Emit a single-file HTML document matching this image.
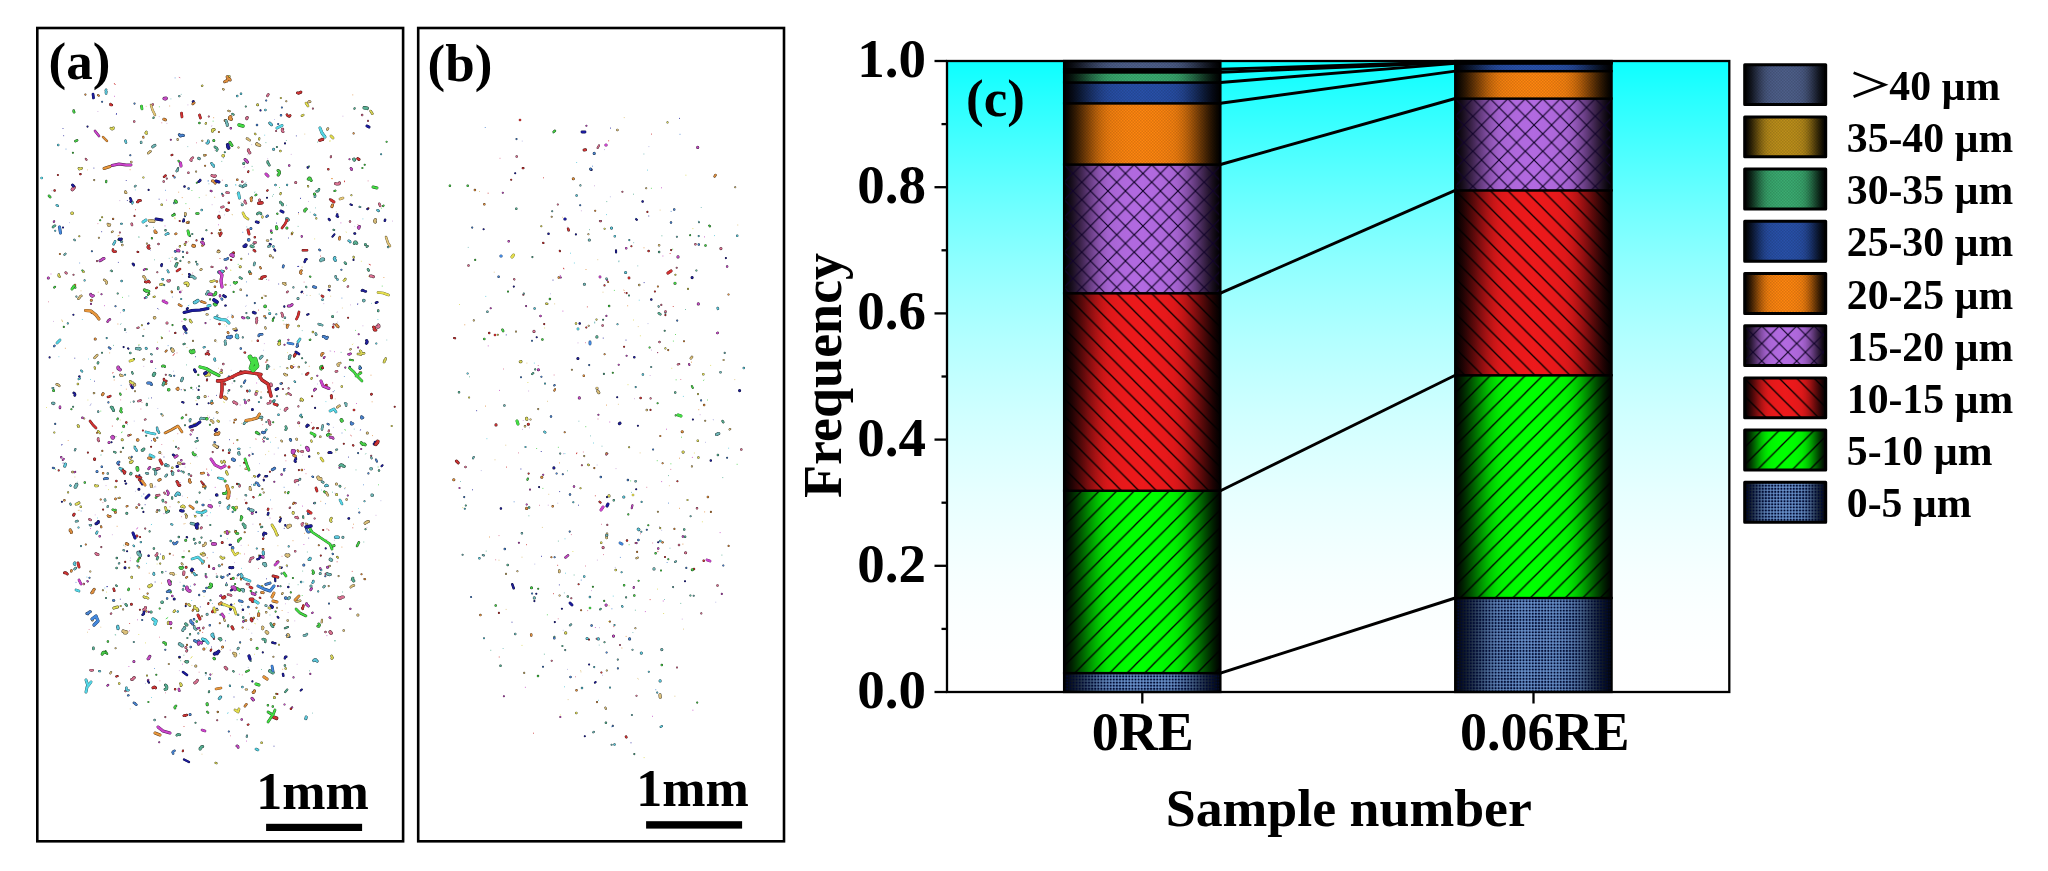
<!DOCTYPE html>
<html><head><meta charset="utf-8"><title>figure</title>
<style>
html,body{margin:0;padding:0;background:#fff;}
body{width:2048px;height:871px;overflow:hidden;position:relative;font-family:"Liberation Serif",serif;}
svg{position:absolute;left:0;top:0;will-change:transform;}
svg text{font-family:"Liberation Serif",serif;font-weight:bold;fill:#000;}
.panel{position:absolute;box-sizing:border-box;border:2.6px solid #000;background:#fff;}
</style></head><body>
<svg width="2048" height="871" viewBox="0 0 2048 871">
<defs>



<linearGradient id="bg" x1="0" x2="0" y1="0" y2="1"><stop offset="0.000" stop-color="#0cffff"/><stop offset="0.062" stop-color="#29ffff"/><stop offset="0.125" stop-color="#44ffff"/><stop offset="0.188" stop-color="#5effff"/><stop offset="0.250" stop-color="#76ffff"/><stop offset="0.312" stop-color="#8cffff"/><stop offset="0.375" stop-color="#a0ffff"/><stop offset="0.438" stop-color="#b2ffff"/><stop offset="0.500" stop-color="#c2ffff"/><stop offset="0.562" stop-color="#d0ffff"/><stop offset="0.625" stop-color="#dcffff"/><stop offset="0.688" stop-color="#e7ffff"/><stop offset="0.750" stop-color="#efffff"/><stop offset="0.812" stop-color="#f6ffff"/><stop offset="0.875" stop-color="#fbffff"/><stop offset="0.938" stop-color="#feffff"/><stop offset="1.000" stop-color="#ffffff"/></linearGradient>
<linearGradient id="g0" x1="0" x2="1" y1="0" y2="0"><stop offset="0.000" stop-color="#000000"/><stop offset="0.025" stop-color="#07090d"/><stop offset="0.050" stop-color="#10161e"/><stop offset="0.075" stop-color="#1a2431"/><stop offset="0.100" stop-color="#253346"/><stop offset="0.125" stop-color="#31435c"/><stop offset="0.150" stop-color="#3d5473"/><stop offset="0.175" stop-color="#496488"/><stop offset="0.200" stop-color="#54739d"/><stop offset="0.225" stop-color="#5e80af"/><stop offset="0.250" stop-color="#668cbf"/><stop offset="0.275" stop-color="#6d95cb"/><stop offset="0.300" stop-color="#719ad3"/><stop offset="0.325" stop-color="#739dd6"/><stop offset="0.350" stop-color="#749fd9"/><stop offset="0.375" stop-color="#75a0db"/><stop offset="0.400" stop-color="#76a2dd"/><stop offset="0.425" stop-color="#77a3de"/><stop offset="0.450" stop-color="#77a3df"/><stop offset="0.475" stop-color="#77a3df"/><stop offset="0.500" stop-color="#78a4e0"/><stop offset="0.525" stop-color="#77a3df"/><stop offset="0.550" stop-color="#77a3df"/><stop offset="0.575" stop-color="#77a3de"/><stop offset="0.600" stop-color="#76a2dd"/><stop offset="0.625" stop-color="#75a0db"/><stop offset="0.650" stop-color="#749fd9"/><stop offset="0.675" stop-color="#739dd6"/><stop offset="0.700" stop-color="#719ad3"/><stop offset="0.725" stop-color="#6d95cb"/><stop offset="0.750" stop-color="#668cbf"/><stop offset="0.775" stop-color="#5e80af"/><stop offset="0.800" stop-color="#54739d"/><stop offset="0.825" stop-color="#496488"/><stop offset="0.850" stop-color="#3d5473"/><stop offset="0.875" stop-color="#31435c"/><stop offset="0.900" stop-color="#253346"/><stop offset="0.925" stop-color="#1a2431"/><stop offset="0.950" stop-color="#10161e"/><stop offset="0.975" stop-color="#07090d"/><stop offset="1.000" stop-color="#000000"/></linearGradient>
<linearGradient id="g1" x1="0" x2="1" y1="0" y2="0"><stop offset="0.000" stop-color="#000000"/><stop offset="0.025" stop-color="#000f00"/><stop offset="0.050" stop-color="#002200"/><stop offset="0.075" stop-color="#003800"/><stop offset="0.100" stop-color="#005000"/><stop offset="0.125" stop-color="#006900"/><stop offset="0.150" stop-color="#008200"/><stop offset="0.175" stop-color="#009b00"/><stop offset="0.200" stop-color="#00b300"/><stop offset="0.225" stop-color="#00c800"/><stop offset="0.250" stop-color="#00d900"/><stop offset="0.275" stop-color="#00e700"/><stop offset="0.300" stop-color="#00f000"/><stop offset="0.325" stop-color="#00f400"/><stop offset="0.350" stop-color="#00f700"/><stop offset="0.375" stop-color="#00fa00"/><stop offset="0.400" stop-color="#00fc00"/><stop offset="0.425" stop-color="#00fd00"/><stop offset="0.450" stop-color="#00fe00"/><stop offset="0.475" stop-color="#00fe00"/><stop offset="0.500" stop-color="#00ff00"/><stop offset="0.525" stop-color="#00fe00"/><stop offset="0.550" stop-color="#00fe00"/><stop offset="0.575" stop-color="#00fd00"/><stop offset="0.600" stop-color="#00fc00"/><stop offset="0.625" stop-color="#00fa00"/><stop offset="0.650" stop-color="#00f700"/><stop offset="0.675" stop-color="#00f400"/><stop offset="0.700" stop-color="#00f000"/><stop offset="0.725" stop-color="#00e700"/><stop offset="0.750" stop-color="#00d900"/><stop offset="0.775" stop-color="#00c800"/><stop offset="0.800" stop-color="#00b300"/><stop offset="0.825" stop-color="#009b00"/><stop offset="0.850" stop-color="#008200"/><stop offset="0.875" stop-color="#006900"/><stop offset="0.900" stop-color="#005000"/><stop offset="0.925" stop-color="#003800"/><stop offset="0.950" stop-color="#002200"/><stop offset="0.975" stop-color="#000f00"/><stop offset="1.000" stop-color="#000000"/></linearGradient>
<linearGradient id="g2" x1="0" x2="1" y1="0" y2="0"><stop offset="0.000" stop-color="#000000"/><stop offset="0.025" stop-color="#0e0101"/><stop offset="0.050" stop-color="#1f0303"/><stop offset="0.075" stop-color="#340506"/><stop offset="0.100" stop-color="#4a0808"/><stop offset="0.125" stop-color="#610a0b"/><stop offset="0.150" stop-color="#790d0e"/><stop offset="0.175" stop-color="#900f11"/><stop offset="0.200" stop-color="#a51213"/><stop offset="0.225" stop-color="#b91415"/><stop offset="0.250" stop-color="#c91617"/><stop offset="0.275" stop-color="#d61719"/><stop offset="0.300" stop-color="#de181a"/><stop offset="0.325" stop-color="#e2181a"/><stop offset="0.350" stop-color="#e5191b"/><stop offset="0.375" stop-color="#e7191b"/><stop offset="0.400" stop-color="#e9191b"/><stop offset="0.425" stop-color="#ea191b"/><stop offset="0.450" stop-color="#eb191b"/><stop offset="0.475" stop-color="#eb191b"/><stop offset="0.500" stop-color="#ec1a1c"/><stop offset="0.525" stop-color="#eb191b"/><stop offset="0.550" stop-color="#eb191b"/><stop offset="0.575" stop-color="#ea191b"/><stop offset="0.600" stop-color="#e9191b"/><stop offset="0.625" stop-color="#e7191b"/><stop offset="0.650" stop-color="#e5191b"/><stop offset="0.675" stop-color="#e2181a"/><stop offset="0.700" stop-color="#de181a"/><stop offset="0.725" stop-color="#d61719"/><stop offset="0.750" stop-color="#c91617"/><stop offset="0.775" stop-color="#b91415"/><stop offset="0.800" stop-color="#a51213"/><stop offset="0.825" stop-color="#900f11"/><stop offset="0.850" stop-color="#790d0e"/><stop offset="0.875" stop-color="#610a0b"/><stop offset="0.900" stop-color="#4a0808"/><stop offset="0.925" stop-color="#340506"/><stop offset="0.950" stop-color="#1f0303"/><stop offset="0.975" stop-color="#0e0101"/><stop offset="1.000" stop-color="#000000"/></linearGradient>
<linearGradient id="g3" x1="0" x2="1" y1="0" y2="0"><stop offset="0.000" stop-color="#000000"/><stop offset="0.025" stop-color="#0a060d"/><stop offset="0.050" stop-color="#180e1e"/><stop offset="0.075" stop-color="#271731"/><stop offset="0.100" stop-color="#382146"/><stop offset="0.125" stop-color="#492b5c"/><stop offset="0.150" stop-color="#5b3673"/><stop offset="0.175" stop-color="#6c4088"/><stop offset="0.200" stop-color="#7d4a9d"/><stop offset="0.225" stop-color="#8b53af"/><stop offset="0.250" stop-color="#985abf"/><stop offset="0.275" stop-color="#a160cb"/><stop offset="0.300" stop-color="#a764d3"/><stop offset="0.325" stop-color="#aa65d6"/><stop offset="0.350" stop-color="#ac67d9"/><stop offset="0.375" stop-color="#ae68db"/><stop offset="0.400" stop-color="#b068dd"/><stop offset="0.425" stop-color="#b069de"/><stop offset="0.450" stop-color="#b169df"/><stop offset="0.475" stop-color="#b169df"/><stop offset="0.500" stop-color="#b26ae0"/><stop offset="0.525" stop-color="#b169df"/><stop offset="0.550" stop-color="#b169df"/><stop offset="0.575" stop-color="#b069de"/><stop offset="0.600" stop-color="#b068dd"/><stop offset="0.625" stop-color="#ae68db"/><stop offset="0.650" stop-color="#ac67d9"/><stop offset="0.675" stop-color="#aa65d6"/><stop offset="0.700" stop-color="#a764d3"/><stop offset="0.725" stop-color="#a160cb"/><stop offset="0.750" stop-color="#985abf"/><stop offset="0.775" stop-color="#8b53af"/><stop offset="0.800" stop-color="#7d4a9d"/><stop offset="0.825" stop-color="#6c4088"/><stop offset="0.850" stop-color="#5b3673"/><stop offset="0.875" stop-color="#492b5c"/><stop offset="0.900" stop-color="#382146"/><stop offset="0.925" stop-color="#271731"/><stop offset="0.950" stop-color="#180e1e"/><stop offset="0.975" stop-color="#0a060d"/><stop offset="1.000" stop-color="#000000"/></linearGradient>
<linearGradient id="g4" x1="0" x2="1" y1="0" y2="0"><stop offset="0.000" stop-color="#000000"/><stop offset="0.025" stop-color="#0f0800"/><stop offset="0.050" stop-color="#221202"/><stop offset="0.075" stop-color="#381d03"/><stop offset="0.100" stop-color="#502a05"/><stop offset="0.125" stop-color="#693706"/><stop offset="0.150" stop-color="#824408"/><stop offset="0.175" stop-color="#9b5109"/><stop offset="0.200" stop-color="#b35e0b"/><stop offset="0.225" stop-color="#c8690c"/><stop offset="0.250" stop-color="#d9720d"/><stop offset="0.275" stop-color="#e7790e"/><stop offset="0.300" stop-color="#f07e0f"/><stop offset="0.325" stop-color="#f4800f"/><stop offset="0.350" stop-color="#f7820f"/><stop offset="0.375" stop-color="#fa830f"/><stop offset="0.400" stop-color="#fc840f"/><stop offset="0.425" stop-color="#fd850f"/><stop offset="0.450" stop-color="#fe850f"/><stop offset="0.475" stop-color="#fe850f"/><stop offset="0.500" stop-color="#ff8610"/><stop offset="0.525" stop-color="#fe850f"/><stop offset="0.550" stop-color="#fe850f"/><stop offset="0.575" stop-color="#fd850f"/><stop offset="0.600" stop-color="#fc840f"/><stop offset="0.625" stop-color="#fa830f"/><stop offset="0.650" stop-color="#f7820f"/><stop offset="0.675" stop-color="#f4800f"/><stop offset="0.700" stop-color="#f07e0f"/><stop offset="0.725" stop-color="#e7790e"/><stop offset="0.750" stop-color="#d9720d"/><stop offset="0.775" stop-color="#c8690c"/><stop offset="0.800" stop-color="#b35e0b"/><stop offset="0.825" stop-color="#9b5109"/><stop offset="0.850" stop-color="#824408"/><stop offset="0.875" stop-color="#693706"/><stop offset="0.900" stop-color="#502a05"/><stop offset="0.925" stop-color="#381d03"/><stop offset="0.950" stop-color="#221202"/><stop offset="0.975" stop-color="#0f0800"/><stop offset="1.000" stop-color="#000000"/></linearGradient>
<linearGradient id="g5" x1="0" x2="1" y1="0" y2="0"><stop offset="0.000" stop-color="#000000"/><stop offset="0.025" stop-color="#02040a"/><stop offset="0.050" stop-color="#050a16"/><stop offset="0.075" stop-color="#091125"/><stop offset="0.100" stop-color="#0c1935"/><stop offset="0.125" stop-color="#102146"/><stop offset="0.150" stop-color="#152957"/><stop offset="0.175" stop-color="#193167"/><stop offset="0.200" stop-color="#1c3877"/><stop offset="0.225" stop-color="#203f85"/><stop offset="0.250" stop-color="#234591"/><stop offset="0.275" stop-color="#25499a"/><stop offset="0.300" stop-color="#264ca0"/><stop offset="0.325" stop-color="#274da3"/><stop offset="0.350" stop-color="#274ea5"/><stop offset="0.375" stop-color="#284fa6"/><stop offset="0.400" stop-color="#2850a8"/><stop offset="0.425" stop-color="#2850a9"/><stop offset="0.450" stop-color="#2850a9"/><stop offset="0.475" stop-color="#2850a9"/><stop offset="0.500" stop-color="#2951aa"/><stop offset="0.525" stop-color="#2850a9"/><stop offset="0.550" stop-color="#2850a9"/><stop offset="0.575" stop-color="#2850a9"/><stop offset="0.600" stop-color="#2850a8"/><stop offset="0.625" stop-color="#284fa6"/><stop offset="0.650" stop-color="#274ea5"/><stop offset="0.675" stop-color="#274da3"/><stop offset="0.700" stop-color="#264ca0"/><stop offset="0.725" stop-color="#25499a"/><stop offset="0.750" stop-color="#234591"/><stop offset="0.775" stop-color="#203f85"/><stop offset="0.800" stop-color="#1c3877"/><stop offset="0.825" stop-color="#193167"/><stop offset="0.850" stop-color="#152957"/><stop offset="0.875" stop-color="#102146"/><stop offset="0.900" stop-color="#0c1935"/><stop offset="0.925" stop-color="#091125"/><stop offset="0.950" stop-color="#050a16"/><stop offset="0.975" stop-color="#02040a"/><stop offset="1.000" stop-color="#000000"/></linearGradient>
<linearGradient id="g6" x1="0" x2="1" y1="0" y2="0"><stop offset="0.000" stop-color="#000000"/><stop offset="0.025" stop-color="#030a06"/><stop offset="0.050" stop-color="#07170f"/><stop offset="0.075" stop-color="#0d2619"/><stop offset="0.100" stop-color="#123623"/><stop offset="0.125" stop-color="#18472e"/><stop offset="0.150" stop-color="#1e583a"/><stop offset="0.175" stop-color="#246945"/><stop offset="0.200" stop-color="#29784f"/><stop offset="0.225" stop-color="#2e8658"/><stop offset="0.250" stop-color="#329360"/><stop offset="0.275" stop-color="#359c66"/><stop offset="0.300" stop-color="#37a26a"/><stop offset="0.325" stop-color="#38a56c"/><stop offset="0.350" stop-color="#39a76d"/><stop offset="0.375" stop-color="#39a86e"/><stop offset="0.400" stop-color="#3aaa6f"/><stop offset="0.425" stop-color="#3aab70"/><stop offset="0.450" stop-color="#3aab70"/><stop offset="0.475" stop-color="#3aab70"/><stop offset="0.500" stop-color="#3bac71"/><stop offset="0.525" stop-color="#3aab70"/><stop offset="0.550" stop-color="#3aab70"/><stop offset="0.575" stop-color="#3aab70"/><stop offset="0.600" stop-color="#3aaa6f"/><stop offset="0.625" stop-color="#39a86e"/><stop offset="0.650" stop-color="#39a76d"/><stop offset="0.675" stop-color="#38a56c"/><stop offset="0.700" stop-color="#37a26a"/><stop offset="0.725" stop-color="#359c66"/><stop offset="0.750" stop-color="#329360"/><stop offset="0.775" stop-color="#2e8658"/><stop offset="0.800" stop-color="#29784f"/><stop offset="0.825" stop-color="#246945"/><stop offset="0.850" stop-color="#1e583a"/><stop offset="0.875" stop-color="#18472e"/><stop offset="0.900" stop-color="#123623"/><stop offset="0.925" stop-color="#0d2619"/><stop offset="0.950" stop-color="#07170f"/><stop offset="0.975" stop-color="#030a06"/><stop offset="1.000" stop-color="#000000"/></linearGradient>
<linearGradient id="g7" x1="0" x2="1" y1="0" y2="0"><stop offset="0.000" stop-color="#000000"/><stop offset="0.025" stop-color="#0b0801"/><stop offset="0.050" stop-color="#191303"/><stop offset="0.075" stop-color="#291f05"/><stop offset="0.100" stop-color="#3b2d08"/><stop offset="0.125" stop-color="#4d3b0b"/><stop offset="0.150" stop-color="#60490d"/><stop offset="0.175" stop-color="#725710"/><stop offset="0.200" stop-color="#846412"/><stop offset="0.225" stop-color="#937015"/><stop offset="0.250" stop-color="#a07a17"/><stop offset="0.275" stop-color="#aa8118"/><stop offset="0.300" stop-color="#b18619"/><stop offset="0.325" stop-color="#b48919"/><stop offset="0.350" stop-color="#b68a1a"/><stop offset="0.375" stop-color="#b88c1a"/><stop offset="0.400" stop-color="#b98d1a"/><stop offset="0.425" stop-color="#ba8e1a"/><stop offset="0.450" stop-color="#bb8e1a"/><stop offset="0.475" stop-color="#bb8e1a"/><stop offset="0.500" stop-color="#bc8f1b"/><stop offset="0.525" stop-color="#bb8e1a"/><stop offset="0.550" stop-color="#bb8e1a"/><stop offset="0.575" stop-color="#ba8e1a"/><stop offset="0.600" stop-color="#b98d1a"/><stop offset="0.625" stop-color="#b88c1a"/><stop offset="0.650" stop-color="#b68a1a"/><stop offset="0.675" stop-color="#b48919"/><stop offset="0.700" stop-color="#b18619"/><stop offset="0.725" stop-color="#aa8118"/><stop offset="0.750" stop-color="#a07a17"/><stop offset="0.775" stop-color="#937015"/><stop offset="0.800" stop-color="#846412"/><stop offset="0.825" stop-color="#725710"/><stop offset="0.850" stop-color="#60490d"/><stop offset="0.875" stop-color="#4d3b0b"/><stop offset="0.900" stop-color="#3b2d08"/><stop offset="0.925" stop-color="#291f05"/><stop offset="0.950" stop-color="#191303"/><stop offset="0.975" stop-color="#0b0801"/><stop offset="1.000" stop-color="#000000"/></linearGradient>
<linearGradient id="g8" x1="0" x2="1" y1="0" y2="0"><stop offset="0.000" stop-color="#000000"/><stop offset="0.025" stop-color="#040508"/><stop offset="0.050" stop-color="#0a0c12"/><stop offset="0.075" stop-color="#11151e"/><stop offset="0.100" stop-color="#181d2b"/><stop offset="0.125" stop-color="#202739"/><stop offset="0.150" stop-color="#283046"/><stop offset="0.175" stop-color="#2f3a54"/><stop offset="0.200" stop-color="#364260"/><stop offset="0.225" stop-color="#3d4a6c"/><stop offset="0.250" stop-color="#425175"/><stop offset="0.275" stop-color="#46567d"/><stop offset="0.300" stop-color="#495982"/><stop offset="0.325" stop-color="#4a5b84"/><stop offset="0.350" stop-color="#4b5c86"/><stop offset="0.375" stop-color="#4c5d87"/><stop offset="0.400" stop-color="#4d5d88"/><stop offset="0.425" stop-color="#4d5e89"/><stop offset="0.450" stop-color="#4d5e89"/><stop offset="0.475" stop-color="#4d5e89"/><stop offset="0.500" stop-color="#4e5f8a"/><stop offset="0.525" stop-color="#4d5e89"/><stop offset="0.550" stop-color="#4d5e89"/><stop offset="0.575" stop-color="#4d5e89"/><stop offset="0.600" stop-color="#4d5d88"/><stop offset="0.625" stop-color="#4c5d87"/><stop offset="0.650" stop-color="#4b5c86"/><stop offset="0.675" stop-color="#4a5b84"/><stop offset="0.700" stop-color="#495982"/><stop offset="0.725" stop-color="#46567d"/><stop offset="0.750" stop-color="#425175"/><stop offset="0.775" stop-color="#3d4a6c"/><stop offset="0.800" stop-color="#364260"/><stop offset="0.825" stop-color="#2f3a54"/><stop offset="0.850" stop-color="#283046"/><stop offset="0.875" stop-color="#202739"/><stop offset="0.900" stop-color="#181d2b"/><stop offset="0.925" stop-color="#11151e"/><stop offset="0.950" stop-color="#0a0c12"/><stop offset="0.975" stop-color="#040508"/><stop offset="1.000" stop-color="#000000"/></linearGradient>
<pattern id="pfw" width="17.5" height="17.5" patternUnits="userSpaceOnUse"><path d="M-2,19.5L19.5,-2M-2,2L2,-2M15.5,19.5L19.5,15.5" stroke="#000" stroke-width="1.3" fill="none"/></pattern>
<pattern id="pbk" width="17.5" height="17.5" patternUnits="userSpaceOnUse"><path d="M-2,-2L19.5,19.5M15.5,-2L19.5,2M-2,15.5L2,19.5" stroke="#000" stroke-width="1.3" fill="none"/></pattern>
<pattern id="pxx" width="17.5" height="17.5" patternUnits="userSpaceOnUse"><path d="M-2,19.5L19.5,-2M-2,2L2,-2M15.5,19.5L19.5,15.5M-2,-2L19.5,19.5M15.5,-2L19.5,2M-2,15.5L2,19.5" stroke="#12042a" stroke-width="1.2" fill="none"/></pattern>
<pattern id="pdot" width="3.1" height="3.1" patternUnits="userSpaceOnUse"><rect x="-1.05" y="-1.05" width="2.1" height="2.1" fill="#000a32"/><rect x="2.05" y="-1.05" width="2.1" height="2.1" fill="#000a32"/><rect x="-1.05" y="2.05" width="2.1" height="2.1" fill="#000a32"/><rect x="2.05" y="2.05" width="2.1" height="2.1" fill="#000a32"/></pattern>
<pattern id="pfine" width="3" height="3" patternUnits="userSpaceOnUse"><path d="M0,0h1.5v1.5h-1.5zM1.5,1.5h1.5v1.5h-1.5z" fill="#000" opacity="0.13"/></pattern>
<linearGradient id="l0" x1="0" x2="1" y1="0" y2="0"><stop offset="0.000" stop-color="#000000"/><stop offset="0.042" stop-color="#0d1118"/><stop offset="0.083" stop-color="#1e2938"/><stop offset="0.125" stop-color="#31435c"/><stop offset="0.167" stop-color="#455e81"/><stop offset="0.208" stop-color="#5777a3"/><stop offset="0.250" stop-color="#668cbf"/><stop offset="0.292" stop-color="#7099d1"/><stop offset="0.333" stop-color="#739ed7"/><stop offset="0.375" stop-color="#75a0db"/><stop offset="0.417" stop-color="#77a2de"/><stop offset="0.458" stop-color="#77a3df"/><stop offset="0.500" stop-color="#78a4e0"/><stop offset="0.542" stop-color="#77a3df"/><stop offset="0.583" stop-color="#77a2de"/><stop offset="0.625" stop-color="#75a0db"/><stop offset="0.667" stop-color="#739ed7"/><stop offset="0.708" stop-color="#7099d1"/><stop offset="0.750" stop-color="#668cbf"/><stop offset="0.792" stop-color="#5777a3"/><stop offset="0.833" stop-color="#455e81"/><stop offset="0.875" stop-color="#31435c"/><stop offset="0.917" stop-color="#1e2938"/><stop offset="0.958" stop-color="#0d1118"/><stop offset="1.000" stop-color="#000000"/></linearGradient>
<linearGradient id="l1" x1="0" x2="1" y1="0" y2="0"><stop offset="0.000" stop-color="#000000"/><stop offset="0.042" stop-color="#001b00"/><stop offset="0.083" stop-color="#004000"/><stop offset="0.125" stop-color="#006900"/><stop offset="0.167" stop-color="#009300"/><stop offset="0.208" stop-color="#00ba00"/><stop offset="0.250" stop-color="#00d900"/><stop offset="0.292" stop-color="#00ee00"/><stop offset="0.333" stop-color="#00f500"/><stop offset="0.375" stop-color="#00fa00"/><stop offset="0.417" stop-color="#00fd00"/><stop offset="0.458" stop-color="#00fe00"/><stop offset="0.500" stop-color="#00ff00"/><stop offset="0.542" stop-color="#00fe00"/><stop offset="0.583" stop-color="#00fd00"/><stop offset="0.625" stop-color="#00fa00"/><stop offset="0.667" stop-color="#00f500"/><stop offset="0.708" stop-color="#00ee00"/><stop offset="0.750" stop-color="#00d900"/><stop offset="0.792" stop-color="#00ba00"/><stop offset="0.833" stop-color="#009300"/><stop offset="0.875" stop-color="#006900"/><stop offset="0.917" stop-color="#004000"/><stop offset="0.958" stop-color="#001b00"/><stop offset="1.000" stop-color="#000000"/></linearGradient>
<linearGradient id="l2" x1="0" x2="1" y1="0" y2="0"><stop offset="0.000" stop-color="#000000"/><stop offset="0.042" stop-color="#190203"/><stop offset="0.083" stop-color="#3b0607"/><stop offset="0.125" stop-color="#610a0b"/><stop offset="0.167" stop-color="#880f10"/><stop offset="0.208" stop-color="#ac1314"/><stop offset="0.250" stop-color="#c91617"/><stop offset="0.292" stop-color="#dc181a"/><stop offset="0.333" stop-color="#e3191a"/><stop offset="0.375" stop-color="#e7191b"/><stop offset="0.417" stop-color="#ea191b"/><stop offset="0.458" stop-color="#eb191b"/><stop offset="0.500" stop-color="#ec1a1c"/><stop offset="0.542" stop-color="#eb191b"/><stop offset="0.583" stop-color="#ea191b"/><stop offset="0.625" stop-color="#e7191b"/><stop offset="0.667" stop-color="#e3191a"/><stop offset="0.708" stop-color="#dc181a"/><stop offset="0.750" stop-color="#c91617"/><stop offset="0.792" stop-color="#ac1314"/><stop offset="0.833" stop-color="#880f10"/><stop offset="0.875" stop-color="#610a0b"/><stop offset="0.917" stop-color="#3b0607"/><stop offset="0.958" stop-color="#190203"/><stop offset="1.000" stop-color="#000000"/></linearGradient>
<linearGradient id="l3" x1="0" x2="1" y1="0" y2="0"><stop offset="0.000" stop-color="#000000"/><stop offset="0.042" stop-color="#130b18"/><stop offset="0.083" stop-color="#2c1a38"/><stop offset="0.125" stop-color="#492b5c"/><stop offset="0.167" stop-color="#673d81"/><stop offset="0.208" stop-color="#824da3"/><stop offset="0.250" stop-color="#985abf"/><stop offset="0.292" stop-color="#a663d1"/><stop offset="0.333" stop-color="#ab66d7"/><stop offset="0.375" stop-color="#ae68db"/><stop offset="0.417" stop-color="#b069de"/><stop offset="0.458" stop-color="#b169df"/><stop offset="0.500" stop-color="#b26ae0"/><stop offset="0.542" stop-color="#b169df"/><stop offset="0.583" stop-color="#b069de"/><stop offset="0.625" stop-color="#ae68db"/><stop offset="0.667" stop-color="#ab66d7"/><stop offset="0.708" stop-color="#a663d1"/><stop offset="0.750" stop-color="#985abf"/><stop offset="0.792" stop-color="#824da3"/><stop offset="0.833" stop-color="#673d81"/><stop offset="0.875" stop-color="#492b5c"/><stop offset="0.917" stop-color="#2c1a38"/><stop offset="0.958" stop-color="#130b18"/><stop offset="1.000" stop-color="#000000"/></linearGradient>
<linearGradient id="l4" x1="0" x2="1" y1="0" y2="0"><stop offset="0.000" stop-color="#000000"/><stop offset="0.042" stop-color="#1b0e01"/><stop offset="0.083" stop-color="#402104"/><stop offset="0.125" stop-color="#693706"/><stop offset="0.167" stop-color="#934d09"/><stop offset="0.208" stop-color="#ba610b"/><stop offset="0.250" stop-color="#d9720d"/><stop offset="0.292" stop-color="#ee7d0e"/><stop offset="0.333" stop-color="#f5810f"/><stop offset="0.375" stop-color="#fa830f"/><stop offset="0.417" stop-color="#fd850f"/><stop offset="0.458" stop-color="#fe850f"/><stop offset="0.500" stop-color="#ff8610"/><stop offset="0.542" stop-color="#fe850f"/><stop offset="0.583" stop-color="#fd850f"/><stop offset="0.625" stop-color="#fa830f"/><stop offset="0.667" stop-color="#f5810f"/><stop offset="0.708" stop-color="#ee7d0e"/><stop offset="0.750" stop-color="#d9720d"/><stop offset="0.792" stop-color="#ba610b"/><stop offset="0.833" stop-color="#934d09"/><stop offset="0.875" stop-color="#693706"/><stop offset="0.917" stop-color="#402104"/><stop offset="0.958" stop-color="#1b0e01"/><stop offset="1.000" stop-color="#000000"/></linearGradient>
<linearGradient id="l5" x1="0" x2="1" y1="0" y2="0"><stop offset="0.000" stop-color="#000000"/><stop offset="0.042" stop-color="#040812"/><stop offset="0.083" stop-color="#0a142a"/><stop offset="0.125" stop-color="#102146"/><stop offset="0.167" stop-color="#172e62"/><stop offset="0.208" stop-color="#1d3b7c"/><stop offset="0.250" stop-color="#234591"/><stop offset="0.292" stop-color="#264b9e"/><stop offset="0.333" stop-color="#274ea3"/><stop offset="0.375" stop-color="#284fa6"/><stop offset="0.417" stop-color="#2850a8"/><stop offset="0.458" stop-color="#2850a9"/><stop offset="0.500" stop-color="#2951aa"/><stop offset="0.542" stop-color="#2850a9"/><stop offset="0.583" stop-color="#2850a8"/><stop offset="0.625" stop-color="#284fa6"/><stop offset="0.667" stop-color="#274ea3"/><stop offset="0.708" stop-color="#264b9e"/><stop offset="0.750" stop-color="#234591"/><stop offset="0.792" stop-color="#1d3b7c"/><stop offset="0.833" stop-color="#172e62"/><stop offset="0.875" stop-color="#102146"/><stop offset="0.917" stop-color="#0a142a"/><stop offset="0.958" stop-color="#040812"/><stop offset="1.000" stop-color="#000000"/></linearGradient>
<linearGradient id="l6" x1="0" x2="1" y1="0" y2="0"><stop offset="0.000" stop-color="#000000"/><stop offset="0.042" stop-color="#06120c"/><stop offset="0.083" stop-color="#0e2b1c"/><stop offset="0.125" stop-color="#18472e"/><stop offset="0.167" stop-color="#226341"/><stop offset="0.208" stop-color="#2b7d52"/><stop offset="0.250" stop-color="#329360"/><stop offset="0.292" stop-color="#37a069"/><stop offset="0.333" stop-color="#38a56c"/><stop offset="0.375" stop-color="#39a86e"/><stop offset="0.417" stop-color="#3aaa70"/><stop offset="0.458" stop-color="#3aab70"/><stop offset="0.500" stop-color="#3bac71"/><stop offset="0.542" stop-color="#3aab70"/><stop offset="0.583" stop-color="#3aaa70"/><stop offset="0.625" stop-color="#39a86e"/><stop offset="0.667" stop-color="#38a56c"/><stop offset="0.708" stop-color="#37a069"/><stop offset="0.750" stop-color="#329360"/><stop offset="0.792" stop-color="#2b7d52"/><stop offset="0.833" stop-color="#226341"/><stop offset="0.875" stop-color="#18472e"/><stop offset="0.917" stop-color="#0e2b1c"/><stop offset="0.958" stop-color="#06120c"/><stop offset="1.000" stop-color="#000000"/></linearGradient>
<linearGradient id="l7" x1="0" x2="1" y1="0" y2="0"><stop offset="0.000" stop-color="#000000"/><stop offset="0.042" stop-color="#140f02"/><stop offset="0.083" stop-color="#2f2406"/><stop offset="0.125" stop-color="#4d3b0b"/><stop offset="0.167" stop-color="#6c520f"/><stop offset="0.208" stop-color="#896813"/><stop offset="0.250" stop-color="#a07a17"/><stop offset="0.292" stop-color="#af8519"/><stop offset="0.333" stop-color="#b5891a"/><stop offset="0.375" stop-color="#b88c1a"/><stop offset="0.417" stop-color="#ba8d1a"/><stop offset="0.458" stop-color="#bb8e1a"/><stop offset="0.500" stop-color="#bc8f1b"/><stop offset="0.542" stop-color="#bb8e1a"/><stop offset="0.583" stop-color="#ba8d1a"/><stop offset="0.625" stop-color="#b88c1a"/><stop offset="0.667" stop-color="#b5891a"/><stop offset="0.708" stop-color="#af8519"/><stop offset="0.750" stop-color="#a07a17"/><stop offset="0.792" stop-color="#896813"/><stop offset="0.833" stop-color="#6c520f"/><stop offset="0.875" stop-color="#4d3b0b"/><stop offset="0.917" stop-color="#2f2406"/><stop offset="0.958" stop-color="#140f02"/><stop offset="1.000" stop-color="#000000"/></linearGradient>
<linearGradient id="l8" x1="0" x2="1" y1="0" y2="0"><stop offset="0.000" stop-color="#000000"/><stop offset="0.042" stop-color="#080a0f"/><stop offset="0.083" stop-color="#131722"/><stop offset="0.125" stop-color="#202739"/><stop offset="0.167" stop-color="#2d364f"/><stop offset="0.208" stop-color="#394564"/><stop offset="0.250" stop-color="#425175"/><stop offset="0.292" stop-color="#485880"/><stop offset="0.333" stop-color="#4b5b85"/><stop offset="0.375" stop-color="#4c5d87"/><stop offset="0.417" stop-color="#4d5e88"/><stop offset="0.458" stop-color="#4d5e89"/><stop offset="0.500" stop-color="#4e5f8a"/><stop offset="0.542" stop-color="#4d5e89"/><stop offset="0.583" stop-color="#4d5e88"/><stop offset="0.625" stop-color="#4c5d87"/><stop offset="0.667" stop-color="#4b5b85"/><stop offset="0.708" stop-color="#485880"/><stop offset="0.750" stop-color="#425175"/><stop offset="0.792" stop-color="#394564"/><stop offset="0.833" stop-color="#2d364f"/><stop offset="0.875" stop-color="#202739"/><stop offset="0.917" stop-color="#131722"/><stop offset="0.958" stop-color="#080a0f"/><stop offset="1.000" stop-color="#000000"/></linearGradient>
<pattern id="pdot_0" width="3.1" height="3.1" patternUnits="userSpaceOnUse" patternTransform="translate(1064.20,673.32)"><rect x="-1.05" y="-1.05" width="2.1" height="2.1" fill="#000a32"/><rect x="2.05" y="-1.05" width="2.1" height="2.1" fill="#000a32"/><rect x="-1.05" y="2.05" width="2.1" height="2.1" fill="#000a32"/><rect x="2.05" y="2.05" width="2.1" height="2.1" fill="#000a32"/></pattern>
<pattern id="pfw_1" width="17.5" height="17.5" patternUnits="userSpaceOnUse" patternTransform="translate(1064.20,490.96)"><path d="M-2,19.5L19.5,-2M-2,2L2,-2M15.5,19.5L19.5,15.5" stroke="#000" stroke-width="1.3" fill="none"/></pattern>
<pattern id="pbk_2" width="17.5" height="17.5" patternUnits="userSpaceOnUse" patternTransform="translate(1064.20,293.46)"><path d="M-2,-2L19.5,19.5M15.5,-2L19.5,2M-2,15.5L2,19.5" stroke="#000" stroke-width="1.3" fill="none"/></pattern>
<pattern id="pxx_3" width="17.5" height="17.5" patternUnits="userSpaceOnUse" patternTransform="translate(1064.20,164.73)"><path d="M-2,19.5L19.5,-2M-2,2L2,-2M15.5,19.5L19.5,15.5M-2,-2L19.5,19.5M15.5,-2L19.5,2M-2,15.5L2,19.5" stroke="#12042a" stroke-width="1.2" fill="none"/></pattern>
<pattern id="pdot_4" width="3.1" height="3.1" patternUnits="userSpaceOnUse" patternTransform="translate(1455.30,598.23)"><rect x="-1.05" y="-1.05" width="2.1" height="2.1" fill="#000a32"/><rect x="2.05" y="-1.05" width="2.1" height="2.1" fill="#000a32"/><rect x="-1.05" y="2.05" width="2.1" height="2.1" fill="#000a32"/><rect x="2.05" y="2.05" width="2.1" height="2.1" fill="#000a32"/></pattern>
<pattern id="pfw_5" width="17.5" height="17.5" patternUnits="userSpaceOnUse" patternTransform="translate(1455.30,375.49)"><path d="M-2,19.5L19.5,-2M-2,2L2,-2M15.5,19.5L19.5,15.5" stroke="#000" stroke-width="1.3" fill="none"/></pattern>
<pattern id="pbk_6" width="17.5" height="17.5" patternUnits="userSpaceOnUse" patternTransform="translate(1455.30,190.60)"><path d="M-2,-2L19.5,19.5M15.5,-2L19.5,2M-2,15.5L2,19.5" stroke="#000" stroke-width="1.3" fill="none"/></pattern>
<pattern id="pxx_7" width="17.5" height="17.5" patternUnits="userSpaceOnUse" patternTransform="translate(1455.30,98.79)"><path d="M-2,19.5L19.5,-2M-2,2L2,-2M15.5,19.5L19.5,15.5M-2,-2L19.5,19.5M15.5,-2L19.5,2M-2,15.5L2,19.5" stroke="#12042a" stroke-width="1.2" fill="none"/></pattern>
<pattern id="pxx_8" width="17.5" height="17.5" patternUnits="userSpaceOnUse" patternTransform="translate(1744.20,326.00)"><path d="M-2,19.5L19.5,-2M-2,2L2,-2M15.5,19.5L19.5,15.5M-2,-2L19.5,19.5M15.5,-2L19.5,2M-2,15.5L2,19.5" stroke="#12042a" stroke-width="1.2" fill="none"/></pattern>
<pattern id="pbk_9" width="17.5" height="17.5" patternUnits="userSpaceOnUse" patternTransform="translate(1744.20,378.20)"><path d="M-2,-2L19.5,19.5M15.5,-2L19.5,2M-2,15.5L2,19.5" stroke="#000" stroke-width="1.3" fill="none"/></pattern>
<pattern id="pfw_10" width="17.5" height="17.5" patternUnits="userSpaceOnUse" patternTransform="translate(1744.20,430.40)"><path d="M-2,19.5L19.5,-2M-2,2L2,-2M15.5,19.5L19.5,15.5" stroke="#000" stroke-width="1.3" fill="none"/></pattern>
<pattern id="pdot_11" width="3.1" height="3.1" patternUnits="userSpaceOnUse" patternTransform="translate(1744.20,482.60)"><rect x="-1.05" y="-1.05" width="2.1" height="2.1" fill="#000a32"/><rect x="2.05" y="-1.05" width="2.1" height="2.1" fill="#000a32"/><rect x="-1.05" y="2.05" width="2.1" height="2.1" fill="#000a32"/><rect x="2.05" y="2.05" width="2.1" height="2.1" fill="#000a32"/></pattern>
</defs>
<g fill="none" stroke-linecap="round" stroke-linejoin="round">
<path d="M90.6,528.5l0.01,0M137.5,527.8l-0.71,1.15M304.5,469.4l0.01,0M274.3,467.3l0.01,0M246.5,741.1l0.01,0M208.4,396.4l0.01,0M183.6,334l0.01,0M169.3,331.1l0.01,0M130.2,560.7l0.01,0M163.9,513.7l0.01,0M114.6,96.3l0.01,0M230.2,650.1l0.01,0M129.6,630.8l0.01,0M340.9,222.9l0.01,0M239.3,674.3l0.01,0M104.5,305.7l0.01,0M356.6,403.5l0.01,0M244.3,166.9l-0.15,0.27M218.5,224.8l0.01,0M164.8,299.6l0.01,0M326.9,635.6l0.01,0M230.5,496.1l0.01,0M277.5,341.4l0.01,0M302.4,506.1l0.01,0M207.1,515.7l0.01,0M51,274l0.01,0M270,518.1l0.01,0M222.5,194l0.01,0M115.6,607.9l0.06,0.19M128.9,666.5l0.01,0M334.6,351.7l0.01,0M294.8,366.6l0.01,0M165,225.9l0.01,0M192.4,432.2l0.01,0M166.4,200.1l0.01,0M240.1,405l0.01,0M268.8,280.1l0.01,0M244.4,199.6l0.01,0M209.4,417.3l0.01,0M256.7,383l0.01,0M137.5,619.8l0.01,0M181.9,321.3l0.01,0M179.4,161.1l0.01,0M215.2,487.4l0.01,0M182.6,664.2l0.01,0M303.9,544.5l0.01,0" stroke="#c44cc4" stroke-width="0.9"/>
<path d="M48.5,301.8l0.01,0M207.4,472.4l0.21,0.35M140.9,409l0.01,0M182,290.3l0.01,0M142,402.5l0.01,0M258.4,568.5l0.01,0M97.9,223.6l0.01,0M161.8,454.2l0.01,0M161.8,444.5l0.01,0M170,506.8l0.01,0M244.8,499.9l0.01,0M250.6,558.7l0.01,0M89.1,629.5l0.01,0M306,473.7l0.01,0M177,352.9l0.01,0M199.1,672.2l0.01,0M177.8,433.7l0.01,0M368.1,180.9l0.01,0M357.9,224.6l0.01,0M161.8,122.8l0.01,0M181.6,516.7l0.01,0M216.3,573.8l0.01,0M159.9,680.8l0.01,0M230.4,735.8l0.01,0M282,556.3l0.01,0M326.8,539.8l0.01,0M192.7,273l0.01,0M179.2,77.4l0.67,0.26M196.4,142.8l0.01,0M244.4,554l0.01,0M184,551l0.01,0M176.5,248.9l0.01,0M304.1,282.1l0.01,0M332.7,382.9l0.01,0M170.7,261.2l0.01,0M202.4,546.7l0.01,0M303.5,293.4l0.01,0M285.9,460.8l0.01,0M159.5,637.2l0.01,0M120.7,399.9l0.01,0M311.4,422.7l0.01,0M242.3,674.9l0.01,0M271.9,508.8l0.01,0M222.3,180.2l0.01,0M165.6,692.8l0.01,0M211.9,403.9l0.01,0M319.2,535.3l0.06,0.49M102.9,502.6l0.01,0M262.7,424.6l0.01,0" stroke="#d87090" stroke-width="0.9"/>
<path d="M286.3,367.6l0.01,0M366.9,527.7l0.01,0M195,456.9l0.01,0M97.9,111.5l0.01,0M214.9,150.2l0.01,0M155.8,486.9l0.01,0M274.2,454.1l0.01,0M196.2,448.3l0.01,0M187.9,104.9l0.01,0M308.4,201.5l0.01,0M123.1,603.1l0.01,0M178.8,246.2l0.01,0M323.8,303.6l0.01,0M264.3,343.6l0.01,0M252.9,524.2l0.01,0M342.9,116.2l0.01,0M95.2,514.9l0.01,0M247.9,154.7l0.01,0M267.7,158.8l0.01,0M334.3,540.3l0.01,0M159.2,116.6l0.01,0M294.8,620.9l0.01,0M335,493.2l0.01,0M376,515.3l0.01,0M179.3,670.6l0.01,0M337.4,312l-0.4,0.14M330,351l0.76,0.08M240.2,485.6l0.01,0M219.3,211.8l0.01,0M291.2,154.4l0.01,0M257.4,586.7l0.01,0M166.9,123.4l0.01,0M285.4,603.8l0.01,0M120.5,312.7l0.01,0M297.1,664.3l0.01,0M392.5,221.1l0.01,0M179.8,482.5l0.68,0.06M362.9,325.8l0.01,0M219.7,505.3l-0.1,1.04M112.3,534.7l0.01,0M350.6,304.9l0.01,0M232.2,383.2l0.01,0M215,651.4l0.01,0M302.5,236.3l0.01,0M234.6,562.6l0.01,0M302.6,455.2l0.01,0M241.1,545.4l0.01,0M350.7,580.4l0.01,0M143.8,366.4l0.01,0M119.8,200.6l0.01,0M288.1,612.5l0.01,0M191.5,309.8l0.01,0M211.9,125.9l-0.45,0.24M228.2,316.9l-0.77,0.48M182.3,496.1l0.01,0M212.1,204.7l0.01,0M106,485.6l0.01,0M53.5,321.4l0.01,0" stroke="#c8a0d8" stroke-width="0.9"/>
<path d="M207.7,415.8l0.01,0M310.2,295.5l0.01,0M202,754.2l0.01,0M256.5,324.6l0.01,0M87.4,632.2l0.01,0M100.8,627.2l0.01,0M190.6,463.4l0.01,0M151.8,104.6l0.01,0M185.1,523.5l0.01,0M212.5,673.8l0.01,0M188.3,241.3l0.01,0M98.3,292.1l-0.04,0.25M236.2,193.7l0.01,0M232.1,214.6l0.45,0.15M206.1,195.2l0.01,0M251.9,341l0.01,0M79.3,510.3l-1.04,0.11M335.2,398.9l0.01,0M241.3,612l0.01,0M345.3,487.5l-0.43,0.65M342.3,308l0.01,0M274.1,369.3l0.01,0M203.6,241.6l0.01,0M74.9,477l0.01,0M236.9,498.9l0.01,0M120.2,420l0.01,0M146.2,106.4l0.01,0M241.5,423.4l0.01,0M87.6,169.9l0.01,0M185.3,222.7l0.01,0M121.5,412l0.01,0M265.6,454.6l0.01,0M126.3,604.2l0.01,0M130.2,708.9l0.01,0M204.2,311.4l0.01,0M187,347.5l0.01,0M275.8,437.5l0.01,0M330.7,296.2l0.01,0M61.8,319.9l0.7,1.8M218.5,368.3l0.01,0M81,290.8l0.01,0M216.8,342l0.01,0M304.8,134.1l0.01,0M336.3,211.8l0.01,0M191.9,665.4l0.01,0M261.7,548.8l0.01,0M277.9,545.7l0.01,0M304.2,518.8l0.01,0M254.5,600.9l0.01,0" stroke="#dcc07a" stroke-width="0.9"/>
<path d="M227.7,392.8l0.04,0.88M241.6,605.2l0.15,0.33M319.2,294.1l0.01,0M192.9,389.6l0.01,0M270,615l0.01,0M273.5,194.5l0.01,0M58.3,276.8l0.01,0M205.8,396.3l0.01,0M212.5,603.5l0.01,0M208.9,183.8l0.01,0M312.6,713.1l0.01,0M77.5,482.2l0.01,0M179.5,220.8l0.4,0.87M187.8,146.6l0.01,0M226.7,326.1l0.01,0M128.8,296l0.01,0M148.7,398.2l0.01,0M386.8,340l0.01,0M241.1,202.4l0.01,0M254.8,192l-0.17,0.43M181.2,94.4l0.01,0M334.4,390.6l0.01,0M153.5,227.4l0.01,0M250.1,447.6l0.01,0M210.3,499.9l0.1,0.19M110,271l0.01,0M302.2,330.6l0.01,0M95.7,459.1l0.01,0M306.9,295.3l0.01,0M218.3,496.1l0.01,0M169.2,258.4l0.01,0M310.2,212.2l0.01,0M156.7,498.2l0.01,0M354.2,429.1l0.01,0M170.9,98.9l0.01,0M315.4,207.9l0.01,0M302,374l0.01,0M121,323.7l-0.51,0.75M124.1,427.6l0.01,0M286.4,205.3l0.01,0M371.4,303.4l0.01,0M280.1,366.7l0.01,0M99.1,620.2l0.01,0M223.9,606.1l0.01,0" stroke="#70b8b8" stroke-width="0.9"/>
<path d="M298.6,213.9l0.01,0M213.7,117.7l0.01,0M187.4,497.6l0.01,0M184,523.9l0.01,0M149.2,573.2l0.01,0M248.3,545.2l0.01,0M117.9,324l0.01,0M320.8,501.3l0.01,0M284,324.2l0.01,0M371,375.2l0.01,0M341.9,547.1l0.01,0M372.1,401.8l0.01,0M302.1,267.1l0.01,0M161.6,583.1l0.01,0M383.9,277.5l0.01,0M221.1,278.7l-0.94,0.34M178.7,192.2l0.01,0M331.5,178.6l0.99,0.05M144,329.3l0.01,0M172.2,257.4l0.01,0M264,295.2l0.01,0M125.2,546.1l0.01,0M183.7,389.3l0.01,0M261.1,392l0.01,0M109.7,352.9l0.01,0M130.1,169.7l0.01,0M282.7,669.3l0.01,0M119.2,235.4l-1.22,0.43M184.2,661.6l0.01,0M169.7,106l0.01,0M182.2,197.6l0.01,0M114.2,380l0.01,0M221.6,649.5l0.01,0M304.6,533.3l0.01,0M372.5,435.6l0.01,0M189.5,208.6l0.01,0M293,540.7l0.01,0M65.3,348.3l0.01,0M117.1,526.3l0.01,0M352.8,94.9l0.01,0M182.2,274.4l0.01,0M282.1,610.5l0.01,0M126.3,389.2l0.01,0M68,440.3l0.16,0.17M214.7,197.3l0.01,0M249.6,613.9l0.01,0M188.7,273.9l0.01,0M353.6,524.2l0.01,0M309.2,366.3l0.01,0M227,594.1l0.01,0" stroke="#e09040" stroke-width="0.9"/>
<path d="M286.3,140.5l0.01,0M237.1,719.7l0.01,0M130.6,402.2l0.01,0M272.5,196.2l0.01,0M113.5,345.4l0.01,0M309.5,670.8l0.01,0M180.7,660.7l0.01,0M115.2,634.8l0.5,0.11M307.3,552l0.01,0M289.1,583.9l0.01,0M204,154.4l0.01,0M139.2,345.2l-0.48,0.12M183.9,655.2l0.01,0M363.8,542l0.01,0M101,454.9l-0.02,0.3M138.5,237l0.71,0.08M186.4,364.9l0.01,0M265.9,142.6l0.01,0M221.8,161.4l0.01,0M240.1,465.8l0.01,0M123.7,545.2l0.01,0M234.7,530.1l0.01,0M298.1,584.7l0.01,0M234.2,253.2l0.01,0M266.4,279.5l0.01,0M280.2,409.3l0.01,0M272.4,526.3l0.01,0M191.2,388.2l0.01,0M239.6,653.7l0.01,0M184.9,282.3l0.01,0M342.6,592l0.01,0M332.4,492.2l0.01,0M334.4,640.8l1.05,0M261.4,669.5l0.01,0M341.1,352.4l0.01,0M356,469.9l0.01,0M154.5,259.8l0.01,0M317.5,142.1l0.01,0M298.1,226.4l0.01,0M365.8,453.7l-0.16,0.27M197.1,456.7l0.01,0M226,599.7l0.01,0M252.1,166.4l0.01,0M302.7,571.1l0.01,0M253.9,265.3l0.01,0" stroke="#58b094" stroke-width="0.9"/>
<path d="M164,457l0.01,0M127.3,200.5l0.01,0M226.6,582.5l0.01,0M234,697l0.01,0M196.5,388l0.01,0M330.4,157.6l0.01,0M160.4,554.1l0.01,0M296.3,135.9l0.01,0M120.3,599.2l0.01,0M298.7,484.9l0.01,0M94.5,381.2l0.01,0M248.4,254l0.01,0M288.4,238l0.01,0M206.6,418.3l0.01,0M274,746.2l0.01,0M151.5,397.9l0.01,0M195.4,356.7l0.01,0M126.2,180.5l0.01,0M63.1,463.1l0.01,0M211.4,647l0.01,0M188.5,479.9l0.01,0M225.6,640.8l0.01,0M284.2,528.4l0.01,0M116.5,113.6l-0.08,0.75M357.7,303.8l-0.08,0.56M278.7,284l0.01,0M93.9,168.1l0.01,0M105.7,89.5l0.01,0M181.2,389.7l0.01,0M63,128.5l0.01,0M216.4,395.4l0.01,0M118.3,262.4l0.01,0M101.7,231.7l0.01,0M348.4,457.1l0.01,0M300.7,198.2l-0.38,0.27M107.5,586.6l-0.71,0.01M218,216.4l0.01,0M151.4,440.7l0.01,0M231.3,585.9l0.01,0M360.5,429.8l-0.08,0.28M266.5,578.8l0.01,0M145.1,504.7l0.01,0M155.1,582l0.01,0M308.7,538.1l0.01,0M62.1,444.7l-0.62,0.19M276.6,223.1l0.01,0M74.8,358.2l0.01,0M298.7,266.4l-1.04,0.07M229.4,439.7l0.01,0M63.7,135.7l0.01,0M143.8,494l0.01,0M285.4,468.5l-0.51,0.06M157.7,308.5l0.55,0.55M53.7,404.7l0.01,0M200.3,606.9l0.01,0M298.5,212.5l0.01,0M333.2,391.7l0.01,0M159.1,199.2l0.01,0M287.2,566.7l0.01,0M165.9,571.4l0.01,0" stroke="#20209a" stroke-width="0.9"/>
<path d="M112.3,426.1l0.01,0M329.4,289.5l0.01,0M344.5,181l0.03,0.79M174.4,353.7l-1.33,1.87M202.7,632.4l0.01,0M352.2,571.4l0.01,0M220,258.5l0.01,0M266.7,361.9l-1.32,0.27M327,529l0.01,0M233.4,443.3l0.01,0M173.2,555.2l0.01,0M337.1,561.8l0.01,0M194.6,570.6l0.01,0M236.8,578.2l0.01,0M207.2,557.8l0.01,0M320.4,256.1l0.01,0M243.3,164.5l0.01,0M113,372.5l-0.25,0.54M135.5,209.7l0.01,0M165.2,684.8l0.01,0M352.8,527.8l0.01,0M258.6,310.1l0.01,0M114.4,83.5l0.78,1.14M255.9,438.9l0.07,0.32M263.8,477.8l0.01,0M369.2,264.3l1.23,0.6M328.7,529.9l0.11,0.41M236.7,179.4l0.01,0M129.8,623.3l-0.28,0.3M146.8,348l0.01,0M262.7,439l-0.17,0.51M139.6,588.9l0.02,0.2M184,726.5l0.01,0M206.7,469.1l0.01,0M350.8,435.4l0.43,0.29" stroke="#cc3434" stroke-width="0.9"/>
<path d="M257,618.8l0.85,0.65M251.8,633.2l0.01,0M337.7,322.1l0.01,0M251.9,452.3l0.01,0M248.8,629.4l0.01,0M317.6,384l0.01,0M180.1,582.3l0.01,0M185.1,467.1l0.01,0M193.9,514.9l0.06,0.24M150.6,250.5l0.01,0M150,222.5l0.01,0M135.5,491.3l0.01,0M51.9,190.7l0.01,0M248.2,667.5l0.01,0M69.4,222.6l0.01,0M145.5,683.6l0.01,0M91.1,403.8l-1.04,1.84M231.2,370.4l0.01,0M157.8,408.5l0.01,0M380.9,500.7l0.01,0M274.4,119.5l0.01,0M251.7,144.6l0.01,0M130.4,558l0.01,0M263.5,350.3l0.01,0M173.5,371.2l0.01,0M224.5,214.9l0.01,0M259.5,463.6l0.01,0M251.4,617.4l0.01,0M139,552.5l0.01,0M230,420.8l0.01,0M354.8,226.3l0.01,0M134.2,421.1l0.01,0M246.1,305.9l-0.53,0.38M126.2,332.5l0.01,0M155.1,486.3l-1.19,1.08M210.1,319.6l0.01,0M333.3,427.4l0.01,0" stroke="#b0b0e0" stroke-width="0.9"/>
<path d="M314.7,238.9l0.01,0M174.7,707.8l0.01,0M346.2,232l0.08,0.19M224.8,324.7l0.01,0M204,596.4l0.01,0M368.4,276.4l0.01,0M259.3,220.4l0.01,0M259.3,610.3l0.01,0M176,574.4l0.01,0M173.3,440.9l0.01,0M287.5,352.7l0.01,0M293.8,364.5l0.01,0M230.7,270l0.09,0.6M138.9,344.5l0.01,0M174.8,217.8l0.18,1M235,610.4l0.01,0M335.8,452l0.01,0M254.9,623.3l0.27,0.53M145.5,642.9l0.01,0M192.1,656.6l-1.24,1.59M46.4,407.5l0.01,0M288.4,492.9l0.01,0M264.2,476.7l0.01,0M240.3,643.6l0.01,0M108.5,489.6l0.01,0M233.1,626.3l0.01,0M87.9,400l0.01,0M196,400.6l0.01,0M157.1,564l0.01,0M223.8,401.8l0.47,0.9M240.2,553.3l0.06,0.65M352.8,344.1l-0.29,0.34M299.4,426.1l0.01,0M138.8,634.5l0.01,0M361.3,261.3l0.01,0M246.7,629.2l0.01,0M252.2,477.7l0.01,0M206.3,647.6l0.17,0.13M254.4,654.3l0.01,0M330,140.6l-0.08,0.83M157.6,342.2l0.01,0M268.8,451.3l0.01,0M106.6,592.1l0.01,0M234.5,603.4l-0.36,1" stroke="#dcd858" stroke-width="0.9"/>
<path d="M223.6,157.9l0.01,0M79.7,263l0.01,0M251.5,484.7l0.01,0M154.5,668.5l0.01,0M325.4,503.7l0.01,0M253.3,600.5l0.01,0M230.3,285.3l0.01,0M172.3,297l0.01,0M208.2,180.6l-0.01,0.63M213.1,552.4l0.01,0M344.8,488.7l0.01,0M344.3,376.5l0.01,0M341.9,298.1l0.01,0M124.1,473.7l0.01,0M121.1,385.4l0.01,0M278.2,448l0.01,0M168.1,345.6l0.01,0M155.7,368.5l0.01,0M342,433l0.01,0M81.1,511l0.01,0M246.5,281.9l0.01,0M66,149.1l0.01,0M213.7,418.2l0.01,0M76,582.4l0.01,0M231.8,314.9l0.01,0M165.4,190.3l0.01,0M258.1,531.5l0.01,0M170.6,471.4l0.01,0M206.1,674.9l-0.17,0.23M363.6,484.8l0.01,0M166.9,383.2l0.01,0M242.8,232.3l0.01,0M88.9,524.8l0.01,0M270.6,499.9l0.01,0M284.1,487.3l0.01,0M190.6,586.2l0.01,0M175.1,77.9l0.01,0" stroke="#4a84d0" stroke-width="0.9"/>
<path d="M377.9,319.5l0.01,0M86.9,577.1l0.01,0M362.9,218.9l0.01,0M197.8,524l0.01,0M146.5,563.4l0.01,0M358.4,508.6l0.01,0M217.4,319.6l0.01,0M135.3,189.9l0.01,0M229.1,613.5l0.01,0M147.7,279.5l0.85,0.33M97.5,518l0.01,0M210.6,512.7l0.01,0M246.8,226.9l0.01,0M264.7,135.2l0.01,0M321.5,490l0.01,0M211.6,470.1l0.01,0M253.5,601l0.01,0M82.3,319.5l0.01,0M191.7,600.5l0.01,0M227.3,538.7l0.01,0M303.7,582l0.01,0M58.9,356.7l0.01,0M88.5,359l0.01,0M289.9,343.4l-0.29,0.61M241.5,568.4l0.01,0M270.5,442.2l0.01,0M235.7,184.4l0.07,0.93M104.8,588l0.01,0M151.6,524.3l-0.26,0.41M258.6,379.1l0.01,0M141.8,496.1l0.01,0M90.4,379.5l0.01,0M228,712.7l-0.31,0.71M127.6,424.6l0.01,0M245.9,182.4l0.01,0M371.2,493.8l0.01,0M151.6,697.5l0.01,0M184.6,574.6l0.01,0M325.9,401.6l0.01,0M188.9,305.3l-0.79,0.44" stroke="#5cc8dc" stroke-width="0.9"/>
<path d="M116.1,436.6l0.01,0M75.4,112l0.01,0M122.5,297.4l0.01,0M258.5,495.9l0.01,0M131.7,577.1l0.01,0M161.2,336.5l0.01,0M134,445.9l0.01,0M378.5,484.8l0.01,0M258.5,610.7l0.01,0.87M382.2,286.1l0.01,0M279.6,187.5l0.01,0M191.9,190.5l0.01,0M268.5,309.9l0.72,0.36M159.3,106.8l0.01,0M283.1,320.6l0.01,0M378.1,467l0.01,0M355.4,330.4l0.01,0M300.9,445.2l-0.26,0.01M344.9,429.5l0.35,0.63M268.8,515.8l0.01,0M122,431.9l-0.44,0.84M231.4,252.8l0.01,0M302.2,595.5l0.01,0M253,170l0.01,0M183.6,252.1l0.01,0M337.7,596.2l0.01,0M213.1,121.2l0.01,0M55.4,469.4l0.01,0M167.8,617.6l-1.67,1.1M331.1,135.8l0.01,0M381.3,208.2l0.01,0M238.2,264.4l0.01,0M100.8,411.1l0.01,0M199.2,197.6l0.01,0M185.9,203.6l0.01,0" stroke="#48d048" stroke-width="0.9"/>
<path d="M282.9,389l0.01,0M211.5,266.8l1.03,0.15M287.8,291.5l-0.79,0.81M165.6,502.3l0.48,0.17M138.6,327.6l-1.19,0.36M312.9,108.6l0.01,0M208.3,351l-0.61,0.33M97,261.1l0.01,0M203.1,483.5l0.84,0.87M249.1,400.2l-0.6,0.27M113.2,219l0.01,0M175.4,332.9l0.01,0M314.6,518.5l0.01,0M329,430.4l-0.36,0.94M221.6,369.9l0.13,0.7M329.9,199.3l0.01,0M157.4,510.1l0.01,0M207.1,379.3l0.01,0M298.4,406.4l0.01,0M293.8,502.8l1.84,0.49M333.7,324.4l0.01,0M368,120.9l0.01,0M203.5,627.7l-0.28,0.67M208.8,116.5l0.01,0M276.1,131l0.01,0M145.5,419.4l-0.59,0.25M111.2,613.4l-0.29,0.31M119.9,232.5l0.01,0M348.1,286.3l-0.4,0.42M165.8,374.8l0.01,0M85.8,158.9l0.75,0.9M165.3,717.1l0.01,0M145.2,528.6l0.01,0M290,507.6l-0.3,0.3M331,156.3l-0.22,0.88M240,485.4l-0.55,1.06M288.6,388.4l0.01,0M217.2,720.2l0.01,0M164.3,492.7l0.64,0.85M288.3,393.2l2.52,1.66M328.6,452.5l0.08,0.56M166.8,178.6l0.01,0M213.9,638.9l0.01,0M371.2,455.8l0.01,0M157.3,272.3l0.01,0M192.8,429.9l-1.44,0.5M101.3,547.1l0.01,0M138.8,504.4l0.51,0.43M212.7,452.1l0.01,0M73.5,274.8l0.01,0M178.5,448.4l0.01,0" stroke="#47242f" stroke-width="2.1"/>
<path d="M282.9,389l0.01,0M211.5,266.8l1.03,0.15M287.8,291.5l-0.79,0.81M165.6,502.3l0.48,0.17M138.6,327.6l-1.19,0.36M312.9,108.6l0.01,0M208.3,351l-0.61,0.33M97,261.1l0.01,0M203.1,483.5l0.84,0.87M249.1,400.2l-0.6,0.27M113.2,219l0.01,0M175.4,332.9l0.01,0M314.6,518.5l0.01,0M329,430.4l-0.36,0.94M221.6,369.9l0.13,0.7M329.9,199.3l0.01,0M157.4,510.1l0.01,0M207.1,379.3l0.01,0M298.4,406.4l0.01,0M293.8,502.8l1.84,0.49M333.7,324.4l0.01,0M368,120.9l0.01,0M203.5,627.7l-0.28,0.67M208.8,116.5l0.01,0M276.1,131l0.01,0M145.5,419.4l-0.59,0.25M111.2,613.4l-0.29,0.31M119.9,232.5l0.01,0M348.1,286.3l-0.4,0.42M165.8,374.8l0.01,0M85.8,158.9l0.75,0.9M165.3,717.1l0.01,0M145.2,528.6l0.01,0M290,507.6l-0.3,0.3M331,156.3l-0.22,0.88M240,485.4l-0.55,1.06M288.6,388.4l0.01,0M217.2,720.2l0.01,0M164.3,492.7l0.64,0.85M288.3,393.2l2.52,1.66M328.6,452.5l0.08,0.56M166.8,178.6l0.01,0M213.9,638.9l0.01,0M371.2,455.8l0.01,0M157.3,272.3l0.01,0M192.8,429.9l-1.44,0.5M101.3,547.1l0.01,0M138.8,504.4l0.51,0.43M212.7,452.1l0.01,0M73.5,274.8l0.01,0M178.5,448.4l0.01,0" stroke="#d87090" stroke-width="1.3"/>
<path d="M101.5,294.2l0.01,0M170.8,139.8l0.01,0M277.9,586.1l0.01,0M226.2,267.6l0.24,0.99M63.7,458.8l-0.86,1.05M148.7,611.9l0.01,0M347.8,495.5l0.01,0M249.3,455.4l0.01,0M263.7,441.4l0.01,0M210.7,190.8l0.89,0.37M349.5,159.2l0.01,0M199.1,627.9l-1.78,0.69M205.5,323.1l0.01,0M301.7,236l0.05,0.63M184.4,463.8l-1.56,0.07M292.8,367.1l-1.39,0.07M252.9,619.2l0.01,0M75.2,471.9l-0.68,0.31M108.2,684.9l-0.89,0.78M312.6,612.6l-0.35,0.4M148.3,679.9l-0.4,0.35M284.5,704.5l0.01,0M339.5,467.7l0.01,0M159.2,742.3l0.01,0M292.2,707.4l0.01,0M118.9,464.8l0.01,0M358.1,347.5l0.01,0M358.7,334.2l0.01,0M317.3,375.7l0.01,0M361.2,449l0.01,0M194.6,584.5l0.01,0M345.3,367.6l0.01,0M288.4,339.7l0.01,0M350.5,608.8l-0.27,0.06M87.4,581l0.34,0.48M221,595.4l-0.7,0.45M91,303.9l0.01,0M284.5,344.8l0.01,0M208.2,474.5l0.24,0.76M145.1,269.1l-1.23,0.79M205.7,576l0.73,1.11M54.1,221.3l-0.22,0.49M324.5,357l-0.64,1.02M144.8,298.1l0.01,0M310.3,673.9l0.01,0M190.6,434.5l0.01,0M329.6,617.4l0.78,0.65M229.3,390l0.01,0M293.5,677.4l0.01,0M274.3,481.8l0.01,0M210.4,674.6l0.01,0" stroke="#401940" stroke-width="2.1"/>
<path d="M101.5,294.2l0.01,0M170.8,139.8l0.01,0M277.9,586.1l0.01,0M226.2,267.6l0.24,0.99M63.7,458.8l-0.86,1.05M148.7,611.9l0.01,0M347.8,495.5l0.01,0M249.3,455.4l0.01,0M263.7,441.4l0.01,0M210.7,190.8l0.89,0.37M349.5,159.2l0.01,0M199.1,627.9l-1.78,0.69M205.5,323.1l0.01,0M301.7,236l0.05,0.63M184.4,463.8l-1.56,0.07M292.8,367.1l-1.39,0.07M252.9,619.2l0.01,0M75.2,471.9l-0.68,0.31M108.2,684.9l-0.89,0.78M312.6,612.6l-0.35,0.4M148.3,679.9l-0.4,0.35M284.5,704.5l0.01,0M339.5,467.7l0.01,0M159.2,742.3l0.01,0M292.2,707.4l0.01,0M118.9,464.8l0.01,0M358.1,347.5l0.01,0M358.7,334.2l0.01,0M317.3,375.7l0.01,0M361.2,449l0.01,0M194.6,584.5l0.01,0M345.3,367.6l0.01,0M288.4,339.7l0.01,0M350.5,608.8l-0.27,0.06M87.4,581l0.34,0.48M221,595.4l-0.7,0.45M91,303.9l0.01,0M284.5,344.8l0.01,0M208.2,474.5l0.24,0.76M145.1,269.1l-1.23,0.79M205.7,576l0.73,1.11M54.1,221.3l-0.22,0.49M324.5,357l-0.64,1.02M144.8,298.1l0.01,0M310.3,673.9l0.01,0M190.6,434.5l0.01,0M329.6,617.4l0.78,0.65M229.3,390l0.01,0M293.5,677.4l0.01,0M274.3,481.8l0.01,0M210.4,674.6l0.01,0" stroke="#c44cc4" stroke-width="1.3"/>
<path d="M184.7,244.2l0.43,0.63M102.1,217.2l0.01,0M353.6,256.8l0.16,0.89M161.9,338.1l0.01,0M196,423.8l-1.53,0.18M141.9,325.3l0.01,0M337.1,556.9l0.88,0.68M292.4,232.7l-0.5,0.46M262.5,216.5l-0.08,0.92M147,675.6l0.01,0M217.8,712.1l0.01,0M225.5,284.8l0.01,0M259.3,138.4l-0.22,1.11M177.6,263.1l0.01,0M330.8,434.5l0.01,0M316.3,218.4l0.01,0M202.3,85.6l-0.32,0.19M215.5,762.8l1.02,0.43M98.1,431l1.73,2.17M318.1,453l0.29,0.41M185.6,514.4l0.29,0.1M311.3,440.5l0.32,1.22M262.1,297.9l0.01,0M351.4,195.3l0.01,0M154.6,296.7l-0.95,0.32M308,186.1l0.13,0.43M54.3,432.5l0.01,0M237.4,440.1l0.01,0M160.2,563.6l0.01,0M221.2,461.4l0.67,1.33M255,133.7l0.41,0.45M79.3,236.2l0.01,0M220.4,372.4l1.41,0.28M286.5,394.2l0.01,0M129.2,567.8l0.01,0M276.1,693.8l0.01,0M94.7,367.3l0.29,1.33M178.6,502.3l0.01,0M120.7,606l0.01,0M280.8,98l0.01,0M115.8,486.9l-0.27,0.22M241.3,258.8l0.01,0M259.1,555.6l0.01,0M254.2,476l0.81,0.64M180,246.1l-0.13,0.45M280.7,193.1l-0.31,1.09M279,644.7l0.01,0M171,628.1l0.01,0M285.2,492.4l0.01,0M256.4,391.3l1.02,0.13M206,123.1l-0.32,0.57M68.1,492.4l0.01,0M286.8,565.5l0.01,0M143.4,177.5l0.01,0M311.7,378l-0.23,0.81M236.6,334.9l0.37,0.83M189.1,551.2l0.01,0M287.4,368.3l0.01,0M259.5,279l0.01,0M179.3,657.8l0.01,0M391.7,426l0.01,0" stroke="#48471d" stroke-width="2.1"/>
<path d="M184.7,244.2l0.43,0.63M102.1,217.2l0.01,0M353.6,256.8l0.16,0.89M161.9,338.1l0.01,0M196,423.8l-1.53,0.18M141.9,325.3l0.01,0M337.1,556.9l0.88,0.68M292.4,232.7l-0.5,0.46M262.5,216.5l-0.08,0.92M147,675.6l0.01,0M217.8,712.1l0.01,0M225.5,284.8l0.01,0M259.3,138.4l-0.22,1.11M177.6,263.1l0.01,0M330.8,434.5l0.01,0M316.3,218.4l0.01,0M202.3,85.6l-0.32,0.19M215.5,762.8l1.02,0.43M98.1,431l1.73,2.17M318.1,453l0.29,0.41M185.6,514.4l0.29,0.1M311.3,440.5l0.32,1.22M262.1,297.9l0.01,0M351.4,195.3l0.01,0M154.6,296.7l-0.95,0.32M308,186.1l0.13,0.43M54.3,432.5l0.01,0M237.4,440.1l0.01,0M160.2,563.6l0.01,0M221.2,461.4l0.67,1.33M255,133.7l0.41,0.45M79.3,236.2l0.01,0M220.4,372.4l1.41,0.28M286.5,394.2l0.01,0M129.2,567.8l0.01,0M276.1,693.8l0.01,0M94.7,367.3l0.29,1.33M178.6,502.3l0.01,0M120.7,606l0.01,0M280.8,98l0.01,0M115.8,486.9l-0.27,0.22M241.3,258.8l0.01,0M259.1,555.6l0.01,0M254.2,476l0.81,0.64M180,246.1l-0.13,0.45M280.7,193.1l-0.31,1.09M279,644.7l0.01,0M171,628.1l0.01,0M285.2,492.4l0.01,0M256.4,391.3l1.02,0.13M206,123.1l-0.32,0.57M68.1,492.4l0.01,0M286.8,565.5l0.01,0M143.4,177.5l0.01,0M311.7,378l-0.23,0.81M236.6,334.9l0.37,0.83M189.1,551.2l0.01,0M287.4,368.3l0.01,0M259.5,279l0.01,0M179.3,657.8l0.01,0M391.7,426l0.01,0" stroke="#dcd858" stroke-width="1.3"/>
<path d="M192.3,234l0.01,0M164.2,285.1l0.01,0M290.8,439.4l0.01,0M114.1,451.9l1.41,0.65M303.1,516.3l0.12,1.4M132.1,372.2l0.57,1.43M146.8,403.9l-0.02,1.27M190.1,634.1l-0.05,0.32M102,352.7l0.01,0M195.5,722.8l0.01,0M199.1,386.3l0.01,0M288,627l-3.08,1.24M354.6,108.2l-0.15,0.56M187.2,650.2l0.01,0M233.2,671.1l0.47,0.43M116.2,585.4l0.51,0.56M180.4,260.9l0.01,0M142.2,508.2l0.01,0M153.6,117.6l-0.13,0.44M302.1,358.2l0.01,0M176,446.9l0.01,0M287.3,689.5l-2.16,2.57M259.4,434l-0.03,0.3M306.2,286.7l0.14,0.55M224.8,152.2l0.01,0M280.5,586.3l0.01,0M220.4,273.1l0.01,0M228.6,390.7l0.01,0M184.7,343.8l-1.17,0.36M365.5,529.3l0.01,0M146.2,435.8l0.01,0M201.7,515.4l0.01,0M333.5,229.8l0.65,0.16M183.4,471.8l0.21,0.63M183.1,257.1l0.01,0M205.7,574l0.01,0M210.3,525l0.01,0M234.4,381.1l0.01,0M201.5,537.6l0.01,0M205.1,488.4l0.01,0M309,166.5l0.01,0M209.1,691.2l-0.24,1.02M111.4,270.6l0.39,0.54M190.1,236.1l0.01,0M228.2,625.4l-0.17,0.97M185,425.3l0.01,0M244.4,620.6l0.01,0M245.8,106.5l0.01,0M205.8,673.1l0.01,0M199.6,492.6l0.01,0M262.2,526.8l-1.07,0.42M276.9,147l0.01,0M281.6,573.6l0.01,0M106,598l0.01,0M172.1,497.2l0.11,1.43M232.3,113.9l1.27,0.78M159.3,510.4l0.01,0M367.8,246l-1.18,0.78M187.4,638l0.01,0M197.8,440.6l-2.27,1.05M196.1,261.8l0.01,0M73.1,406.7l0.01,0M305.7,362.6l0.01,0M210.5,600.3l0.01,0M149.6,531.4l0.01,0M123.1,447.9l0.01,0M168.8,511.4l-2.41,0.47M226.8,498.2l0.01,0M238.7,484.1l-1.04,0.01M210.7,540.7l0.01,0M206.4,230.3l0.01,0M274.1,317.6l0.01,0M184.9,390.3l0.01,0M117.7,293.5l0.01,0" stroke="#1d3a30" stroke-width="2.1"/>
<path d="M192.3,234l0.01,0M164.2,285.1l0.01,0M290.8,439.4l0.01,0M114.1,451.9l1.41,0.65M303.1,516.3l0.12,1.4M132.1,372.2l0.57,1.43M146.8,403.9l-0.02,1.27M190.1,634.1l-0.05,0.32M102,352.7l0.01,0M195.5,722.8l0.01,0M199.1,386.3l0.01,0M288,627l-3.08,1.24M354.6,108.2l-0.15,0.56M187.2,650.2l0.01,0M233.2,671.1l0.47,0.43M116.2,585.4l0.51,0.56M180.4,260.9l0.01,0M142.2,508.2l0.01,0M153.6,117.6l-0.13,0.44M302.1,358.2l0.01,0M176,446.9l0.01,0M287.3,689.5l-2.16,2.57M259.4,434l-0.03,0.3M306.2,286.7l0.14,0.55M224.8,152.2l0.01,0M280.5,586.3l0.01,0M220.4,273.1l0.01,0M228.6,390.7l0.01,0M184.7,343.8l-1.17,0.36M365.5,529.3l0.01,0M146.2,435.8l0.01,0M201.7,515.4l0.01,0M333.5,229.8l0.65,0.16M183.4,471.8l0.21,0.63M183.1,257.1l0.01,0M205.7,574l0.01,0M210.3,525l0.01,0M234.4,381.1l0.01,0M201.5,537.6l0.01,0M205.1,488.4l0.01,0M309,166.5l0.01,0M209.1,691.2l-0.24,1.02M111.4,270.6l0.39,0.54M190.1,236.1l0.01,0M228.2,625.4l-0.17,0.97M185,425.3l0.01,0M244.4,620.6l0.01,0M245.8,106.5l0.01,0M205.8,673.1l0.01,0M199.6,492.6l0.01,0M262.2,526.8l-1.07,0.42M276.9,147l0.01,0M281.6,573.6l0.01,0M106,598l0.01,0M172.1,497.2l0.11,1.43M232.3,113.9l1.27,0.78M159.3,510.4l0.01,0M367.8,246l-1.18,0.78M187.4,638l0.01,0M197.8,440.6l-2.27,1.05M196.1,261.8l0.01,0M73.1,406.7l0.01,0M305.7,362.6l0.01,0M210.5,600.3l0.01,0M149.6,531.4l0.01,0M123.1,447.9l0.01,0M168.8,511.4l-2.41,0.47M226.8,498.2l0.01,0M238.7,484.1l-1.04,0.01M210.7,540.7l0.01,0M206.4,230.3l0.01,0M274.1,317.6l0.01,0M184.9,390.3l0.01,0M117.7,293.5l0.01,0" stroke="#58b094" stroke-width="1.3"/>
<path d="M67.8,323.4l0.01,0M220.9,535.9l0.01,0M121.1,223.8l0.72,0.02M222,193.8l0.01,0M287.1,184.7l-0.07,0.39M243.2,578.1l0.6,0.47M81,546.1l0.01,0M99.1,671.1l0.98,0.19M113.9,376.8l0.01,0M232.7,511.9l0.01,0M229.9,685.6l0.07,0.46M137.5,565.8l0.01,0M81.1,370.5l1.05,1.04M84.6,280.4l0.01,0M271.2,239.3l0.01,0M141,542.1l-0.26,0.11M249.6,390.6l-0.05,0.53M181.4,471.3l0.01,0M132.7,202.2l-0.42,1.36M198.3,633.4l0.01,0M276.3,314.3l0.01,0M221.9,605l0.01,0M181.2,299l0.01,0M269.2,366.5l0.01,0M314.5,214.6l0.83,0.54M133.5,545.5l0.51,0.71M376.3,343.5l0.01,0M78.5,527.5l0.01,0M267.7,438.9l-0.44,0M364.5,501.3l0.01,0M297,598.2l0.19,0.31M80,378.4l-1.36,0.72M381.1,154.2l0.01,0M204.7,347.1l-1.04,0.31M294.6,381.4l0.42,0.48M217.2,380l0.15,0.78M70.3,485.4l0.38,0.37M318.2,591.4l0.01,0M106.7,338.1l0.01,0M55.2,230.7l0.01,0M217.4,315.6l0.01,0M288.7,546.4l0.01,0M244.5,399.8l0.01,0M171.3,524.2l1,0.46M177.9,611.4l-0.25,0.21M258.9,402l0.01,0M239.5,448.7l-1.31,0.04M301.1,414.7l-0.88,0.95M167.6,270.4l0.91,1.87M266.5,429.6l-0.73,0.95M125.1,374.8l0.01,0M256.8,548.5l0.01,0" stroke="#1e4248" stroke-width="2.1"/>
<path d="M67.8,323.4l0.01,0M220.9,535.9l0.01,0M121.1,223.8l0.72,0.02M222,193.8l0.01,0M287.1,184.7l-0.07,0.39M243.2,578.1l0.6,0.47M81,546.1l0.01,0M99.1,671.1l0.98,0.19M113.9,376.8l0.01,0M232.7,511.9l0.01,0M229.9,685.6l0.07,0.46M137.5,565.8l0.01,0M81.1,370.5l1.05,1.04M84.6,280.4l0.01,0M271.2,239.3l0.01,0M141,542.1l-0.26,0.11M249.6,390.6l-0.05,0.53M181.4,471.3l0.01,0M132.7,202.2l-0.42,1.36M198.3,633.4l0.01,0M276.3,314.3l0.01,0M221.9,605l0.01,0M181.2,299l0.01,0M269.2,366.5l0.01,0M314.5,214.6l0.83,0.54M133.5,545.5l0.51,0.71M376.3,343.5l0.01,0M78.5,527.5l0.01,0M267.7,438.9l-0.44,0M364.5,501.3l0.01,0M297,598.2l0.19,0.31M80,378.4l-1.36,0.72M381.1,154.2l0.01,0M204.7,347.1l-1.04,0.31M294.6,381.4l0.42,0.48M217.2,380l0.15,0.78M70.3,485.4l0.38,0.37M318.2,591.4l0.01,0M106.7,338.1l0.01,0M55.2,230.7l0.01,0M217.4,315.6l0.01,0M288.7,546.4l0.01,0M244.5,399.8l0.01,0M171.3,524.2l1,0.46M177.9,611.4l-0.25,0.21M258.9,402l0.01,0M239.5,448.7l-1.31,0.04M301.1,414.7l-0.88,0.95M167.6,270.4l0.91,1.87M266.5,429.6l-0.73,0.95M125.1,374.8l0.01,0M256.8,548.5l0.01,0" stroke="#5cc8dc" stroke-width="1.3"/>
<path d="M130.7,434.7l-0.79,0.22M364.4,579l0.67,0.23M256.5,607.7l0.01,0M218.8,233.2l0.75,0.82M268,392.1l0.01,0M75.1,284.7l0.06,0.58M291.8,234.3l0.01,0M85.4,94.6l0.01,0M166.6,350.6l-0.97,1.01M143.3,136.9l0.09,0.63M297.7,450.4l0.75,1.07M222.1,564.5l0.01,0M113.1,218.7l0.01,0M187.1,577l-0.95,0.71M280.2,517.3l0.01,0M242.6,627.5l0.01,0M97,432.7l0.01,0M260.1,524.4l0.01,0M98,95.2l0.77,0.44M171.7,291.6l0.25,0.65M353.6,133.4l0.01,0M200,630.5l0.01,0M146.4,611.4l0.01,0M169.8,553.8l0.01,0M234,422.5l0.01,0M187,644.9l0.01,0M205.1,165.7l0.01,0M102.3,450.9l0.01,0M100.7,499.5l0.01,0M127.5,506l-0.8,0.41M217.7,711.8l0.01,0M85.8,544.5l0.01,0M318.8,545.3l0.01,0M260.2,267.2l0.54,1.09M219.8,623.2l0.01,0M294,502.9l-0.76,0.98M294.2,355.6l-0.12,1.03M361.5,574.2l0.01,0M232.6,316.4l-0.01,0.85M91.6,312.5l0.04,0.46M205.7,155l-0.57,0.38M147.6,593.6l0.01,0M218.9,132l0.01,0M220.4,229.9l-0.54,0.08M235.9,419.6l-1.23,0.37M240.9,578l0.11,1.34M244.7,532.2l0.01,0M195.3,371.6l0.01,0M101.1,526.3l0.22,0.98M223.9,271.2l0.01,0M59.9,254l0.01,0M193.2,609.7l-0.47,0.85" stroke="#492f15" stroke-width="2.1"/>
<path d="M130.7,434.7l-0.79,0.22M364.4,579l0.67,0.23M256.5,607.7l0.01,0M218.8,233.2l0.75,0.82M268,392.1l0.01,0M75.1,284.7l0.06,0.58M291.8,234.3l0.01,0M85.4,94.6l0.01,0M166.6,350.6l-0.97,1.01M143.3,136.9l0.09,0.63M297.7,450.4l0.75,1.07M222.1,564.5l0.01,0M113.1,218.7l0.01,0M187.1,577l-0.95,0.71M280.2,517.3l0.01,0M242.6,627.5l0.01,0M97,432.7l0.01,0M260.1,524.4l0.01,0M98,95.2l0.77,0.44M171.7,291.6l0.25,0.65M353.6,133.4l0.01,0M200,630.5l0.01,0M146.4,611.4l0.01,0M169.8,553.8l0.01,0M234,422.5l0.01,0M187,644.9l0.01,0M205.1,165.7l0.01,0M102.3,450.9l0.01,0M100.7,499.5l0.01,0M127.5,506l-0.8,0.41M217.7,711.8l0.01,0M85.8,544.5l0.01,0M318.8,545.3l0.01,0M260.2,267.2l0.54,1.09M219.8,623.2l0.01,0M294,502.9l-0.76,0.98M294.2,355.6l-0.12,1.03M361.5,574.2l0.01,0M232.6,316.4l-0.01,0.85M91.6,312.5l0.04,0.46M205.7,155l-0.57,0.38M147.6,593.6l0.01,0M218.9,132l0.01,0M220.4,229.9l-0.54,0.08M235.9,419.6l-1.23,0.37M240.9,578l0.11,1.34M244.7,532.2l0.01,0M195.3,371.6l0.01,0M101.1,526.3l0.22,0.98M223.9,271.2l0.01,0M59.9,254l0.01,0M193.2,609.7l-0.47,0.85" stroke="#e09040" stroke-width="1.3"/>
<path d="M337.1,449.5l-0.79,0.29M178.1,168.1l-0.28,0.81M161.4,414l0.01,0M371.3,457.4l0.32,0.95M133.7,401.6l0.01,0M125,329.3l0.12,0.68M179.2,96l0.19,0.23M265.7,318.1l0.01,0M122.1,241.7l-0.86,0.27M98.2,411.4l0.03,0.65M242.8,337.4l0.01,0M245.5,495l0.62,0.37M119.2,563.2l-0.25,0.25M123.5,550.1l0.58,0.31M246.4,313.1l0.01,0M264.8,437.5l-0.61,0.28M238,614.6l0.22,0.34M76.4,296.6l0.01,0M143.2,336l0.01,0M75.4,449l-0.53,1.37M65.5,253.7l-1.06,1.12M133.8,642l0.01,0M266.4,422l0.01,0M135.6,185.8l-0.68,0.64M293.4,287.4l0.01,0M52.5,388l0.75,0.1M169.7,375.1l1.29,0.81M220.4,614.8l0.01,0M205.6,487.1l0.01,0M359.6,206.9l0.71,0.05M253.5,243.4l0.9,0.28M277,396.3l0.01,0M256.2,592.2l0.01,0M250.7,661l0.01,0M74.3,239.7l0.59,0.52M146.6,225.7l0.01,0M157.3,437.8l0.01,0M195.6,543.2l-0.51,0.33M247,735.6l-0.22,1.19M107.8,506l-0.22,1.06M218.1,477.7l0.01,0M70.3,503.7l0.48,0.97M261,397.4l0.15,0.28M151.1,354l0.71,0.51M196.7,575l0.01,0M241.2,386.3l0.17,0.2" stroke="#243c3c" stroke-width="2.1"/>
<path d="M337.1,449.5l-0.79,0.29M178.1,168.1l-0.28,0.81M161.4,414l0.01,0M371.3,457.4l0.32,0.95M133.7,401.6l0.01,0M125,329.3l0.12,0.68M179.2,96l0.19,0.23M265.7,318.1l0.01,0M122.1,241.7l-0.86,0.27M98.2,411.4l0.03,0.65M242.8,337.4l0.01,0M245.5,495l0.62,0.37M119.2,563.2l-0.25,0.25M123.5,550.1l0.58,0.31M246.4,313.1l0.01,0M264.8,437.5l-0.61,0.28M238,614.6l0.22,0.34M76.4,296.6l0.01,0M143.2,336l0.01,0M75.4,449l-0.53,1.37M65.5,253.7l-1.06,1.12M133.8,642l0.01,0M266.4,422l0.01,0M135.6,185.8l-0.68,0.64M293.4,287.4l0.01,0M52.5,388l0.75,0.1M169.7,375.1l1.29,0.81M220.4,614.8l0.01,0M205.6,487.1l0.01,0M359.6,206.9l0.71,0.05M253.5,243.4l0.9,0.28M277,396.3l0.01,0M256.2,592.2l0.01,0M250.7,661l0.01,0M74.3,239.7l0.59,0.52M146.6,225.7l0.01,0M157.3,437.8l0.01,0M195.6,543.2l-0.51,0.33M247,735.6l-0.22,1.19M107.8,506l-0.22,1.06M218.1,477.7l0.01,0M70.3,503.7l0.48,0.97M261,397.4l0.15,0.28M151.1,354l0.71,0.51M196.7,575l0.01,0M241.2,386.3l0.17,0.2" stroke="#70b8b8" stroke-width="1.3"/>
<path d="M151.1,446.8l0.01,0M139.9,609.7l0.01,0M140.1,537l0.01,0M134.5,215.9l0.01,0M57.9,175l0.01,0M343.8,443.8l0.01,0M317.1,428.1l0.82,0.06M247.1,390.7l0.3,0.76M281.9,383.3l0.01,0M172.4,154.8l-0.91,0.35M103.1,509.6l0.01,0M137.5,251.9l0.71,0.15M269.9,471.7l0.01,0M173.2,175.7l0.01,0M320.8,555.6l0.01,0M171.7,471.2l1.11,2.65M196.5,240.4l0.01,0M267.6,190.3l-0.38,0.38M244.1,462.8l0.01,0M368.4,208.3l0.01,0M156.9,287.5l-0.82,0.74M244.5,352.5l0.65,0.09M80.2,174.1l0.46,0.04M394.7,406.8l0.01,0M201.3,481.5l1.76,2.7M125.2,561.9l0.01,0M323.2,530l0.01,0M211.7,233.2l0.01,0M231,259.8l0.28,0.18M253.4,497l0.17,0.37M248.5,724.5l-0.72,0.18M58.7,470.4l0.01,0M223,450.4l0.01,0M117.7,676.1l-1.45,0.45M248.4,171.3l-0.24,0.75M142.9,430.5l0.01,0M206.9,380.4l0.01,0M348.1,317.7l0.01,0M175.2,333l0.01,0M209,565.6l0.04,1.47M87.9,452.6l0.01,0M312.1,396.3l0.01,0M259.8,597.6l0.53,0.4M211.2,649.5l-0.56,1.21M263.4,538.3l-0.34,0.58M277.4,694l0.01,0M231.3,578.8l-0.42,0.19M285.1,455.4l0.01,0M260.7,374.1l0.01,0M179.7,221l0.01,0M313.6,427.7l-0.81,0.84M237,483.9l0.01,0M229.3,452.5l-0.4,0.48M208.4,603.1l-0.21,0.87M183,750.5l-0.19,0.76M353,445.2l0.31,0.32M298.9,470.1l0.01,0" stroke="#431111" stroke-width="2.1"/>
<path d="M151.1,446.8l0.01,0M139.9,609.7l0.01,0M140.1,537l0.01,0M134.5,215.9l0.01,0M57.9,175l0.01,0M343.8,443.8l0.01,0M317.1,428.1l0.82,0.06M247.1,390.7l0.3,0.76M281.9,383.3l0.01,0M172.4,154.8l-0.91,0.35M103.1,509.6l0.01,0M137.5,251.9l0.71,0.15M269.9,471.7l0.01,0M173.2,175.7l0.01,0M320.8,555.6l0.01,0M171.7,471.2l1.11,2.65M196.5,240.4l0.01,0M267.6,190.3l-0.38,0.38M244.1,462.8l0.01,0M368.4,208.3l0.01,0M156.9,287.5l-0.82,0.74M244.5,352.5l0.65,0.09M80.2,174.1l0.46,0.04M394.7,406.8l0.01,0M201.3,481.5l1.76,2.7M125.2,561.9l0.01,0M323.2,530l0.01,0M211.7,233.2l0.01,0M231,259.8l0.28,0.18M253.4,497l0.17,0.37M248.5,724.5l-0.72,0.18M58.7,470.4l0.01,0M223,450.4l0.01,0M117.7,676.1l-1.45,0.45M248.4,171.3l-0.24,0.75M142.9,430.5l0.01,0M206.9,380.4l0.01,0M348.1,317.7l0.01,0M175.2,333l0.01,0M209,565.6l0.04,1.47M87.9,452.6l0.01,0M312.1,396.3l0.01,0M259.8,597.6l0.53,0.4M211.2,649.5l-0.56,1.21M263.4,538.3l-0.34,0.58M277.4,694l0.01,0M231.3,578.8l-0.42,0.19M285.1,455.4l0.01,0M260.7,374.1l0.01,0M179.7,221l0.01,0M313.6,427.7l-0.81,0.84M237,483.9l0.01,0M229.3,452.5l-0.4,0.48M208.4,603.1l-0.21,0.87M183,750.5l-0.19,0.76M353,445.2l0.31,0.32M298.9,470.1l0.01,0" stroke="#cc3434" stroke-width="1.3"/>
<path d="M55.2,423.9l0.01,0M358.1,453.1l0.01,0M89.5,577.7l0.01,0M174.2,375.7l0.01,0M329,603.6l0.01,0M278.2,124l0.01,0M341.4,269.7l0.01,0M165.3,649.7l0.01,0M232.7,378l0.01,0M131.7,456.9l0.01,0M281.9,107.5l0.01,0M245.2,380.5l-1.19,2.34M280.6,383.6l0.78,0.05M319.2,249.6l0.96,0.82M312.4,476.5l0.67,0.46M214.5,442.2l0.56,0.18M199.2,594.9l-0.01,0.32M108.4,402.4l0.01,0M128.6,695.3l-0.63,0.2M115.5,306.3l0.01,0M254.8,303.1l0.01,0M298,346.3l0.01,0M182.9,251.7l0.01,0M332.7,553.8l0.16,0.35M227.6,575.4l0.01,0M266.2,100.5l0.01,0M217,608.9l0.01,0M174.6,177.4l0.01,0M102.1,101.7l0.01,0M142.2,620l0.01,0M325.3,576.2l0.01,0M238.7,574.4l-0.95,0.97M185.5,332.3l0.9,0.76M185,216.2l0.01,0M284,469.2l0.22,1.32M252.7,454l0.01,0M197.2,438.1l0.01,0M54.6,345.7l-0.55,0.57M130.3,155.3l0.01,0M246.9,295.5l0.01,0M240.1,642.4l0.01,0M368.4,473.4l0.01,0M52.9,467.8l1.2,0.42M228.8,731.5l0.01,0M108.9,347.4l1.54,1.23M376,459.5l0.95,2.09M134.5,103.6l0.01,0M91.9,251.3l0.01,0M359.3,512.5l0.01,0M327.6,423.8l1.04,0.64" stroke="#182b44" stroke-width="2.1"/>
<path d="M55.2,423.9l0.01,0M358.1,453.1l0.01,0M89.5,577.7l0.01,0M174.2,375.7l0.01,0M329,603.6l0.01,0M278.2,124l0.01,0M341.4,269.7l0.01,0M165.3,649.7l0.01,0M232.7,378l0.01,0M131.7,456.9l0.01,0M281.9,107.5l0.01,0M245.2,380.5l-1.19,2.34M280.6,383.6l0.78,0.05M319.2,249.6l0.96,0.82M312.4,476.5l0.67,0.46M214.5,442.2l0.56,0.18M199.2,594.9l-0.01,0.32M108.4,402.4l0.01,0M128.6,695.3l-0.63,0.2M115.5,306.3l0.01,0M254.8,303.1l0.01,0M298,346.3l0.01,0M182.9,251.7l0.01,0M332.7,553.8l0.16,0.35M227.6,575.4l0.01,0M266.2,100.5l0.01,0M217,608.9l0.01,0M174.6,177.4l0.01,0M102.1,101.7l0.01,0M142.2,620l0.01,0M325.3,576.2l0.01,0M238.7,574.4l-0.95,0.97M185.5,332.3l0.9,0.76M185,216.2l0.01,0M284,469.2l0.22,1.32M252.7,454l0.01,0M197.2,438.1l0.01,0M54.6,345.7l-0.55,0.57M130.3,155.3l0.01,0M246.9,295.5l0.01,0M240.1,642.4l0.01,0M368.4,473.4l0.01,0M52.9,467.8l1.2,0.42M228.8,731.5l0.01,0M108.9,347.4l1.54,1.23M376,459.5l0.95,2.09M134.5,103.6l0.01,0M91.9,251.3l0.01,0M359.3,512.5l0.01,0M327.6,423.8l1.04,0.64" stroke="#4a84d0" stroke-width="1.3"/>
<path d="M338.6,576.1l0.01,0M286.3,101.2l0.01,0M162.6,415.5l0.01,0M281.3,440.6l0.61,0.84M224.1,619l0.65,1.82M263.7,492.5l0.01,0M247,689.5l-1.25,0.05M146.9,243.6l0.01,0M144.1,359.3l-0.68,0.33M265.6,296l0.01,0M328.7,586.1l0.01,0M265.1,677.9l0.01,0M102.9,590.3l0.01,0M189.3,262.3l-0.52,0.05M285.4,283l0.01,0M90.3,571.5l0.01,0M286.7,324.8l0.01,0M261.8,419.7l0.01,0M131.2,161.8l0.33,0.28M94.2,393l-0.32,0.2M135,391.3l0.01,0M204.2,155l-0.07,0.43M119.7,497.9l-1.18,0.04M94.2,180.1l0.01,0M306,523.6l1.13,0.51M196.1,171.6l0.01,0M111.1,672.1l-0.73,1.24M112.6,231.5l-0.68,0.56M228.3,110.8l1.44,0.35M177.6,139.1l0.05,0.78M329.9,565.9l-0.64,0.34M272.9,257.5l0.01,0M206.6,314.4l1.09,0.06M115.6,648.2l0.01,0M322,619.7l-0.33,2.61M201.9,616.3l0.01,0M223.1,89l0.51,0.53M262.4,489.1l0.01,0M301.1,400.1l-0.51,0.5M350.7,349.1l-0.42,0.27M120.8,451.9l0.01,0M273.4,656.8l0.01,0M238.5,147.5l0.01,0M140.1,558.1l0.01,0M193,340.9l0.01,0M168.8,664l0.01,0M181.7,563.4l0.74,1M186.2,414.9l0.01,0M267.2,360.2l0.01,0M266.9,240.5l1.28,0.16M191.9,572.4l0.01,0M224.6,465.6l0.01,0M202.3,140.7l0.01,0M123.1,609.4l0.01,0M282.6,593.1l-0.5,0.82M98.9,237.7l0.01,0M215.3,340.4l-0.16,0.27M229.3,505.4l0.01,0M216.7,412.2l0.79,0.38M216.6,609.7l1.02,0.21M277,607.7l0.01,0M265.3,327.3l0.31,1.29M84.2,418.5l0.01,0" stroke="#483f28" stroke-width="2.1"/>
<path d="M338.6,576.1l0.01,0M286.3,101.2l0.01,0M162.6,415.5l0.01,0M281.3,440.6l0.61,0.84M224.1,619l0.65,1.82M263.7,492.5l0.01,0M247,689.5l-1.25,0.05M146.9,243.6l0.01,0M144.1,359.3l-0.68,0.33M265.6,296l0.01,0M328.7,586.1l0.01,0M265.1,677.9l0.01,0M102.9,590.3l0.01,0M189.3,262.3l-0.52,0.05M285.4,283l0.01,0M90.3,571.5l0.01,0M286.7,324.8l0.01,0M261.8,419.7l0.01,0M131.2,161.8l0.33,0.28M94.2,393l-0.32,0.2M135,391.3l0.01,0M204.2,155l-0.07,0.43M119.7,497.9l-1.18,0.04M94.2,180.1l0.01,0M306,523.6l1.13,0.51M196.1,171.6l0.01,0M111.1,672.1l-0.73,1.24M112.6,231.5l-0.68,0.56M228.3,110.8l1.44,0.35M177.6,139.1l0.05,0.78M329.9,565.9l-0.64,0.34M272.9,257.5l0.01,0M206.6,314.4l1.09,0.06M115.6,648.2l0.01,0M322,619.7l-0.33,2.61M201.9,616.3l0.01,0M223.1,89l0.51,0.53M262.4,489.1l0.01,0M301.1,400.1l-0.51,0.5M350.7,349.1l-0.42,0.27M120.8,451.9l0.01,0M273.4,656.8l0.01,0M238.5,147.5l0.01,0M140.1,558.1l0.01,0M193,340.9l0.01,0M168.8,664l0.01,0M181.7,563.4l0.74,1M186.2,414.9l0.01,0M267.2,360.2l0.01,0M266.9,240.5l1.28,0.16M191.9,572.4l0.01,0M224.6,465.6l0.01,0M202.3,140.7l0.01,0M123.1,609.4l0.01,0M282.6,593.1l-0.5,0.82M98.9,237.7l0.01,0M215.3,340.4l-0.16,0.27M229.3,505.4l0.01,0M216.7,412.2l0.79,0.38M216.6,609.7l1.02,0.21M277,607.7l0.01,0M265.3,327.3l0.31,1.29M84.2,418.5l0.01,0" stroke="#dcc07a" stroke-width="1.3"/>
<path d="M139.7,551.4l0.24,0.7M61.9,501.7l0.01,0M315.1,407.9l0.01,0M229.5,574l0.01,0M284.3,306.3l0.03,0.31M185.7,606.1l0.01,0M243.6,589.5l0.01,0M128.1,348.4l0.21,0.25M314.9,388.9l0.01,0M325.7,548.4l0.01,0M334.4,234.3l-1.9,2.35M302.1,291.6l-0.6,0.57M281.7,567.5l-0.17,0.28M125,481.1l0.01,0M63,227.5l0.01,0M148.6,189.9l0.01,0M353.5,259.9l0.01,0M280.9,518.5l0.01,0M79.5,376.4l-0.38,0.11M87.5,126.6l0.01,0M350.5,204.4l1.29,0.59M179.3,656.8l0.54,0.33M274.3,249.4l0.85,1.26M111.5,442.2l0.01,0M260.5,110.4l0.01,0M148.1,681.3l0.87,1.28M225.8,305.5l-0.51,0.08M232.1,590.1l-1.22,0.29M314.2,503.2l0.01,0M218.2,446.7l-0.89,1.12M328.6,289.9l0.95,0.39M208.6,403.3l0.01,0M139.4,475.4l0.01,0M285,143.4l0.01,0M263.7,479.7l0.13,0.72M262.8,652.4l0.01,0M382.5,465.3l-0.93,0.9M256.1,512.2l0.01,0M49.6,357.4l0.01,0M349.8,366.8l0.01,0M197.1,404.2l0.01,0M186.7,537.2l0.38,0.14M230.9,544.7l-1.29,0.18M143.4,511.9l0.01,0M211.6,586.3l-0.38,0.18M269.7,243.9l1.08,0.46M267,197.8l0.01,0M252.4,681.4l0.01,0M148.5,323.4l-0.45,0.2M198.6,389.9l0.01,0M123.6,347.1l0.01,0M301.8,689.5l-1.12,0.96M127.1,551.3l0.01,0M277.6,616.8l0.8,0.94M285.3,525l0.09,0.58M307.6,167.2l0.14,0.59M182.2,402.1l1.25,0.45M126.2,483.5l-0.45,0.15M275.1,577.8l0.21,3.31M308.5,314.1l-1.27,0.66M73.4,314.7l0.01,0" stroke="#0a0a32" stroke-width="2.1"/>
<path d="M139.7,551.4l0.24,0.7M61.9,501.7l0.01,0M315.1,407.9l0.01,0M229.5,574l0.01,0M284.3,306.3l0.03,0.31M185.7,606.1l0.01,0M243.6,589.5l0.01,0M128.1,348.4l0.21,0.25M314.9,388.9l0.01,0M325.7,548.4l0.01,0M334.4,234.3l-1.9,2.35M302.1,291.6l-0.6,0.57M281.7,567.5l-0.17,0.28M125,481.1l0.01,0M63,227.5l0.01,0M148.6,189.9l0.01,0M353.5,259.9l0.01,0M280.9,518.5l0.01,0M79.5,376.4l-0.38,0.11M87.5,126.6l0.01,0M350.5,204.4l1.29,0.59M179.3,656.8l0.54,0.33M274.3,249.4l0.85,1.26M111.5,442.2l0.01,0M260.5,110.4l0.01,0M148.1,681.3l0.87,1.28M225.8,305.5l-0.51,0.08M232.1,590.1l-1.22,0.29M314.2,503.2l0.01,0M218.2,446.7l-0.89,1.12M328.6,289.9l0.95,0.39M208.6,403.3l0.01,0M139.4,475.4l0.01,0M285,143.4l0.01,0M263.7,479.7l0.13,0.72M262.8,652.4l0.01,0M382.5,465.3l-0.93,0.9M256.1,512.2l0.01,0M49.6,357.4l0.01,0M349.8,366.8l0.01,0M197.1,404.2l0.01,0M186.7,537.2l0.38,0.14M230.9,544.7l-1.29,0.18M143.4,511.9l0.01,0M211.6,586.3l-0.38,0.18M269.7,243.9l1.08,0.46M267,197.8l0.01,0M252.4,681.4l0.01,0M148.5,323.4l-0.45,0.2M198.6,389.9l0.01,0M123.6,347.1l0.01,0M301.8,689.5l-1.12,0.96M127.1,551.3l0.01,0M277.6,616.8l0.8,0.94M285.3,525l0.09,0.58M307.6,167.2l0.14,0.59M182.2,402.1l1.25,0.45M126.2,483.5l-0.45,0.15M275.1,577.8l0.21,3.31M308.5,314.1l-1.27,0.66M73.4,314.7l0.01,0" stroke="#20209a" stroke-width="1.3"/>
<path d="M269.3,245.9l0.01,0M271.3,232.1l0.5,0.66M174.3,213.9l0.01,0M209.9,424.7l0.01,0M251.9,197.5l0.01,0M250.7,590.9l0.4,0.52M364.7,164.8l0.01,0M118.4,239.7l0.85,0.23M156.9,496.6l-1.09,1.05M146.8,269.3l0.01,0M196.8,182.7l0.01,0M149.1,293.9l-1.2,1M273.1,318.8l-0.32,1.94M288.5,492.1l-0.41,1.05M82.4,270.5l0.01,0M198.3,374.9l0.01,0M159.7,608.5l0.01,0M105.6,651.2l1.53,2.63M207.2,711.7l1.01,0.96M172.5,325.1l0.01,0M117.7,418.6l-0.2,0.73M233.6,291.9l0.01,0M273.2,422.3l0.01,0M210.1,299.4l0.01,0M183.7,557.1l-1.2,0M184.4,319.2l1.15,0.21M349.9,359.8l3.04,0.51M178.5,160.8l0.87,1.12M362.4,168l0.01,0M248.9,670.4l-2.78,1.31M191.3,387.8l0.01,0M315.2,435.7l-0.65,0.88M277.2,213.6l0.24,0.19M106.3,180.9l-0.12,1.19M275.6,611.6l0.01,0M139.5,557.9l-0.93,1.23M100.2,220.3l0.01,0M383.5,205.6l-0.4,0.46M310,276.5l0.32,0.22M148.4,702l0.01,0M120.2,393.6l0.39,1.08M256.3,194.6l-0.84,0.65M292.9,578l0.01,0M386.6,141.7l0.01,0M63.8,326.9l0.01,0M310.3,339.7l-0.53,0.24M72.9,152.8l0.01,0M290.8,592.4l0.01,0M134,359.1l0.01,0M156.3,674.8l0.01,0M71.4,409.2l0.01,0M235.1,584l0.01,0M55,286.8l-0.79,0.79M335.4,190.6l-0.94,0.41M151.9,238.1l0.09,0.37" stroke="#174417" stroke-width="2.1"/>
<path d="M269.3,245.9l0.01,0M271.3,232.1l0.5,0.66M174.3,213.9l0.01,0M209.9,424.7l0.01,0M251.9,197.5l0.01,0M250.7,590.9l0.4,0.52M364.7,164.8l0.01,0M118.4,239.7l0.85,0.23M156.9,496.6l-1.09,1.05M146.8,269.3l0.01,0M196.8,182.7l0.01,0M149.1,293.9l-1.2,1M273.1,318.8l-0.32,1.94M288.5,492.1l-0.41,1.05M82.4,270.5l0.01,0M198.3,374.9l0.01,0M159.7,608.5l0.01,0M105.6,651.2l1.53,2.63M207.2,711.7l1.01,0.96M172.5,325.1l0.01,0M117.7,418.6l-0.2,0.73M233.6,291.9l0.01,0M273.2,422.3l0.01,0M210.1,299.4l0.01,0M183.7,557.1l-1.2,0M184.4,319.2l1.15,0.21M349.9,359.8l3.04,0.51M178.5,160.8l0.87,1.12M362.4,168l0.01,0M248.9,670.4l-2.78,1.31M191.3,387.8l0.01,0M315.2,435.7l-0.65,0.88M277.2,213.6l0.24,0.19M106.3,180.9l-0.12,1.19M275.6,611.6l0.01,0M139.5,557.9l-0.93,1.23M100.2,220.3l0.01,0M383.5,205.6l-0.4,0.46M310,276.5l0.32,0.22M148.4,702l0.01,0M120.2,393.6l0.39,1.08M256.3,194.6l-0.84,0.65M292.9,578l0.01,0M386.6,141.7l0.01,0M63.8,326.9l0.01,0M310.3,339.7l-0.53,0.24M72.9,152.8l0.01,0M290.8,592.4l0.01,0M134,359.1l0.01,0M156.3,674.8l0.01,0M71.4,409.2l0.01,0M235.1,584l0.01,0M55,286.8l-0.79,0.79M335.4,190.6l-0.94,0.41M151.9,238.1l0.09,0.37" stroke="#48d048" stroke-width="1.3"/>
<path d="M161.7,204.8l0.01,0M191.4,322.1l-0.9,-0.8l-0.4,-1.3M83.5,271.8l0.01,0M217.8,420.9l0.81,0.65M81.7,168.3l-1.5,0.6l-0.8,0.3l-0.5,-0.8M280.4,151.1l0.01,0M163.3,556.6l0.09,1.94M201,553.9l1.2,0.0l0.6,-0.3l0.5,-0.6M331.2,521.4l-0.5,-0.4l-0.4,-0.6l0.4,-1.3l0.8,-0.9M285.7,668.6l0.01,0M113.4,127.7l-0.2,1.2l-1.3,0.3l-1.0,-1.0M220.8,556.9l0.9,0.9l0.9,0.7l1.4,-0.7M262.1,586.2l0.3,1.29M210.7,281.4l1.5,0.1l1.3,-0.7l0.9,-0.0M180.3,683.5l0.5,0.4l0.6,1.2l-0.5,0.6M268.9,607.9l1.05,0.3M229.2,532l-0.7,0.1l-1.1,0.3l-0.9,-0.3l-1.5,0.2M227.4,474.3l-0.2,-0.9l-1.0,-1.1l0.2,-0.8M131.7,577.1l0.08,0.51M312.9,332l0.01,0M232.6,487.3l0.01,0M343.9,280.5l1.1,-0.6l0.3,-0.9M303.2,115l-1.24,0.74M174.8,610.6l-0.92,1.13M148.1,598.3l-0.9,-0.4l-0.9,-0.8l-1.5,0.4l-0.9,-0.8M188.7,604.2l0.2,0.8l1.1,0.6M331.8,658.5l0.8,-0.8l-0.8,-1.2l-0.3,-0.7M370.6,111l1.79,2.76M172.3,467.7l0.01,0M119.2,683.4l0.01,0M195.2,516.3l0.01,0M168.8,622.1l-0.7,0.5l0.1,1.2M360.2,350.7l0.9,0.7l-0.0,1.6l1.5,0.5l1.5,-0.2M78,425.5l0.6,0.6l-0.1,0.7M97.6,485.8l-0.8,0.3l-0.9,-0.0l-0.6,-0.7M146.4,131.9l-0.7,1.0l0.8,0.8M165.2,507.4l0.5,0.6l0.2,0.8l0.0,0.9l1.0,0.8M224,461.1l0.72,1.13M162.2,284l-0.8,0.7l-1.1,-0.1M164.1,98.4l0.01,0M341.8,386.4l0.01,0M357.9,354l1.4,0.0l0.8,0.3l0.8,0.3M228.3,79.4l0.3,-1.0l-0.2,-1.0l0.9,-1.2M77.9,383.9l0.01,0M58.8,274.5l-0.1,1.2l1.0,0.9M384,362.2l0.5,-0.5l-0.1,-1.3l0.9,-0.4l0.4,-1.5M80.8,506.7l0.01,0M298.6,326.1l0.01,0M261.6,742.8l0.01,0" stroke="#48471d" stroke-width="2.5"/>
<path d="M161.7,204.8l0.01,0M191.4,322.1l-0.9,-0.8l-0.4,-1.3M83.5,271.8l0.01,0M217.8,420.9l0.81,0.65M81.7,168.3l-1.5,0.6l-0.8,0.3l-0.5,-0.8M280.4,151.1l0.01,0M163.3,556.6l0.09,1.94M201,553.9l1.2,0.0l0.6,-0.3l0.5,-0.6M331.2,521.4l-0.5,-0.4l-0.4,-0.6l0.4,-1.3l0.8,-0.9M285.7,668.6l0.01,0M113.4,127.7l-0.2,1.2l-1.3,0.3l-1.0,-1.0M220.8,556.9l0.9,0.9l0.9,0.7l1.4,-0.7M262.1,586.2l0.3,1.29M210.7,281.4l1.5,0.1l1.3,-0.7l0.9,-0.0M180.3,683.5l0.5,0.4l0.6,1.2l-0.5,0.6M268.9,607.9l1.05,0.3M229.2,532l-0.7,0.1l-1.1,0.3l-0.9,-0.3l-1.5,0.2M227.4,474.3l-0.2,-0.9l-1.0,-1.1l0.2,-0.8M131.7,577.1l0.08,0.51M312.9,332l0.01,0M232.6,487.3l0.01,0M343.9,280.5l1.1,-0.6l0.3,-0.9M303.2,115l-1.24,0.74M174.8,610.6l-0.92,1.13M148.1,598.3l-0.9,-0.4l-0.9,-0.8l-1.5,0.4l-0.9,-0.8M188.7,604.2l0.2,0.8l1.1,0.6M331.8,658.5l0.8,-0.8l-0.8,-1.2l-0.3,-0.7M370.6,111l1.79,2.76M172.3,467.7l0.01,0M119.2,683.4l0.01,0M195.2,516.3l0.01,0M168.8,622.1l-0.7,0.5l0.1,1.2M360.2,350.7l0.9,0.7l-0.0,1.6l1.5,0.5l1.5,-0.2M78,425.5l0.6,0.6l-0.1,0.7M97.6,485.8l-0.8,0.3l-0.9,-0.0l-0.6,-0.7M146.4,131.9l-0.7,1.0l0.8,0.8M165.2,507.4l0.5,0.6l0.2,0.8l0.0,0.9l1.0,0.8M224,461.1l0.72,1.13M162.2,284l-0.8,0.7l-1.1,-0.1M164.1,98.4l0.01,0M341.8,386.4l0.01,0M357.9,354l1.4,0.0l0.8,0.3l0.8,0.3M228.3,79.4l0.3,-1.0l-0.2,-1.0l0.9,-1.2M77.9,383.9l0.01,0M58.8,274.5l-0.1,1.2l1.0,0.9M384,362.2l0.5,-0.5l-0.1,-1.3l0.9,-0.4l0.4,-1.5M80.8,506.7l0.01,0M298.6,326.1l0.01,0M261.6,742.8l0.01,0" stroke="#dcd858" stroke-width="1.7"/>
<path d="M142.6,614.7l1.2,-0.8l0.1,-1.2l-0.1,-0.8l0.4,-0.6M328.9,452.6l0.6,-0.3l0.7,-0.1l1.1,0.6M304.6,261.9l0.6,-1.3l0.1,-0.9l1.2,-0.5M236.5,330.2l-1.1,0.1l-0.7,-0.7M275.3,643.2l-1.5,-0.3l-0.6,-0.2l-0.9,-0.2M193.4,101.2l-0.4,0.6l0.7,1.0M142.2,484.2l-0.3,-1.2l-0.9,-0.5l-0.2,-0.6l0.7,-1.2M270.7,605.5l1.3,0.6l0.7,0.8l-0.4,0.9M263.5,535.4l-0.2,-1.3l0.7,-1.3l1.2,0.3l0.9,0.5M262.1,557.2l0.01,0M242.9,609.7l0.01,0M267,476.2l-1.54,0.07M288.3,587l0.01,0M385.1,219.8l-0.25,1M348.6,518.4l0.34,0.06M365.9,291.4l-1.3,-0.2l-1.2,-0.8l-0.8,-0.4l-0.7,0.7M200.2,179.9l0.1,0.6l-0.7,0.5l-1.0,0.8M74.7,395.5l0.4,-0.6l-0.3,-1.3l-1.1,-0.7M280.3,520.1l-0.57,1.36M328.9,219l0.73,0.98M355,233.5l-0.47,0.09M130.6,201.6l0.7,-1.2l-0.5,-0.9l-0.5,-1.3M230.5,609.5l0.3,-0.7l-0.7,-1.4l0.6,-1.2l0.5,-1.4M183.8,219.6l-0.0,1.5l-0.6,0.2M268.3,513l-0.2,0.8l-0.2,0.7M260.4,556.1l-0.4,0.5l-0.5,1.4l-0.7,0.9l-1.4,0.3M173.1,454.7l1.37,1.06M367.5,209.1l0.01,0M284.9,658.3l0.2,-0.9l0.4,-0.7l0.8,0.1M189.2,276.7l0.9,-1.1l-0.8,-1.4M377.4,302.2l-1.43,0.55M148.6,555.7l0.01,0M161.5,265.9l-0.1,-0.9l0.4,-0.7M306.7,426.8l-0.1,-0.7l0.9,-1.2l1.0,0.5M133.7,265.2l0.1,-0.7l-0.9,-0.7M309.2,456.6l0.01,0M259.3,474.9l-1.3,1.4M295.5,461.7l-0.7,-0.6l0.4,-1.4l0.8,-0.4l-0.2,-1.2M184.5,186.5l0.01,0M187.6,308.3l-0.54,0.63M283,673.9l0.31,1.93M132.5,387.9l-0.0,-0.9l-1.0,-0.6M337.2,214.4l-0.1,0.6l-0.3,1.1l1.1,0.6" stroke="#0a0a32" stroke-width="2.5"/>
<path d="M142.6,614.7l1.2,-0.8l0.1,-1.2l-0.1,-0.8l0.4,-0.6M328.9,452.6l0.6,-0.3l0.7,-0.1l1.1,0.6M304.6,261.9l0.6,-1.3l0.1,-0.9l1.2,-0.5M236.5,330.2l-1.1,0.1l-0.7,-0.7M275.3,643.2l-1.5,-0.3l-0.6,-0.2l-0.9,-0.2M193.4,101.2l-0.4,0.6l0.7,1.0M142.2,484.2l-0.3,-1.2l-0.9,-0.5l-0.2,-0.6l0.7,-1.2M270.7,605.5l1.3,0.6l0.7,0.8l-0.4,0.9M263.5,535.4l-0.2,-1.3l0.7,-1.3l1.2,0.3l0.9,0.5M262.1,557.2l0.01,0M242.9,609.7l0.01,0M267,476.2l-1.54,0.07M288.3,587l0.01,0M385.1,219.8l-0.25,1M348.6,518.4l0.34,0.06M365.9,291.4l-1.3,-0.2l-1.2,-0.8l-0.8,-0.4l-0.7,0.7M200.2,179.9l0.1,0.6l-0.7,0.5l-1.0,0.8M74.7,395.5l0.4,-0.6l-0.3,-1.3l-1.1,-0.7M280.3,520.1l-0.57,1.36M328.9,219l0.73,0.98M355,233.5l-0.47,0.09M130.6,201.6l0.7,-1.2l-0.5,-0.9l-0.5,-1.3M230.5,609.5l0.3,-0.7l-0.7,-1.4l0.6,-1.2l0.5,-1.4M183.8,219.6l-0.0,1.5l-0.6,0.2M268.3,513l-0.2,0.8l-0.2,0.7M260.4,556.1l-0.4,0.5l-0.5,1.4l-0.7,0.9l-1.4,0.3M173.1,454.7l1.37,1.06M367.5,209.1l0.01,0M284.9,658.3l0.2,-0.9l0.4,-0.7l0.8,0.1M189.2,276.7l0.9,-1.1l-0.8,-1.4M377.4,302.2l-1.43,0.55M148.6,555.7l0.01,0M161.5,265.9l-0.1,-0.9l0.4,-0.7M306.7,426.8l-0.1,-0.7l0.9,-1.2l1.0,0.5M133.7,265.2l0.1,-0.7l-0.9,-0.7M309.2,456.6l0.01,0M259.3,474.9l-1.3,1.4M295.5,461.7l-0.7,-0.6l0.4,-1.4l0.8,-0.4l-0.2,-1.2M184.5,186.5l0.01,0M187.6,308.3l-0.54,0.63M283,673.9l0.31,1.93M132.5,387.9l-0.0,-0.9l-1.0,-0.6M337.2,214.4l-0.1,0.6l-0.3,1.1l1.1,0.6" stroke="#20209a" stroke-width="1.7"/>
<path d="M279.7,340.7l-0.6,1.1l0.1,0.9M240.9,520l0.2,-0.7l0.1,-1.1l0.8,-0.7l-0.7,-1.2M115.5,510l-1.0,0.4l-0.8,-0.2l-1.0,-0.5M236.7,282.3l-0.6,0.4l-0.8,0.7l-0.8,-0.4l-0.4,-0.7M196.7,621.4l0.01,0M172.5,215.5l1.3,-0.6l0.6,-0.1M192.9,452.6l0.3,1.0l0.1,0.6l1.1,0.8l1.0,-0.3M267.9,705.2l0.01,0M324.4,491.6l0.68,0.6M272.8,706.4l0.01,0M358.9,542.4l-0.7,1.4l-0.4,0.7l-0.7,1.5M170,584.1l-0.5,-0.7l0.1,-1.4l1.1,-0.3M107.9,641.4l0.01,0M235.8,531.3l0.0,1.0l0.6,0.9l0.6,0.4l1.0,-0.2M313,573.5l0.7,-0.7l-0.4,-1.2l-0.5,-0.9M162.3,366.2l0.6,-0.4l0.8,0.2l0.8,0.1l0.3,0.6M75.2,287.6l0.01,0M238.3,541.4l0.1,-0.8l0.2,-0.7l1.1,-0.5l1.1,-1.1M77.1,140.3l-1.71,0.91M176,705.8l-1.1,1.1l-0.2,0.6l0.3,0.6M122.2,469l0.36,0.53M74,112.3l-0.3,-0.6l0.0,-1.1M322,366.1l-1.1,0.5l-0.4,0.6l0.1,1.5l0.7,0.6M199.4,123l0.01,0M198.3,213.4l-1.78,0M84.8,482.5l0.01,0M121.1,408.4l0.1,0.9l-0.4,1.0l-0.3,0.8l1.0,1.0M165.7,644.6l-0.2,-1.4l-1.2,-0.7l-0.8,-0.0M182.4,417.7l-0.44,0.4M170.6,592.1l-0.3,-0.9l-1.0,-0.2l-0.6,-0.5M128.8,588.9l-0.39,1.01M260.2,494.8l0.01,0M317.6,626.3l1.4,0.1l0.7,-1.4l-0.4,-0.8l-0.6,-0.4M232.6,507.5l1.2,0.1l1.0,0.9l-0.4,1.0l0.6,0.5M49,195.7l0.5,0.7l0.7,0.7" stroke="#174417" stroke-width="2.5"/>
<path d="M279.7,340.7l-0.6,1.1l0.1,0.9M240.9,520l0.2,-0.7l0.1,-1.1l0.8,-0.7l-0.7,-1.2M115.5,510l-1.0,0.4l-0.8,-0.2l-1.0,-0.5M236.7,282.3l-0.6,0.4l-0.8,0.7l-0.8,-0.4l-0.4,-0.7M196.7,621.4l0.01,0M172.5,215.5l1.3,-0.6l0.6,-0.1M192.9,452.6l0.3,1.0l0.1,0.6l1.1,0.8l1.0,-0.3M267.9,705.2l0.01,0M324.4,491.6l0.68,0.6M272.8,706.4l0.01,0M358.9,542.4l-0.7,1.4l-0.4,0.7l-0.7,1.5M170,584.1l-0.5,-0.7l0.1,-1.4l1.1,-0.3M107.9,641.4l0.01,0M235.8,531.3l0.0,1.0l0.6,0.9l0.6,0.4l1.0,-0.2M313,573.5l0.7,-0.7l-0.4,-1.2l-0.5,-0.9M162.3,366.2l0.6,-0.4l0.8,0.2l0.8,0.1l0.3,0.6M75.2,287.6l0.01,0M238.3,541.4l0.1,-0.8l0.2,-0.7l1.1,-0.5l1.1,-1.1M77.1,140.3l-1.71,0.91M176,705.8l-1.1,1.1l-0.2,0.6l0.3,0.6M122.2,469l0.36,0.53M74,112.3l-0.3,-0.6l0.0,-1.1M322,366.1l-1.1,0.5l-0.4,0.6l0.1,1.5l0.7,0.6M199.4,123l0.01,0M198.3,213.4l-1.78,0M84.8,482.5l0.01,0M121.1,408.4l0.1,0.9l-0.4,1.0l-0.3,0.8l1.0,1.0M165.7,644.6l-0.2,-1.4l-1.2,-0.7l-0.8,-0.0M182.4,417.7l-0.44,0.4M170.6,592.1l-0.3,-0.9l-1.0,-0.2l-0.6,-0.5M128.8,588.9l-0.39,1.01M260.2,494.8l0.01,0M317.6,626.3l1.4,0.1l0.7,-1.4l-0.4,-0.8l-0.6,-0.4M232.6,507.5l1.2,0.1l1.0,0.9l-0.4,1.0l0.6,0.5M49,195.7l0.5,0.7l0.7,0.7" stroke="#48d048" stroke-width="1.7"/>
<path d="M302.2,525.3l-0.4,-1.3l1.1,-0.7M223,195.6l0.01,0M256.5,322.8l0.0,-1.6l0.5,-0.7l-0.6,-1.4l0.5,-1.1M98.2,438.5l-0.2,1.1l0.7,1.3M295.1,482.1l-0.0,-1.4l0.9,-0.3l1.0,-0.2l0.9,0.3M297.9,518.1l-0.7,-1.0l-0.9,0.3l-0.7,-0.1M134.2,121.6l0.01,0M159.2,495.1l-0.6,0.1l-1.4,0.5l-0.7,-0.4M169.7,280.3l-0.5,0.9l-0.9,0.1l-0.6,-0.6M92.7,670.2l-0.7,0.2l-1.5,-0.2M201.5,527.5l-0.44,0.72M158.5,244l0.01,0M192.8,157.6l-1.2,1.1l-0.5,0.5l-0.4,0.9l0.6,0.5M295.2,551.2l0.01,0M89.4,519.3l1.39,0.71M350,221.6l0.01,0M302.9,451.6l-0.6,0.0l-1.0,-0.2M245.9,203.3l-0.5,-0.8l-0.7,-0.7l0.3,-0.8M325.8,574l0.01,0M325.5,632.1l0.01,0M281.7,313.1l0.6,1.0l0.3,1.5l-0.1,0.8M283.2,131.8l-0.7,-0.4l-0.4,-0.8l-0.0,-1.4l0.8,-0.2M268.6,420.3l0.4,0.6l1.0,1.1l-0.8,1.3l0.9,1.2M228.2,594.6l1.3,0.3l1.2,0.1l0.4,0.5M362.1,115.1l0.01,0M155.8,555.5l0.4,-0.6l0.7,-0.2l0.2,-1.1M267.8,403.4l0.9,-0.2l1.1,-0.2l0.5,-0.5l-0.0,-1.6M337.1,371.2l-1.22,0.25M242.3,181.8l0.01,0M223.3,206.8l-1.81,0.37M191,475.8l0.01,0M152.8,104.4l0.01,0M125.5,691l0.01,0M223.3,364.1l0.01,0M163.7,181.5l0.01,0M65.7,272.6l0.73,0.56M254.2,242.4l1.47,0.19M379.3,203.7l0.3,0.8l0.6,1.4M186,242.2l0.01,0M128.5,435.6l0.01,0M187.1,252.8l0.01,0M83.8,584.1l0.01,0M268.4,94.4l-0.6,0.7l-0.4,0.8M246.9,584l1.7,0.22M188.4,172.7l0.01,0M250.9,558.5l0.5,-0.4l1.1,0.1l0.6,-0.7M226.6,192.6l1.92,0.18M250.2,560.2l-0.2,0.6l-0.2,0.8M186.7,650.7l-0.14,0.49M131.7,223.8l0.28,1.27M140.6,400.4l-0.9,0.4l-1.3,0.3" stroke="#47242f" stroke-width="2.5"/>
<path d="M302.2,525.3l-0.4,-1.3l1.1,-0.7M223,195.6l0.01,0M256.5,322.8l0.0,-1.6l0.5,-0.7l-0.6,-1.4l0.5,-1.1M98.2,438.5l-0.2,1.1l0.7,1.3M295.1,482.1l-0.0,-1.4l0.9,-0.3l1.0,-0.2l0.9,0.3M297.9,518.1l-0.7,-1.0l-0.9,0.3l-0.7,-0.1M134.2,121.6l0.01,0M159.2,495.1l-0.6,0.1l-1.4,0.5l-0.7,-0.4M169.7,280.3l-0.5,0.9l-0.9,0.1l-0.6,-0.6M92.7,670.2l-0.7,0.2l-1.5,-0.2M201.5,527.5l-0.44,0.72M158.5,244l0.01,0M192.8,157.6l-1.2,1.1l-0.5,0.5l-0.4,0.9l0.6,0.5M295.2,551.2l0.01,0M89.4,519.3l1.39,0.71M350,221.6l0.01,0M302.9,451.6l-0.6,0.0l-1.0,-0.2M245.9,203.3l-0.5,-0.8l-0.7,-0.7l0.3,-0.8M325.8,574l0.01,0M325.5,632.1l0.01,0M281.7,313.1l0.6,1.0l0.3,1.5l-0.1,0.8M283.2,131.8l-0.7,-0.4l-0.4,-0.8l-0.0,-1.4l0.8,-0.2M268.6,420.3l0.4,0.6l1.0,1.1l-0.8,1.3l0.9,1.2M228.2,594.6l1.3,0.3l1.2,0.1l0.4,0.5M362.1,115.1l0.01,0M155.8,555.5l0.4,-0.6l0.7,-0.2l0.2,-1.1M267.8,403.4l0.9,-0.2l1.1,-0.2l0.5,-0.5l-0.0,-1.6M337.1,371.2l-1.22,0.25M242.3,181.8l0.01,0M223.3,206.8l-1.81,0.37M191,475.8l0.01,0M152.8,104.4l0.01,0M125.5,691l0.01,0M223.3,364.1l0.01,0M163.7,181.5l0.01,0M65.7,272.6l0.73,0.56M254.2,242.4l1.47,0.19M379.3,203.7l0.3,0.8l0.6,1.4M186,242.2l0.01,0M128.5,435.6l0.01,0M187.1,252.8l0.01,0M83.8,584.1l0.01,0M268.4,94.4l-0.6,0.7l-0.4,0.8M246.9,584l1.7,0.22M188.4,172.7l0.01,0M250.9,558.5l0.5,-0.4l1.1,0.1l0.6,-0.7M226.6,192.6l1.92,0.18M250.2,560.2l-0.2,0.6l-0.2,0.8M186.7,650.7l-0.14,0.49M131.7,223.8l0.28,1.27M140.6,400.4l-0.9,0.4l-1.3,0.3" stroke="#d87090" stroke-width="1.7"/>
<path d="M221.1,576.7l0.01,0M104.9,499.6l0.25,0.8M154.6,720.1l0.01,0M335.6,276.3l0.26,1.27M90.2,525.2l0.65,0.07M303.9,635.6l1.1,0.0l1.1,-0.4l0.3,-0.6l0.5,-0.6M238.4,648.1l-0.56,0.78M269.9,246.1l-1.47,0.45M388.1,247.1l0.01,0M107.8,473.6l0.01,0M75.8,568l-1.21,1.23M177.5,169.7l0.1,0.7l-0.9,0.7M146.2,473.2l0.7,0.3l1.0,0.0M188.9,474.3l0.01,0M324.5,586.1l-0.89,0.98M284.9,317.7l0.01,0M314.9,196.8l0.2,-0.8l-0.1,-0.9M239.5,454.3l-0.7,-0.0l-0.4,-0.8l-0.0,-0.8l0.6,-0.5M219.1,565.5l0.32,0.37M322.2,325.1l-0.7,-0.2l-1.4,-0.6l-0.8,0.1l-0.6,-0.4M217,576.7l0.01,0M322.7,425.6l-0.1,1.3l-0.6,1.5l0.0,1.1M265.7,605.6l0.58,0.04M244,423.7l0.4,-0.5l0.8,-1.0l1.4,-0.6l0.3,-1.0M194.2,626.3l0.0,1.1l0.6,1.3l1.2,0.7M314.9,503.1l0.01,0M254.1,265.1l0.2,-0.9l0.4,-1.3M315.8,333.5l0.46,1.19M155.3,474.3l0.8,-1.2l-0.9,-1.3l0.2,-1.5M77.5,521l-1.46,0.35M174.3,203.1l0.01,0M183,589.6l0.01,0M141.1,141.9l0.06,0.97M300,479.1l-0.49,0.69M190,421.2l-0.1,-1.4l0.5,-0.5M225.2,344.5l0.6,-0.4l-0.2,-1.1l-0.7,-1.3l0.4,-0.9M322,481.6l1.26,0.78M204.7,418.3l-0.7,0.4l-1.5,-0.5l-1.5,-0.1l-0.7,1.0M243.6,186.5l-0.8,0.4l-1.0,-0.8l-0.6,-0.2l-1.3,-0.2M165.6,476.3l0.3,-0.5l0.9,-1.0M197.2,264.2l0.01,0M346.1,405.7l-0.1,-1.0l0.3,-0.8l-1.1,-0.7" stroke="#243c3c" stroke-width="2.5"/>
<path d="M221.1,576.7l0.01,0M104.9,499.6l0.25,0.8M154.6,720.1l0.01,0M335.6,276.3l0.26,1.27M90.2,525.2l0.65,0.07M303.9,635.6l1.1,0.0l1.1,-0.4l0.3,-0.6l0.5,-0.6M238.4,648.1l-0.56,0.78M269.9,246.1l-1.47,0.45M388.1,247.1l0.01,0M107.8,473.6l0.01,0M75.8,568l-1.21,1.23M177.5,169.7l0.1,0.7l-0.9,0.7M146.2,473.2l0.7,0.3l1.0,0.0M188.9,474.3l0.01,0M324.5,586.1l-0.89,0.98M284.9,317.7l0.01,0M314.9,196.8l0.2,-0.8l-0.1,-0.9M239.5,454.3l-0.7,-0.0l-0.4,-0.8l-0.0,-0.8l0.6,-0.5M219.1,565.5l0.32,0.37M322.2,325.1l-0.7,-0.2l-1.4,-0.6l-0.8,0.1l-0.6,-0.4M217,576.7l0.01,0M322.7,425.6l-0.1,1.3l-0.6,1.5l0.0,1.1M265.7,605.6l0.58,0.04M244,423.7l0.4,-0.5l0.8,-1.0l1.4,-0.6l0.3,-1.0M194.2,626.3l0.0,1.1l0.6,1.3l1.2,0.7M314.9,503.1l0.01,0M254.1,265.1l0.2,-0.9l0.4,-1.3M315.8,333.5l0.46,1.19M155.3,474.3l0.8,-1.2l-0.9,-1.3l0.2,-1.5M77.5,521l-1.46,0.35M174.3,203.1l0.01,0M183,589.6l0.01,0M141.1,141.9l0.06,0.97M300,479.1l-0.49,0.69M190,421.2l-0.1,-1.4l0.5,-0.5M225.2,344.5l0.6,-0.4l-0.2,-1.1l-0.7,-1.3l0.4,-0.9M322,481.6l1.26,0.78M204.7,418.3l-0.7,0.4l-1.5,-0.5l-1.5,-0.1l-0.7,1.0M243.6,186.5l-0.8,0.4l-1.0,-0.8l-0.6,-0.2l-1.3,-0.2M165.6,476.3l0.3,-0.5l0.9,-1.0M197.2,264.2l0.01,0M346.1,405.7l-0.1,-1.0l0.3,-0.8l-1.1,-0.7" stroke="#70b8b8" stroke-width="1.7"/>
<path d="M258.7,336l0.1,-0.8l1.0,-1.0l0.9,0.3l1.5,-0.2M157.1,469.7l0.01,0M240.8,348.6l0.01,0M283.5,265.6l-0.43,1.54M296.8,346.7l0.6,-1.2l-0.0,-1.3M361.6,416.4l0.1,0.6l-0.5,0.6l0.5,0.7l1.3,-0.7M113.2,600.4l0.81,0.09M353,423.5l-1.1,0.8l-0.7,-0.3l-0.1,-1.6M289.3,636.7l-1.0,-0.8l-0.6,-0.0l-0.8,-0.4M267.7,215.7l-1.13,0.91M223.3,577l-1.14,0.63M170,590.6l-0.9,1.0l-1.1,-0.2l-0.9,0.3M206.5,588.1l0.01,0M248.4,607l0.01,0M256.1,482.7l1.4,0.4l0.7,1.2l-0.1,0.7l1.1,0.7M173.1,753.6l-0.1,-0.6l-0.4,-0.8l0.6,-0.7l1.3,-0.8M190.7,646.9l0.01,0M167.1,598.4l0.01,0M188.6,188.6l0.01,0M203.6,591.2l1.19,0.09M224.8,259.6l1.4,-0.2l1.3,-0.6l0.2,-0.6M281,115.2l0.01,0M257,124.9l0.01,0M194,619.3l0.01,0M173.4,542.9l0.7,1.2l1.5,-0.3l0.9,-1.0l0.7,-0.8M209.8,625.2l0.01,0M228.9,376.8l0.01,0M202.7,504.9l0.63,0.08M175.1,251.4l0.32,0.12M306.3,528.9l0.5,1.5l0.6,1.1l0.6,0.7l1.5,-0.3M290.1,439.4l0.71,1.13M119.1,462l-0.6,-0.1l-1.0,1.2l0.5,0.8M221.6,298.7l0.47,0.76M133.9,702.8l0.8,0.4l0.9,1.0l0.8,0.5M101.8,466.7l0.01,0M239.2,600.5l0.9,0.8l1.1,-0.4l1.1,0.9M104.2,478.9l0.6,-0.5l1.4,-0.1l1.5,0.3" stroke="#182b44" stroke-width="2.5"/>
<path d="M258.7,336l0.1,-0.8l1.0,-1.0l0.9,0.3l1.5,-0.2M157.1,469.7l0.01,0M240.8,348.6l0.01,0M283.5,265.6l-0.43,1.54M296.8,346.7l0.6,-1.2l-0.0,-1.3M361.6,416.4l0.1,0.6l-0.5,0.6l0.5,0.7l1.3,-0.7M113.2,600.4l0.81,0.09M353,423.5l-1.1,0.8l-0.7,-0.3l-0.1,-1.6M289.3,636.7l-1.0,-0.8l-0.6,-0.0l-0.8,-0.4M267.7,215.7l-1.13,0.91M223.3,577l-1.14,0.63M170,590.6l-0.9,1.0l-1.1,-0.2l-0.9,0.3M206.5,588.1l0.01,0M248.4,607l0.01,0M256.1,482.7l1.4,0.4l0.7,1.2l-0.1,0.7l1.1,0.7M173.1,753.6l-0.1,-0.6l-0.4,-0.8l0.6,-0.7l1.3,-0.8M190.7,646.9l0.01,0M167.1,598.4l0.01,0M188.6,188.6l0.01,0M203.6,591.2l1.19,0.09M224.8,259.6l1.4,-0.2l1.3,-0.6l0.2,-0.6M281,115.2l0.01,0M257,124.9l0.01,0M194,619.3l0.01,0M173.4,542.9l0.7,1.2l1.5,-0.3l0.9,-1.0l0.7,-0.8M209.8,625.2l0.01,0M228.9,376.8l0.01,0M202.7,504.9l0.63,0.08M175.1,251.4l0.32,0.12M306.3,528.9l0.5,1.5l0.6,1.1l0.6,0.7l1.5,-0.3M290.1,439.4l0.71,1.13M119.1,462l-0.6,-0.1l-1.0,1.2l0.5,0.8M221.6,298.7l0.47,0.76M133.9,702.8l0.8,0.4l0.9,1.0l0.8,0.5M101.8,466.7l0.01,0M239.2,600.5l0.9,0.8l1.1,-0.4l1.1,0.9M104.2,478.9l0.6,-0.5l1.4,-0.1l1.5,0.3" stroke="#4a84d0" stroke-width="1.7"/>
<path d="M128.5,690.2l-0.8,0.1l-1.4,-0.5l0.0,-0.7l0.1,-1.4M273.4,246.6l0.01,0M201.7,210.1l0.01,0M146,348.1l0.43,0.52M170.7,541l0.01,0M208.3,140.7l0.3,1.5l-1.0,1.1l-0.8,-0.3M377.5,210.2l1.19,0.64M194,573.3l1.15,1.67M274.4,400.3l-0.67,1.67M252.7,364.2l0.8,-0.1l0.5,1.4l0.9,0.2l0.7,0.0M165.8,234.5l1.3,-0.8l0.6,-0.4l0.6,0.5M360.4,368.1l-0.4,-0.9l-0.2,-0.7M228.9,506.4l-1.0,0.9l0.2,1.2M313.3,581.1l0.0,0.9l-0.7,0.6M157.1,427.8l0.2,1.5l0.1,1.0l1.0,0.9l0.6,1.5M301.1,582l0.01,0M183.9,586l0.01,0M125.4,140.6l0.55,1.88M321.1,570.1l0.01,0M211.4,163.3l0.9,0.7l0.1,1.0l1.4,0.4l0.0,1.1M215,360.4l-0.5,-0.9l0.2,-0.8M97.2,531.8l-0.74,1.56M275.5,185.1l0.01,0M106.1,89.7l-0.3,1.0l0.6,1.2l-0.5,0.4l0.2,1.3M134.9,447.1l0.1,1.2l1.1,1.1l0.6,1.3M121.6,281l0.01,0M278.5,414.7l0.01,0M241,93.8l0.01,0M242.4,687.1l0.01,0M322.5,299.7l0.01,0M154,574.5l-0.4,-0.4l0.3,-1.0M254.4,484.8l0.01,0M337.5,279.6l0.01,0M171.3,348.5l0.01,0M348.7,240.7l1.2,0.4l0.3,0.9M74.9,562.6l-0.9,1.1l0.4,0.8l0.6,0.3M162.5,279.2l0.42,0.22M123.8,310.3l0.01,0M58.2,144.9l0.01,0M237.2,96.1l0.01,0M265.4,109.9l0.01,0M146.3,297.3l0.01,0M241.5,577.1l0.8,-1.1l-0.9,-1.2l-0.3,-0.7M115,241.2l-0.2,1.2l-0.9,1.1l-0.3,0.8M56.8,205.2l0.96,0.57M211.5,403.1l0.2,-0.6l0.1,-1.4M327.6,485.7l-0.9,-0.7l-0.8,0.2l-0.5,0.7" stroke="#1e4248" stroke-width="2.5"/>
<path d="M128.5,690.2l-0.8,0.1l-1.4,-0.5l0.0,-0.7l0.1,-1.4M273.4,246.6l0.01,0M201.7,210.1l0.01,0M146,348.1l0.43,0.52M170.7,541l0.01,0M208.3,140.7l0.3,1.5l-1.0,1.1l-0.8,-0.3M377.5,210.2l1.19,0.64M194,573.3l1.15,1.67M274.4,400.3l-0.67,1.67M252.7,364.2l0.8,-0.1l0.5,1.4l0.9,0.2l0.7,0.0M165.8,234.5l1.3,-0.8l0.6,-0.4l0.6,0.5M360.4,368.1l-0.4,-0.9l-0.2,-0.7M228.9,506.4l-1.0,0.9l0.2,1.2M313.3,581.1l0.0,0.9l-0.7,0.6M157.1,427.8l0.2,1.5l0.1,1.0l1.0,0.9l0.6,1.5M301.1,582l0.01,0M183.9,586l0.01,0M125.4,140.6l0.55,1.88M321.1,570.1l0.01,0M211.4,163.3l0.9,0.7l0.1,1.0l1.4,0.4l0.0,1.1M215,360.4l-0.5,-0.9l0.2,-0.8M97.2,531.8l-0.74,1.56M275.5,185.1l0.01,0M106.1,89.7l-0.3,1.0l0.6,1.2l-0.5,0.4l0.2,1.3M134.9,447.1l0.1,1.2l1.1,1.1l0.6,1.3M121.6,281l0.01,0M278.5,414.7l0.01,0M241,93.8l0.01,0M242.4,687.1l0.01,0M322.5,299.7l0.01,0M154,574.5l-0.4,-0.4l0.3,-1.0M254.4,484.8l0.01,0M337.5,279.6l0.01,0M171.3,348.5l0.01,0M348.7,240.7l1.2,0.4l0.3,0.9M74.9,562.6l-0.9,1.1l0.4,0.8l0.6,0.3M162.5,279.2l0.42,0.22M123.8,310.3l0.01,0M58.2,144.9l0.01,0M237.2,96.1l0.01,0M265.4,109.9l0.01,0M146.3,297.3l0.01,0M241.5,577.1l0.8,-1.1l-0.9,-1.2l-0.3,-0.7M115,241.2l-0.2,1.2l-0.9,1.1l-0.3,0.8M56.8,205.2l0.96,0.57M211.5,403.1l0.2,-0.6l0.1,-1.4M327.6,485.7l-0.9,-0.7l-0.8,0.2l-0.5,0.7" stroke="#5cc8dc" stroke-width="1.7"/>
<path d="M155,440.5l-0.6,-0.8l-0.1,-0.6M263.1,549.3l0.01,0M237.3,179.8l0.01,0M246,620.5l0.01,0M227.9,332.3l0.37,0.62M176.2,233.7l-0.62,0.26M186.1,604.1l0.01,0M71.5,570.4l-0.27,0.9M250.9,273.6l-0.86,0.2M246.4,704.2l-0.8,1.1l-0.7,1.0M194.2,102.8l-1.45,1.13M203.6,473.1l-1.4,0.1l-1.1,0.1M251.3,200.9l0.1,-0.8l-0.4,-1.0l-0.1,-0.9l0.7,-0.4M301.9,469.9l0.01,0M288.2,325l-0.8,1.1l-0.3,0.7l0.1,0.7M205,486l-1.81,0.67M110.3,516.3l-0.8,0.2l-1.1,-0.1l-0.5,-0.9M136.6,507.5l0.01,0M214.9,286.8l0.01,0M224.9,120.4l0.01,0M218.5,250.8l0.01,0M339.8,237.1l-0.4,0.7l-0.0,1.5M115.6,498.7l-0.19,0.32M253.8,617.9l0.01,0M103.1,473.2l0.01,0M64.4,500.3l0.01,0M181.3,305.9l-0.8,-0.3l-0.9,-0.7l-0.6,-0.3M212.4,403l-0.85,0.23M176.8,388.8l0.9,0.9l0.6,-0.4l-0.1,-0.7l-0.2,-0.6M264.5,316.2l0.01,0M216.9,281.4l0.01,0M321.5,355.5l0.2,-1.4l0.7,-0.8l0.8,0.1M235.5,531.6l0.01,0M274.2,624.1l-0.43,0.67M201.4,301.5l3.87,1.33M202.4,245.6l0.01,0M301.5,270.6l-0.9,0.7l-0.3,1.5l0.8,0.7" stroke="#492f15" stroke-width="2.5"/>
<path d="M155,440.5l-0.6,-0.8l-0.1,-0.6M263.1,549.3l0.01,0M237.3,179.8l0.01,0M246,620.5l0.01,0M227.9,332.3l0.37,0.62M176.2,233.7l-0.62,0.26M186.1,604.1l0.01,0M71.5,570.4l-0.27,0.9M250.9,273.6l-0.86,0.2M246.4,704.2l-0.8,1.1l-0.7,1.0M194.2,102.8l-1.45,1.13M203.6,473.1l-1.4,0.1l-1.1,0.1M251.3,200.9l0.1,-0.8l-0.4,-1.0l-0.1,-0.9l0.7,-0.4M301.9,469.9l0.01,0M288.2,325l-0.8,1.1l-0.3,0.7l0.1,0.7M205,486l-1.81,0.67M110.3,516.3l-0.8,0.2l-1.1,-0.1l-0.5,-0.9M136.6,507.5l0.01,0M214.9,286.8l0.01,0M224.9,120.4l0.01,0M218.5,250.8l0.01,0M339.8,237.1l-0.4,0.7l-0.0,1.5M115.6,498.7l-0.19,0.32M253.8,617.9l0.01,0M103.1,473.2l0.01,0M64.4,500.3l0.01,0M181.3,305.9l-0.8,-0.3l-0.9,-0.7l-0.6,-0.3M212.4,403l-0.85,0.23M176.8,388.8l0.9,0.9l0.6,-0.4l-0.1,-0.7l-0.2,-0.6M264.5,316.2l0.01,0M216.9,281.4l0.01,0M321.5,355.5l0.2,-1.4l0.7,-0.8l0.8,0.1M235.5,531.6l0.01,0M274.2,624.1l-0.43,0.67M201.4,301.5l3.87,1.33M202.4,245.6l0.01,0M301.5,270.6l-0.9,0.7l-0.3,1.5l0.8,0.7" stroke="#e09040" stroke-width="1.7"/>
<path d="M158.1,469l0.01,0M273.3,401.2l0.01,0M168.7,511l-0.6,0.6l-1.0,0.6l-0.6,0.3M243.2,617.4l0.01,0M116.8,558l0.01,0M379,470.5l0.01,0M277.4,404.7l-0.29,0.73M270.8,623.5l0.6,1.5l0.8,1.2l0.8,0.6M214.9,146.9l0.6,0.6l1.1,0.4l0.8,1.4l-0.6,1.2M178.8,537l0.01,0M55,225.7l-1.1,0.4l-0.9,1.0M261,214l-0.3,-0.7l-1.5,-0.5l-1.4,0.4l-0.5,0.7M162.2,572.2l0.01,0M125.7,604.2l1.03,1.41M178.2,287.5l-0,1.53M368,269.3l0.75,1.18M116.6,567.9l0.01,0M98.1,362.5l-0.19,0.68M153.6,469.2l1.73,0.13M378.2,310.6l0.01,0.49M339.8,486l0.34,0.34M262.7,639.2l1.1,-0.1l1.5,0.6l-0.0,0.7l-0.1,1.6M93.4,647.7l0.01,1.39M239.9,277.5l0.7,0.5l1.0,0.5M344.9,262.6l0.5,0.5l0.4,0.6M220.6,640.1l0.6,-0.5l-0.4,-1.0l-0.7,-0.1l-1.1,0.2M285.6,429.8l0.9,-1.2l-0.4,-1.4l-0.3,-0.6M248.9,317.9l-0.9,0.2l-0.6,-0.6M162.7,500.1l0.33,1.04M194.1,539.1l0.03,0.5M282.5,205.1l0.2,-0.8l-1.2,-1.0l-0.8,-0.2l-0.3,-1.2M267.7,161.5l-0.0,1.2l1.0,0.9l0.0,0.6l0.7,1.0M316.6,191.2l1.1,0.1l0.8,-0.7l0.5,-1.4M165.5,230.3l0.01,0M284.9,665.6l0.01,0M267.5,365.3l-0.39,3.35M179.9,734.7l-0.7,0.2l-0.7,-0.7l-0.8,0.4l-0.9,0.7M130.3,352.9l0.01,0M199.7,542.4l0.01,0M153.9,548.4l0.01,0M301.8,416.9l0.01,0M157.9,557.3l-0.4,0.6l-0.4,1.2" stroke="#1d3a30" stroke-width="2.5"/>
<path d="M158.1,469l0.01,0M273.3,401.2l0.01,0M168.7,511l-0.6,0.6l-1.0,0.6l-0.6,0.3M243.2,617.4l0.01,0M116.8,558l0.01,0M379,470.5l0.01,0M277.4,404.7l-0.29,0.73M270.8,623.5l0.6,1.5l0.8,1.2l0.8,0.6M214.9,146.9l0.6,0.6l1.1,0.4l0.8,1.4l-0.6,1.2M178.8,537l0.01,0M55,225.7l-1.1,0.4l-0.9,1.0M261,214l-0.3,-0.7l-1.5,-0.5l-1.4,0.4l-0.5,0.7M162.2,572.2l0.01,0M125.7,604.2l1.03,1.41M178.2,287.5l-0,1.53M368,269.3l0.75,1.18M116.6,567.9l0.01,0M98.1,362.5l-0.19,0.68M153.6,469.2l1.73,0.13M378.2,310.6l0.01,0.49M339.8,486l0.34,0.34M262.7,639.2l1.1,-0.1l1.5,0.6l-0.0,0.7l-0.1,1.6M93.4,647.7l0.01,1.39M239.9,277.5l0.7,0.5l1.0,0.5M344.9,262.6l0.5,0.5l0.4,0.6M220.6,640.1l0.6,-0.5l-0.4,-1.0l-0.7,-0.1l-1.1,0.2M285.6,429.8l0.9,-1.2l-0.4,-1.4l-0.3,-0.6M248.9,317.9l-0.9,0.2l-0.6,-0.6M162.7,500.1l0.33,1.04M194.1,539.1l0.03,0.5M282.5,205.1l0.2,-0.8l-1.2,-1.0l-0.8,-0.2l-0.3,-1.2M267.7,161.5l-0.0,1.2l1.0,0.9l0.0,0.6l0.7,1.0M316.6,191.2l1.1,0.1l0.8,-0.7l0.5,-1.4M165.5,230.3l0.01,0M284.9,665.6l0.01,0M267.5,365.3l-0.39,3.35M179.9,734.7l-0.7,0.2l-0.7,-0.7l-0.8,0.4l-0.9,0.7M130.3,352.9l0.01,0M199.7,542.4l0.01,0M153.9,548.4l0.01,0M301.8,416.9l0.01,0M157.9,557.3l-0.4,0.6l-0.4,1.2" stroke="#58b094" stroke-width="1.7"/>
<path d="M343.7,630.6l0.01,0M298.8,367.1l0.01,0M285.3,284.6l-0.7,-0.7l-1.4,-0.6M106.5,283.4l0.2,-1.3l-0.8,-1.2l-0.7,-0.5l-1.0,-0.5M202.7,511.8l0.6,-0.7l0.6,0.3l1.2,-0.7M122.3,375.8l-1.5,-0.2l-0.4,-0.7M287.7,620.4l0.01,0M251,639.5l0.01,0M280,567.6l0.01,0M219.3,251.4l-0.7,0.5l-0.8,-0.1M360.6,372.2l-0.68,0.23M266.2,612.3l0.01,0M197,526.8l-0.3,0.7l0.8,1.2M350.8,587.1l0.7,-0.6l1.0,-0.8l1.4,-0.2M295.6,599.9l0.4,1.4l1.4,0.4l1.4,-0.7l1.4,-0.3M338.4,365.8l-0.5,-0.6l-0.2,-0.9l1.2,-0.9l1.3,-0.3M277.4,535.1l0.01,0M320.3,436.8l0.01,0M247,138.6l0.9,0.2l0.9,1.1l0.8,0.3M129.3,457.8l1.11,0.68M346.6,499.5l0.01,0M202.3,563.3l0.2,-0.8l0.9,-0.5l0.2,-1.1M250.7,489.8l-0.8,-0.7l0.3,-0.7l-0.2,-1.1M97.2,355.1l-2.66,2.78M201.3,269.3l-0.59,0.4M59.3,385.8l-0.6,-0.6l-0.6,-0.5l-1.4,-0.4M125.4,191.5l-0.2,0.8l0.9,0.5M233.7,329.2l1.5,-0.2l0.8,-0.2M78.4,298.7l1.1,-0.9l0.6,-1.3l1.2,-0.7M326.2,492.3l0.6,1.0l0.7,1.3l0.3,0.7M286.9,375.1l-1.3,0.0l-1.1,-1.1M145.4,279.2l-0.3,-0.8l-0.4,-0.9l-0.6,-0.9l-0.7,0.0M92.1,619.7l0.38,0.57M337.3,407.3l0.8,-0.6l0.4,-0.6l1.0,-0.3M246.2,468.7l-0.43,0.13M72.4,472l0.55,0.01M138.9,567.2l0.01,0M287.3,636.7l1.1,-0.6l0.4,-1.1l-1.0,-0.7M262.5,626.9l0.7,0.7l-0.6,1.4M193.2,508.4l0.01,0M173.5,574.7l-0.1,-1.2l-1.3,-0.3l-0.9,0.0l-0.6,0.2M211,420.6l0.8,-0.1l0.7,1.0l0.6,0.4l0.0,0.7M296.6,438.9l0.13,0.71M327.9,128.6l-0.59,0.8M185.4,215l0.2,-0.8l-0.3,-1.0M240.7,289.8l0.01,0M310.1,101.7l-0.9,-0.4l-0.6,0.8M107.9,224l0.4,1.4l1.1,0.2l0.5,-1.0M188.6,221.9l0.02,0.54M122.3,245.1l0.01,0M205.4,543.1l-0.0,1.1l-0.9,0.6l-0.5,0.7l-0.9,-0.0M150.5,151.2l-2.24,1.93M186.3,517.4l0.1,-0.9l0.3,-0.6M156.9,511.7l0.01,0" stroke="#483f28" stroke-width="2.5"/>
<path d="M343.7,630.6l0.01,0M298.8,367.1l0.01,0M285.3,284.6l-0.7,-0.7l-1.4,-0.6M106.5,283.4l0.2,-1.3l-0.8,-1.2l-0.7,-0.5l-1.0,-0.5M202.7,511.8l0.6,-0.7l0.6,0.3l1.2,-0.7M122.3,375.8l-1.5,-0.2l-0.4,-0.7M287.7,620.4l0.01,0M251,639.5l0.01,0M280,567.6l0.01,0M219.3,251.4l-0.7,0.5l-0.8,-0.1M360.6,372.2l-0.68,0.23M266.2,612.3l0.01,0M197,526.8l-0.3,0.7l0.8,1.2M350.8,587.1l0.7,-0.6l1.0,-0.8l1.4,-0.2M295.6,599.9l0.4,1.4l1.4,0.4l1.4,-0.7l1.4,-0.3M338.4,365.8l-0.5,-0.6l-0.2,-0.9l1.2,-0.9l1.3,-0.3M277.4,535.1l0.01,0M320.3,436.8l0.01,0M247,138.6l0.9,0.2l0.9,1.1l0.8,0.3M129.3,457.8l1.11,0.68M346.6,499.5l0.01,0M202.3,563.3l0.2,-0.8l0.9,-0.5l0.2,-1.1M250.7,489.8l-0.8,-0.7l0.3,-0.7l-0.2,-1.1M97.2,355.1l-2.66,2.78M201.3,269.3l-0.59,0.4M59.3,385.8l-0.6,-0.6l-0.6,-0.5l-1.4,-0.4M125.4,191.5l-0.2,0.8l0.9,0.5M233.7,329.2l1.5,-0.2l0.8,-0.2M78.4,298.7l1.1,-0.9l0.6,-1.3l1.2,-0.7M326.2,492.3l0.6,1.0l0.7,1.3l0.3,0.7M286.9,375.1l-1.3,0.0l-1.1,-1.1M145.4,279.2l-0.3,-0.8l-0.4,-0.9l-0.6,-0.9l-0.7,0.0M92.1,619.7l0.38,0.57M337.3,407.3l0.8,-0.6l0.4,-0.6l1.0,-0.3M246.2,468.7l-0.43,0.13M72.4,472l0.55,0.01M138.9,567.2l0.01,0M287.3,636.7l1.1,-0.6l0.4,-1.1l-1.0,-0.7M262.5,626.9l0.7,0.7l-0.6,1.4M193.2,508.4l0.01,0M173.5,574.7l-0.1,-1.2l-1.3,-0.3l-0.9,0.0l-0.6,0.2M211,420.6l0.8,-0.1l0.7,1.0l0.6,0.4l0.0,0.7M296.6,438.9l0.13,0.71M327.9,128.6l-0.59,0.8M185.4,215l0.2,-0.8l-0.3,-1.0M240.7,289.8l0.01,0M310.1,101.7l-0.9,-0.4l-0.6,0.8M107.9,224l0.4,1.4l1.1,0.2l0.5,-1.0M188.6,221.9l0.02,0.54M122.3,245.1l0.01,0M205.4,543.1l-0.0,1.1l-0.9,0.6l-0.5,0.7l-0.9,-0.0M150.5,151.2l-2.24,1.93M186.3,517.4l0.1,-0.9l0.3,-0.6M156.9,511.7l0.01,0" stroke="#dcc07a" stroke-width="1.7"/>
<path d="M238.2,747.6l-0.1,-1.0l-0.7,-0.8l-0.6,0.2M243.3,621.5l0.01,0M230.8,128.3l0.01,0M99.7,536.2l0.01,0M320.2,568.6l0.01,0M330,437.3l0.7,0.3l0.8,-0.2l1.3,0.1l0.4,1.0M242.3,317.3l1.0,0.8l0.9,-0.1M60,406.7l-0.04,1.3M130.7,384.4l0.01,0M281.6,474.5l0.01,0M82.4,417.8l0.01,0M227,531.2l-0.1,1.0l0.8,0.7l-0.3,0.9M148.6,468.9l0.6,-1.1l0.7,-0.5M314.2,390.4l0.1,-0.6l1.3,-0.7M172.3,595.9l0.01,0M109.9,319.4l-0.6,0.4l-1.0,0.8l-0.7,1.1M220,295.5l0.03,0.67M180.2,291.9l0.01,0M311.8,588.5l-0.6,0.4l-0.5,1.0M245.4,401.7l0.13,1.41M181.3,460.3l0.01,0M289.2,165.5l0.01,0M157.3,348.5l0.01,0M178.5,470.7l0.01,0M179.4,690.8l-0.4,-0.6l-0.1,-1.3M241.7,719.4l0.01,0M271.1,230.7l0.01,0M348.5,354.2l0.8,0.2l1.3,-0.7M167.8,494.7l0.7,-1.5l-0.5,-1.2l-0.8,-1.1M61.2,457.3l0.01,0M350.9,168.4l0.7,0.4l-0.0,0.9M263.3,557.7l-0.1,-1.1l-1.3,-0.2" stroke="#401940" stroke-width="2.5"/>
<path d="M238.2,747.6l-0.1,-1.0l-0.7,-0.8l-0.6,0.2M243.3,621.5l0.01,0M230.8,128.3l0.01,0M99.7,536.2l0.01,0M320.2,568.6l0.01,0M330,437.3l0.7,0.3l0.8,-0.2l1.3,0.1l0.4,1.0M242.3,317.3l1.0,0.8l0.9,-0.1M60,406.7l-0.04,1.3M130.7,384.4l0.01,0M281.6,474.5l0.01,0M82.4,417.8l0.01,0M227,531.2l-0.1,1.0l0.8,0.7l-0.3,0.9M148.6,468.9l0.6,-1.1l0.7,-0.5M314.2,390.4l0.1,-0.6l1.3,-0.7M172.3,595.9l0.01,0M109.9,319.4l-0.6,0.4l-1.0,0.8l-0.7,1.1M220,295.5l0.03,0.67M180.2,291.9l0.01,0M311.8,588.5l-0.6,0.4l-0.5,1.0M245.4,401.7l0.13,1.41M181.3,460.3l0.01,0M289.2,165.5l0.01,0M157.3,348.5l0.01,0M178.5,470.7l0.01,0M179.4,690.8l-0.4,-0.6l-0.1,-1.3M241.7,719.4l0.01,0M271.1,230.7l0.01,0M348.5,354.2l0.8,0.2l1.3,-0.7M167.8,494.7l0.7,-1.5l-0.5,-1.2l-0.8,-1.1M61.2,457.3l0.01,0M350.9,168.4l0.7,0.4l-0.0,0.9M263.3,557.7l-0.1,-1.1l-1.3,-0.2" stroke="#c44cc4" stroke-width="1.7"/>
<path d="M175.1,689.2l0.01,0M333.1,326.9l0.07,0.45M371.6,394.1l-0.35,0.22M268.2,508.9l-0.23,0.69M140.6,200.5l-0.6,-0.2l-1.6,0.2l-0.2,1.4l-1.0,0.2M246.3,503l0.01,0M308.2,373l-0.7,0.4l-0.3,0.8l-1.0,0.3M54.6,190.4l0.01,0M208.9,354.4l-0.9,-1.1l-1.1,0.1l-0.9,0.7M113.7,588.8l0.4,1.3l0.2,0.7M224.7,383.7l0.26,0.57M255.1,251.2l-0.7,-0.9l-0.6,0.0M226.7,209.3l-0.3,0.7l0.5,0.5l0.8,-0.1l0.7,-0.3M139.1,479.6l0.5,0.5l1.3,0.8l1.2,0.1M290.9,708.8l0.01,0M183.7,715.7l0.8,-0.5l0.9,0.5l0.7,-0.6l0.8,-0.0M321.9,295.7l0.6,0.7l0.6,0.0M328.3,169.2l0.01,0M228.8,202.8l0.01,0M303.4,605.4l-0.1,0.7l-0.3,1.3l-0.7,0.6l0.4,0.9M219.5,323.9l0.01,0M243,371.9l-1.5,-0.0l-0.9,-0.4M307.1,250.2l-4.24,0.14M111.9,105.1l-0.7,0.0l-0.7,-0.2l-0.0,-1.0M331.5,398l0.3,-0.9l-0.7,-1.2l0.4,-0.5M110.3,396l-1.1,0.8l-1.3,0.1M257.8,340.7l0.01,0M165.6,175.5l-1.0,0.9l-0.5,0.4M221.2,232.8l0.1,0.7l-0.5,0.8l-0.6,0.5l-0.1,0.9M149.5,248.4l-1.2,-0.1l-0.6,-1.2l0.6,-1.2l0.7,-0.3M113,249.4l-0.1,1.4l0.6,0.8l0.9,0.2l1.3,-0.2M163.9,379.1l0.2,1.0l0.8,1.1l1.5,-0.2M145.2,281.8l1.4,0.4l1.3,-0.8l0.8,-0.3l0.8,1.1M254.8,237.2l0.01,0M324.8,386.7l1.0,-1.1l0.6,-0.6M141,477.7l-1.1,-0.5l-1.4,-0.2l-1.4,0.1l-0.7,-1.1M126.3,422.4l0.01,0M290.2,115.4l-0.8,1.1l-1.3,-0.5l-0.9,-0.6l-0.3,-0.8M278.1,561.7l-1.11,0.19M116.4,480.9l0.01,0" stroke="#431111" stroke-width="2.5"/>
<path d="M175.1,689.2l0.01,0M333.1,326.9l0.07,0.45M371.6,394.1l-0.35,0.22M268.2,508.9l-0.23,0.69M140.6,200.5l-0.6,-0.2l-1.6,0.2l-0.2,1.4l-1.0,0.2M246.3,503l0.01,0M308.2,373l-0.7,0.4l-0.3,0.8l-1.0,0.3M54.6,190.4l0.01,0M208.9,354.4l-0.9,-1.1l-1.1,0.1l-0.9,0.7M113.7,588.8l0.4,1.3l0.2,0.7M224.7,383.7l0.26,0.57M255.1,251.2l-0.7,-0.9l-0.6,0.0M226.7,209.3l-0.3,0.7l0.5,0.5l0.8,-0.1l0.7,-0.3M139.1,479.6l0.5,0.5l1.3,0.8l1.2,0.1M290.9,708.8l0.01,0M183.7,715.7l0.8,-0.5l0.9,0.5l0.7,-0.6l0.8,-0.0M321.9,295.7l0.6,0.7l0.6,0.0M328.3,169.2l0.01,0M228.8,202.8l0.01,0M303.4,605.4l-0.1,0.7l-0.3,1.3l-0.7,0.6l0.4,0.9M219.5,323.9l0.01,0M243,371.9l-1.5,-0.0l-0.9,-0.4M307.1,250.2l-4.24,0.14M111.9,105.1l-0.7,0.0l-0.7,-0.2l-0.0,-1.0M331.5,398l0.3,-0.9l-0.7,-1.2l0.4,-0.5M110.3,396l-1.1,0.8l-1.3,0.1M257.8,340.7l0.01,0M165.6,175.5l-1.0,0.9l-0.5,0.4M221.2,232.8l0.1,0.7l-0.5,0.8l-0.6,0.5l-0.1,0.9M149.5,248.4l-1.2,-0.1l-0.6,-1.2l0.6,-1.2l0.7,-0.3M113,249.4l-0.1,1.4l0.6,0.8l0.9,0.2l1.3,-0.2M163.9,379.1l0.2,1.0l0.8,1.1l1.5,-0.2M145.2,281.8l1.4,0.4l1.3,-0.8l0.8,-0.3l0.8,1.1M254.8,237.2l0.01,0M324.8,386.7l1.0,-1.1l0.6,-0.6M141,477.7l-1.1,-0.5l-1.4,-0.2l-1.4,0.1l-0.7,-1.1M126.3,422.4l0.01,0M290.2,115.4l-0.8,1.1l-1.3,-0.5l-0.9,-0.6l-0.3,-0.8M278.1,561.7l-1.11,0.19M116.4,480.9l0.01,0" stroke="#cc3434" stroke-width="1.7"/>
<path d="M368.4,521.5l-1.5,0.4l-0.4,0.7l-0.9,0.2l-0.5,0.5M204.6,554.7l-1.0,0.2l-0.6,0.1M270.3,255.7l0.01,0M259.7,145.5l-1.0,-0.6l-1.3,-0.2l-0.8,-0.5l0.3,-0.6M195.8,666l0.01,0M233.7,653.3l1.5,0.3l0.5,1.3l-0.6,0.9M159.8,452.6l0.01,0M178.4,463l1.3,0.3l0.6,0.4M329.4,286.3l0.01,0M134.5,384.2l0.19,0.93M375.5,219.6l-0.6,0.7l-0.4,0.6l0.2,0.8l0.7,0.4M205.1,396.6l0.01,0M151.4,486.6l-0.2,-1.3l-0.1,-0.9M357.9,615.1l0.01,0M367.3,433l0.01,0M214,445.1l3.21,2.03M336.4,484.1l0.01,0" stroke="#483f28" stroke-width="3"/>
<path d="M368.4,521.5l-1.5,0.4l-0.4,0.7l-0.9,0.2l-0.5,0.5M204.6,554.7l-1.0,0.2l-0.6,0.1M270.3,255.7l0.01,0M259.7,145.5l-1.0,-0.6l-1.3,-0.2l-0.8,-0.5l0.3,-0.6M195.8,666l0.01,0M233.7,653.3l1.5,0.3l0.5,1.3l-0.6,0.9M159.8,452.6l0.01,0M178.4,463l1.3,0.3l0.6,0.4M329.4,286.3l0.01,0M134.5,384.2l0.19,0.93M375.5,219.6l-0.6,0.7l-0.4,0.6l0.2,0.8l0.7,0.4M205.1,396.6l0.01,0M151.4,486.6l-0.2,-1.3l-0.1,-0.9M357.9,615.1l0.01,0M367.3,433l0.01,0M214,445.1l3.21,2.03M336.4,484.1l0.01,0" stroke="#dcc07a" stroke-width="2.1"/>
<path d="M160.1,479.5l-1.22,0.71M222.6,647l0.01,0M338,326.7l-0.5,-0.4l-0.6,-0.8l-0.6,-0.7M94.2,589.4l-0.5,0.6l-0.9,1.3l0.1,0.9l-1.1,0.6M165.8,383.6l0.01,0M163.9,119.2l0.6,0.2l0.9,0.4M150.9,458.5l-0.8,0.0l-0.5,-0.5l-0.9,-0.0M203.9,649.1l0.01,0M103.1,393.7l-0.65,1.03M254.5,690.9l-0.6,1.3l-0.7,0.3M187.5,222.5l0.01,0M115.4,512.3l0.01,0M155,230.9l0.2,1.3l0.9,0.2M215.3,434.5l1.2,-1.0l1.2,0.8l0.9,-0.4l0.3,-1.2M70.2,529.7l-0.0,1.1l0.6,0.2l0.6,0.8l-0.1,0.8M190.3,482.2l-0.9,-1.0l0.2,-1.4M215.1,183.1l0.2,-0.8l-1.2,-0.8l-0.9,-0.5l-0.7,-0.1M126.4,543.6l1.29,0.71M219.4,603.9l0.9,-0.2l0.8,-0.8M224.7,81.7l1.1,-0.6l1.0,0.0l0.8,-1.2M95.2,339l0.01,0M91.3,300.2l0.01,0M258.7,613.7l-0.17,1.89M291.5,366.5l0.37,0.7M227.2,76.7l0.2,1.0l1.2,0.8l1.1,0.4l0.4,1.1M261.7,592.4l1.46,0.22M332.5,205.1l-0.61,1.5M293.9,455.3l1.25,0.75" stroke="#492f15" stroke-width="3"/>
<path d="M160.1,479.5l-1.22,0.71M222.6,647l0.01,0M338,326.7l-0.5,-0.4l-0.6,-0.8l-0.6,-0.7M94.2,589.4l-0.5,0.6l-0.9,1.3l0.1,0.9l-1.1,0.6M165.8,383.6l0.01,0M163.9,119.2l0.6,0.2l0.9,0.4M150.9,458.5l-0.8,0.0l-0.5,-0.5l-0.9,-0.0M203.9,649.1l0.01,0M103.1,393.7l-0.65,1.03M254.5,690.9l-0.6,1.3l-0.7,0.3M187.5,222.5l0.01,0M115.4,512.3l0.01,0M155,230.9l0.2,1.3l0.9,0.2M215.3,434.5l1.2,-1.0l1.2,0.8l0.9,-0.4l0.3,-1.2M70.2,529.7l-0.0,1.1l0.6,0.2l0.6,0.8l-0.1,0.8M190.3,482.2l-0.9,-1.0l0.2,-1.4M215.1,183.1l0.2,-0.8l-1.2,-0.8l-0.9,-0.5l-0.7,-0.1M126.4,543.6l1.29,0.71M219.4,603.9l0.9,-0.2l0.8,-0.8M224.7,81.7l1.1,-0.6l1.0,0.0l0.8,-1.2M95.2,339l0.01,0M91.3,300.2l0.01,0M258.7,613.7l-0.17,1.89M291.5,366.5l0.37,0.7M227.2,76.7l0.2,1.0l1.2,0.8l1.1,0.4l0.4,1.1M261.7,592.4l1.46,0.22M332.5,205.1l-0.61,1.5M293.9,455.3l1.25,0.75" stroke="#e09040" stroke-width="2.1"/>
<path d="M183.4,135.5l-1.5,-0.3l-1.2,0.8l-0.8,-0.7l-0.5,-0.6M327.3,337.3l-0.7,1.1l-1.0,-0.4l-0.8,-1.2l-1.5,-0.2M190.8,620.8l0.2,1.5l1.4,0.5l0.5,0.5l-0.2,0.7M90.3,611.7l-1.4,0.6l-0.7,0.7l-0.4,0.8l-0.9,-0.2M198.7,640.9l-0.5,0.8l-1.3,0.3l-1.3,-0.8l-1.0,-0.6M360.4,367.9l-0.48,0.45M97,471.4l0.01,0M262.5,432.3l0.8,0.4l1.3,-0.3M308.4,513.4l0.01,0M197.9,610.2l0.01,0M270,583.1l-4.15,1.32M248.7,508.7l0.01,0M303.8,565.1l0.01,0M145,290.2l0.01,0M190.1,714.5l0.01,0M313.6,286.8l2.01,0.55M274.6,468.3l-0.8,0.6l-1.4,0.7M147.8,383.1l1.4,-0.2l1.5,0.4l0.7,1.2M250.9,228.6l0.01,0" stroke="#182b44" stroke-width="3"/>
<path d="M183.4,135.5l-1.5,-0.3l-1.2,0.8l-0.8,-0.7l-0.5,-0.6M327.3,337.3l-0.7,1.1l-1.0,-0.4l-0.8,-1.2l-1.5,-0.2M190.8,620.8l0.2,1.5l1.4,0.5l0.5,0.5l-0.2,0.7M90.3,611.7l-1.4,0.6l-0.7,0.7l-0.4,0.8l-0.9,-0.2M198.7,640.9l-0.5,0.8l-1.3,0.3l-1.3,-0.8l-1.0,-0.6M360.4,367.9l-0.48,0.45M97,471.4l0.01,0M262.5,432.3l0.8,0.4l1.3,-0.3M308.4,513.4l0.01,0M197.9,610.2l0.01,0M270,583.1l-4.15,1.32M248.7,508.7l0.01,0M303.8,565.1l0.01,0M145,290.2l0.01,0M190.1,714.5l0.01,0M313.6,286.8l2.01,0.55M274.6,468.3l-0.8,0.6l-1.4,0.7M147.8,383.1l1.4,-0.2l1.5,0.4l0.7,1.2M250.9,228.6l0.01,0" stroke="#4a84d0" stroke-width="2.1"/>
<path d="M336.6,494.6l0.01,0M113.9,608.1l0.6,-0.4l1.2,-0.2l0.9,-0.3l1.0,-0.2M278.8,344.2l0.8,-0.4l-0.2,-1.1M257.6,104.7l0.01,0M184.1,507l-0.6,-0.7l-0.6,-0.3l-1.2,0.7M187.7,285.6l0.4,-1.5l-0.8,-1.2l-0.9,0.1l-1.4,0.3M197.5,610.5l-0.3,-1.5l-1.2,-0.8l-1.1,-0.1l-0.3,-1.6M293.2,512.5l-0.03,0.63M301.3,399.1l1.12,0.96M76.2,504.1l0.9,-0.2l0.6,-0.4l1.2,-0.6M212.5,131.2l0.1,-1.2l1.5,-0.5M274.4,697.6l0.01,0M240.2,266.7l0.01,0M130.4,381.5l0.3,0.8l1.3,0.7l0.9,0.1M122.2,439.7l0.01,0M130.4,462.3l0.7,0.1l1.0,-1.1" stroke="#48471d" stroke-width="3"/>
<path d="M336.6,494.6l0.01,0M113.9,608.1l0.6,-0.4l1.2,-0.2l0.9,-0.3l1.0,-0.2M278.8,344.2l0.8,-0.4l-0.2,-1.1M257.6,104.7l0.01,0M184.1,507l-0.6,-0.7l-0.6,-0.3l-1.2,0.7M187.7,285.6l0.4,-1.5l-0.8,-1.2l-0.9,0.1l-1.4,0.3M197.5,610.5l-0.3,-1.5l-1.2,-0.8l-1.1,-0.1l-0.3,-1.6M293.2,512.5l-0.03,0.63M301.3,399.1l1.12,0.96M76.2,504.1l0.9,-0.2l0.6,-0.4l1.2,-0.6M212.5,131.2l0.1,-1.2l1.5,-0.5M274.4,697.6l0.01,0M240.2,266.7l0.01,0M130.4,381.5l0.3,0.8l1.3,0.7l0.9,0.1M122.2,439.7l0.01,0M130.4,462.3l0.7,0.1l1.0,-1.1" stroke="#dcd858" stroke-width="2.1"/>
<path d="M243.3,591.1l-0.2,-1.3l-0.9,-0.2l-0.6,-0.1M182.5,378.2l-0.3,1.0l-0.7,1.4M191.1,276.5l0.8,-0.3l1.3,0.5l0.9,1.2l1.0,0.0M261.8,417.3l-1.2,0.2l-1.4,0.1l-0.4,-0.5M227.3,125.4l-0.1,-1.6l-0.7,-1.0l0.1,-0.9l-0.7,-1.3M191.2,523.4l1.1,0.4l0.8,-0.0l1.1,0.3l1.0,0.4M262,356.3l-1.64,1.75M198.7,158.4l0.59,0.25M229.5,450.1l0.01,0M152.8,146.8l0.9,-0.7l0.5,-0.5l0.7,-0.2M52.6,403.2l1.31,0.09M289.4,597.6l-1.15,1.01M207.1,614.2l0.01,0M182.8,630.4l0.6,-1.4l1.3,-0.6l-0.2,-0.9M226.4,584.7l0.01,0M165.7,465.5l2.43,0.32M206.5,293.9l0.8,-0.5l0.8,-1.3l-0.1,-0.7M242.2,204.8l0.01,0M320.2,573.6l0.01,0M172.7,474.4l-0.3,-1.1l0.4,-0.6M342.9,537.3l0.01,0M289.3,358.5l0.4,-1.0l-0.3,-0.8l0.7,-0.9M330.3,574.5l-0.6,0.2l-1.3,-0.4l-0.9,-0.1l-0.3,-0.6M298,298.5l0.01,0M140.1,348.8l-0.6,0.3l-0.7,-0.8l-1.0,0.5l-1.4,-0.2M175.9,258.8l0.01,0M219.8,502.6l0.01,0M311,586.1l0.01,0M243.7,186l1.1,-1.0l0.9,0.2" stroke="#243c3c" stroke-width="3"/>
<path d="M243.3,591.1l-0.2,-1.3l-0.9,-0.2l-0.6,-0.1M182.5,378.2l-0.3,1.0l-0.7,1.4M191.1,276.5l0.8,-0.3l1.3,0.5l0.9,1.2l1.0,0.0M261.8,417.3l-1.2,0.2l-1.4,0.1l-0.4,-0.5M227.3,125.4l-0.1,-1.6l-0.7,-1.0l0.1,-0.9l-0.7,-1.3M191.2,523.4l1.1,0.4l0.8,-0.0l1.1,0.3l1.0,0.4M262,356.3l-1.64,1.75M198.7,158.4l0.59,0.25M229.5,450.1l0.01,0M152.8,146.8l0.9,-0.7l0.5,-0.5l0.7,-0.2M52.6,403.2l1.31,0.09M289.4,597.6l-1.15,1.01M207.1,614.2l0.01,0M182.8,630.4l0.6,-1.4l1.3,-0.6l-0.2,-0.9M226.4,584.7l0.01,0M165.7,465.5l2.43,0.32M206.5,293.9l0.8,-0.5l0.8,-1.3l-0.1,-0.7M242.2,204.8l0.01,0M320.2,573.6l0.01,0M172.7,474.4l-0.3,-1.1l0.4,-0.6M342.9,537.3l0.01,0M289.3,358.5l0.4,-1.0l-0.3,-0.8l0.7,-0.9M330.3,574.5l-0.6,0.2l-1.3,-0.4l-0.9,-0.1l-0.3,-0.6M298,298.5l0.01,0M140.1,348.8l-0.6,0.3l-0.7,-0.8l-1.0,0.5l-1.4,-0.2M175.9,258.8l0.01,0M219.8,502.6l0.01,0M311,586.1l0.01,0M243.7,186l1.1,-1.0l0.9,0.2" stroke="#70b8b8" stroke-width="2.1"/>
<path d="M335.5,260.4l-1.0,-1.1l-0.2,-0.7l0.5,-1.0M65.5,464.1l-0.75,2.1M165.9,464.5l0.01,0M269.7,313.4l0.01,0M306.2,716.9l-0.1,0.9l-0.3,0.9M117.8,626.3l-0.2,0.9l0.6,0.9l-0.2,0.6M220.6,697l-1.27,1.65M209.5,678.6l0.01,0M120.1,468.4l0.6,0.4l1.3,0.6l0.1,1.5M317.1,661.2l-0.8,-0.7l-0.4,-0.7l-1.1,-0.1l-1.1,0.9M309,559.5l0.8,-0.0l0.4,-1.2M226.3,185.5l0.01,0M263.2,552l0.21,2.03M213.6,637l-0.3,-0.6l-1.2,-0.7l-0.1,-1.2l0.8,-0.4M222.8,271.4l-1.3,-0.3l-1.0,0.8l-1.2,0.6l-0.7,-0.4M175.7,495.5l0.9,-1.3l0.8,-1.2l1.4,0.2l0.7,1.3M269.8,123.1l1.71,1.62M273.6,149.3l0.01,0" stroke="#1e4248" stroke-width="3"/>
<path d="M335.5,260.4l-1.0,-1.1l-0.2,-0.7l0.5,-1.0M65.5,464.1l-0.75,2.1M165.9,464.5l0.01,0M269.7,313.4l0.01,0M306.2,716.9l-0.1,0.9l-0.3,0.9M117.8,626.3l-0.2,0.9l0.6,0.9l-0.2,0.6M220.6,697l-1.27,1.65M209.5,678.6l0.01,0M120.1,468.4l0.6,0.4l1.3,0.6l0.1,1.5M317.1,661.2l-0.8,-0.7l-0.4,-0.7l-1.1,-0.1l-1.1,0.9M309,559.5l0.8,-0.0l0.4,-1.2M226.3,185.5l0.01,0M263.2,552l0.21,2.03M213.6,637l-0.3,-0.6l-1.2,-0.7l-0.1,-1.2l0.8,-0.4M222.8,271.4l-1.3,-0.3l-1.0,0.8l-1.2,0.6l-0.7,-0.4M175.7,495.5l0.9,-1.3l0.8,-1.2l1.4,0.2l0.7,1.3M269.8,123.1l1.71,1.62M273.6,149.3l0.01,0" stroke="#5cc8dc" stroke-width="2.1"/>
<path d="M252,698.3l1.39,1.62M213.7,568.5l0.01,0M198.6,644.2l-0.2,-1.5l1.0,-0.4l1.3,0.2l0.8,0.6M48.3,277.9l0.01,0M112.6,436.4l-0.8,0.5l0.4,1.2l0.9,0.1l0.6,-1.1M359.5,226.5l-0.6,0.5l-0.5,0.4l0.4,0.8M308.3,606l-1.1,-1.0l-0.6,-0.4l-0.1,-0.9M90.7,294.4l0.3,0.8l1.1,1.1l1.2,-0.6M109,442.4l0.01,0M252.2,513.3l0.01,0M149.8,656.3l-0.7,1.1l-0.3,1.1l-0.7,0.3M133.9,661.6l0.01,0M212.2,294.8l-1.0,-0.6l-0.7,-0.2l-0.6,0.4l-1.1,-0.1M151.6,361.4l0.01,0M203.6,244l-0.4,-1.0l-0.8,-0.5l-0.7,-0.3M288.3,306l0.9,-0.1l0.9,0.0l1.1,-0.5l0.8,-0.8M177,455.8l-1.9,1.27M252.3,593.2l0.2,0.6l1.2,-0.1l1.2,0.8M104,258.6l-0.8,-0.1l-0.9,0.9l-1.2,0.7l-1.1,0.6M178.9,250.9l-0.8,-0.7l-0.8,0.5M327.5,567.2l0.01,0M245.1,159.5l0.4,0.6l0.7,0.2l0.3,0.8l1.0,1.0" stroke="#401940" stroke-width="3"/>
<path d="M252,698.3l1.39,1.62M213.7,568.5l0.01,0M198.6,644.2l-0.2,-1.5l1.0,-0.4l1.3,0.2l0.8,0.6M48.3,277.9l0.01,0M112.6,436.4l-0.8,0.5l0.4,1.2l0.9,0.1l0.6,-1.1M359.5,226.5l-0.6,0.5l-0.5,0.4l0.4,0.8M308.3,606l-1.1,-1.0l-0.6,-0.4l-0.1,-0.9M90.7,294.4l0.3,0.8l1.1,1.1l1.2,-0.6M109,442.4l0.01,0M252.2,513.3l0.01,0M149.8,656.3l-0.7,1.1l-0.3,1.1l-0.7,0.3M133.9,661.6l0.01,0M212.2,294.8l-1.0,-0.6l-0.7,-0.2l-0.6,0.4l-1.1,-0.1M151.6,361.4l0.01,0M203.6,244l-0.4,-1.0l-0.8,-0.5l-0.7,-0.3M288.3,306l0.9,-0.1l0.9,0.0l1.1,-0.5l0.8,-0.8M177,455.8l-1.9,1.27M252.3,593.2l0.2,0.6l1.2,-0.1l1.2,0.8M104,258.6l-0.8,-0.1l-0.9,0.9l-1.2,0.7l-1.1,0.6M178.9,250.9l-0.8,-0.7l-0.8,0.5M327.5,567.2l0.01,0M245.1,159.5l0.4,0.6l0.7,0.2l0.3,0.8l1.0,1.0" stroke="#c44cc4" stroke-width="2.1"/>
<path d="M210.4,584l1.1,0.5l-0.3,1.3l-0.6,1.4l-1.5,0.1M286.9,228l0.01,0M216.1,303.9l0.1,0.6l-1.2,0.5l-0.7,-1.0M213.8,140.6l0.01,0M278.1,170.5l1.2,1.0l0.2,1.4l-0.4,0.9l-0.9,1.2M137.9,561l0.01,0M365.2,444.8l-0.9,-0.9l-1.3,0.5l-0.9,-0.5l-0.9,-1.2M123.6,426.3l0.01,0M223.5,493.5l1.3,0.1l1.0,-0.4l1.1,-0.9l0.3,-1.0M175.3,200.9l0.7,0.4l0.3,0.9M104.8,652.7l-1.4,-0.5l-0.5,0.6l-0.7,1.4M225.1,481l0.01,0M239.5,590.3l-1.0,-0.7l-0.6,-0.4l-0.4,-0.5l-1.3,-0.5M257.1,648.3l0.01,0M148.8,291.4l-1.4,-0.6l-1.1,0.5l-1.0,-0.9l-0.9,-0.5M314.4,194.1l0.01,0M276.5,226.7l0.3,0.9l-0.0,1.2M311.2,180.5l-0.9,-1.3l-0.2,-1.0l-1.0,-0.1l-0.8,1.0M334,545.6l-1.5,0.5l-0.5,0.6M304.8,211.1l0.0,-0.8l0.5,-0.6l0.9,-0.6M233.2,578.3l0.01,0M215.8,292.6l-0.2,1.4l-0.9,0.6l-0.7,0.3M258.1,433.3l-0.7,-0.3l-1.0,-0.6M214,658.3l0.41,0.46M207.1,703.7l0.11,1.1M328.8,434.3l-1.27,0.82M53.6,390.6l0.01,0M185.7,540.3l0.01,0M229.9,142.4l2.07,3.07M182.4,567.5l-0.3,0.8l-1.4,0.0l-0.6,-0.7" stroke="#174417" stroke-width="3"/>
<path d="M210.4,584l1.1,0.5l-0.3,1.3l-0.6,1.4l-1.5,0.1M286.9,228l0.01,0M216.1,303.9l0.1,0.6l-1.2,0.5l-0.7,-1.0M213.8,140.6l0.01,0M278.1,170.5l1.2,1.0l0.2,1.4l-0.4,0.9l-0.9,1.2M137.9,561l0.01,0M365.2,444.8l-0.9,-0.9l-1.3,0.5l-0.9,-0.5l-0.9,-1.2M123.6,426.3l0.01,0M223.5,493.5l1.3,0.1l1.0,-0.4l1.1,-0.9l0.3,-1.0M175.3,200.9l0.7,0.4l0.3,0.9M104.8,652.7l-1.4,-0.5l-0.5,0.6l-0.7,1.4M225.1,481l0.01,0M239.5,590.3l-1.0,-0.7l-0.6,-0.4l-0.4,-0.5l-1.3,-0.5M257.1,648.3l0.01,0M148.8,291.4l-1.4,-0.6l-1.1,0.5l-1.0,-0.9l-0.9,-0.5M314.4,194.1l0.01,0M276.5,226.7l0.3,0.9l-0.0,1.2M311.2,180.5l-0.9,-1.3l-0.2,-1.0l-1.0,-0.1l-0.8,1.0M334,545.6l-1.5,0.5l-0.5,0.6M304.8,211.1l0.0,-0.8l0.5,-0.6l0.9,-0.6M233.2,578.3l0.01,0M215.8,292.6l-0.2,1.4l-0.9,0.6l-0.7,0.3M258.1,433.3l-0.7,-0.3l-1.0,-0.6M214,658.3l0.41,0.46M207.1,703.7l0.11,1.1M328.8,434.3l-1.27,0.82M53.6,390.6l0.01,0M185.7,540.3l0.01,0M229.9,142.4l2.07,3.07M182.4,567.5l-0.3,0.8l-1.4,0.0l-0.6,-0.7" stroke="#48d048" stroke-width="2.1"/>
<path d="M165.1,689.4l1.5,-0.5l0.2,-1.5l-0.2,-1.3l-1.1,-1.0M365.4,244.4l0.01,0M126.8,513.3l0.01,0M251.1,246l2.02,0.8M200.1,749.1l0.1,-0.9l0.8,-0.2l0.2,-1.1l1.4,-0.4M151.1,611.9l0.01,0M187.6,661.7l-0.6,0.4l-1.1,-0.5M185.7,623.9l0.4,0.5l0.8,0.6M164,382.6l-0.89,2.24M344.3,466.4l-1.3,-0.4l-0.4,-0.8l-1.5,-0.4l-1.1,0.8M143.8,449l-1.0,1.2l-0.6,0.1M354.3,243.4l0.7,-1.4l0.9,0.0l0.8,1.3M176.7,263.9l-0.89,2.26M113.5,410.5l-0.1,-0.8l-0.8,-0.8l-0.1,-1.2l-1.2,-0.5M352.8,578.2l-0.4,1.1l0.6,0.8l0.8,0.9M243.7,163.4l0.01,0M131,473.3l-0.28,0.67M243.2,524.1l0.5,0.9l1.3,0.7l-0.2,1.2l0.2,0.7M196.7,502l0.01,0M249.5,271.7l0.01,0M332.6,316.4l0.01,0" stroke="#1d3a30" stroke-width="3"/>
<path d="M165.1,689.4l1.5,-0.5l0.2,-1.5l-0.2,-1.3l-1.1,-1.0M365.4,244.4l0.01,0M126.8,513.3l0.01,0M251.1,246l2.02,0.8M200.1,749.1l0.1,-0.9l0.8,-0.2l0.2,-1.1l1.4,-0.4M151.1,611.9l0.01,0M187.6,661.7l-0.6,0.4l-1.1,-0.5M185.7,623.9l0.4,0.5l0.8,0.6M164,382.6l-0.89,2.24M344.3,466.4l-1.3,-0.4l-0.4,-0.8l-1.5,-0.4l-1.1,0.8M143.8,449l-1.0,1.2l-0.6,0.1M354.3,243.4l0.7,-1.4l0.9,0.0l0.8,1.3M176.7,263.9l-0.89,2.26M113.5,410.5l-0.1,-0.8l-0.8,-0.8l-0.1,-1.2l-1.2,-0.5M352.8,578.2l-0.4,1.1l0.6,0.8l0.8,0.9M243.7,163.4l0.01,0M131,473.3l-0.28,0.67M243.2,524.1l0.5,0.9l1.3,0.7l-0.2,1.2l0.2,0.7M196.7,502l0.01,0M249.5,271.7l0.01,0M332.6,316.4l0.01,0" stroke="#58b094" stroke-width="2.1"/>
<path d="M258.2,222.4l-0.9,-0.3l-1.0,-0.2M366.4,343.3l0.4,-0.4l0.4,-1.1l-0.6,-1.3M138.9,489.2l0.01,0M252.4,409.4l0.01,0M180.6,510.5l1.4,0.6l1.2,-0.2M194.5,369.8l0.92,1.84M125,567.7l0.01,0M375.2,442.2l0.8,0.4l-0.4,1.2l-1.4,0.2M203.4,640.5l0.01,0M202.6,239l0.01,0M121.3,239l-0.9,0.7l-1.1,-0.7M232.8,567.6l-1.2,0.1l-1.1,-0.1l-0.7,-0.1M216.6,429.3l-1.21,1.3M277.7,388.6l-0.9,0.5l-0.7,0.4M96,523.8l1.1,-0.3l0.4,-0.9l0.8,-0.1l0.1,-0.9M177,466.4l0.63,0.06M174.2,599l0.01,0M253.4,312.3l1.2,0.6l0.6,0.1M223.7,295.7l1.65,0.99" stroke="#0a0a32" stroke-width="3"/>
<path d="M258.2,222.4l-0.9,-0.3l-1.0,-0.2M366.4,343.3l0.4,-0.4l0.4,-1.1l-0.6,-1.3M138.9,489.2l0.01,0M252.4,409.4l0.01,0M180.6,510.5l1.4,0.6l1.2,-0.2M194.5,369.8l0.92,1.84M125,567.7l0.01,0M375.2,442.2l0.8,0.4l-0.4,1.2l-1.4,0.2M203.4,640.5l0.01,0M202.6,239l0.01,0M121.3,239l-0.9,0.7l-1.1,-0.7M232.8,567.6l-1.2,0.1l-1.1,-0.1l-0.7,-0.1M216.6,429.3l-1.21,1.3M277.7,388.6l-0.9,0.5l-0.7,0.4M96,523.8l1.1,-0.3l0.4,-0.9l0.8,-0.1l0.1,-0.9M177,466.4l0.63,0.06M174.2,599l0.01,0M253.4,312.3l1.2,0.6l0.6,0.1M223.7,295.7l1.65,0.99" stroke="#20209a" stroke-width="2.1"/>
<path d="M233.8,401.9l0.5,0.7l1.3,0.1l1.1,1.1M159.1,468.5l-0.6,0.0l-1.1,0.1l-0.6,0.2M376.8,326.6l0.9,0.7l1.3,-0.5l-0.1,-1.2l-0.6,-0.7M295.7,182.6l0.01,0M197.3,680.4l-0.7,1.2l-1.1,0.9l-0.7,0.4M259.6,199.9l0.01,0M370.3,276l1.5,0.1l0.9,0.4l0.8,0.2M212,175.6l1.1,0.3l0.6,0.5l1.2,-0.1l0.4,-0.5M298.7,422.8l0.01,0M246.8,118.7l-0.1,-0.7l0.7,-0.5M285.2,410.1l0.5,-1.1l1.2,-0.6M338.9,597.7l1.3,0.7l0.7,-0.2l0.9,-1.2l1.5,0.1M183.9,572.1l-0.25,2.3M143.9,609.6l1.3,-0.8l0.3,-1.4M256.1,393.5l-0.14,0.85M167,322.9l0.01,0M225.2,667.3l1.49,1.58M339.5,182.9l-0.3,0.8l-1.3,0.2l-1.6,-0.0l-0.8,-0.3M134.3,677.6l-1.0,0.7l-0.4,0.8l-1.2,0.4M185.9,647.6l0.01,0M248.4,149.8l-0.0,0.7l0.5,1.0l0.9,1.3M98,554.6l-1.0,-0.1l-1.0,-1.0" stroke="#47242f" stroke-width="3"/>
<path d="M233.8,401.9l0.5,0.7l1.3,0.1l1.1,1.1M159.1,468.5l-0.6,0.0l-1.1,0.1l-0.6,0.2M376.8,326.6l0.9,0.7l1.3,-0.5l-0.1,-1.2l-0.6,-0.7M295.7,182.6l0.01,0M197.3,680.4l-0.7,1.2l-1.1,0.9l-0.7,0.4M259.6,199.9l0.01,0M370.3,276l1.5,0.1l0.9,0.4l0.8,0.2M212,175.6l1.1,0.3l0.6,0.5l1.2,-0.1l0.4,-0.5M298.7,422.8l0.01,0M246.8,118.7l-0.1,-0.7l0.7,-0.5M285.2,410.1l0.5,-1.1l1.2,-0.6M338.9,597.7l1.3,0.7l0.7,-0.2l0.9,-1.2l1.5,0.1M183.9,572.1l-0.25,2.3M143.9,609.6l1.3,-0.8l0.3,-1.4M256.1,393.5l-0.14,0.85M167,322.9l0.01,0M225.2,667.3l1.49,1.58M339.5,182.9l-0.3,0.8l-1.3,0.2l-1.6,-0.0l-0.8,-0.3M134.3,677.6l-1.0,0.7l-0.4,0.8l-1.2,0.4M185.9,647.6l0.01,0M248.4,149.8l-0.0,0.7l0.5,1.0l0.9,1.3M98,554.6l-1.0,-0.1l-1.0,-1.0" stroke="#d87090" stroke-width="2.1"/>
<path d="M94.6,458.9l-0.11,0.54M214.1,610l-1.56,1.76M131.4,604.3l0.01,0M186.1,567.2l0.01,0M319.6,140.2l0.7,-0.0l1.0,-0.3l0.4,-0.6l1.1,0.2M222.2,542.5l0.01,0M219.3,217.6l-0.5,-0.5l0.2,-0.8M373.6,327l0.7,0.7l-0.2,1.5l0.6,0.9l1.2,0.0M357.8,158.6l1.19,0.88M295.5,353.8l-1.09,1.92M136.9,535.9l0.01,0M232,626.9l1.02,1.93M322.6,367.7l0.01,0M74.1,514.2l-0.44,0.9M177,481.6l0.9,1.3l0.2,1.5l1.0,1.2l0.7,-0.2M124.4,473.1l0.5,-1.1l-1.0,-0.7l-0.9,-0.8M251.3,618.8l-0.1,1.1l0.7,0.9M67.2,574l-0.9,-0.8l-1.0,-0.5l-0.8,0.0M261.6,278.6l0.2,-1.1l1.2,-0.5l1.3,-0.4l1.0,-0.2M273.1,576l4.73,1.13M300.8,92.1l-0.5,0.5l-0.9,0.2l-0.5,0.4l-1.4,-0.3M233.5,252.8l0.01,0M153,687.7l1.3,-0.7l1.2,0.8" stroke="#431111" stroke-width="3"/>
<path d="M94.6,458.9l-0.11,0.54M214.1,610l-1.56,1.76M131.4,604.3l0.01,0M186.1,567.2l0.01,0M319.6,140.2l0.7,-0.0l1.0,-0.3l0.4,-0.6l1.1,0.2M222.2,542.5l0.01,0M219.3,217.6l-0.5,-0.5l0.2,-0.8M373.6,327l0.7,0.7l-0.2,1.5l0.6,0.9l1.2,0.0M357.8,158.6l1.19,0.88M295.5,353.8l-1.09,1.92M136.9,535.9l0.01,0M232,626.9l1.02,1.93M322.6,367.7l0.01,0M74.1,514.2l-0.44,0.9M177,481.6l0.9,1.3l0.2,1.5l1.0,1.2l0.7,-0.2M124.4,473.1l0.5,-1.1l-1.0,-0.7l-0.9,-0.8M251.3,618.8l-0.1,1.1l0.7,0.9M67.2,574l-0.9,-0.8l-1.0,-0.5l-0.8,0.0M261.6,278.6l0.2,-1.1l1.2,-0.5l1.3,-0.4l1.0,-0.2M273.1,576l4.73,1.13M300.8,92.1l-0.5,0.5l-0.9,0.2l-0.5,0.4l-1.4,-0.3M233.5,252.8l0.01,0M153,687.7l1.3,-0.7l1.2,0.8" stroke="#cc3434" stroke-width="2.1"/>
<path d="M265.1,306.4l0.01,0M168.7,389.7l0.01,0M206.8,418.8l0.01,0M341.4,419.9l0.49,0.88M137.3,467.8l0.25,2.11M190.6,351.2l0.9,1.3l1.5,-0.3l0.7,-0.3l-0.3,-1.2" stroke="#174417" stroke-width="3.6"/>
<path d="M265.1,306.4l0.01,0M168.7,389.7l0.01,0M206.8,418.8l0.01,0M341.4,419.9l0.49,0.88M137.3,467.8l0.25,2.11M190.6,351.2l0.9,1.3l1.5,-0.3l0.7,-0.3l-0.3,-1.2" stroke="#48d048" stroke-width="2.7"/>
<path d="M364.3,107.8l2.81,0.53M162.1,602.2l0.01,0M198.4,397.5l0.01,0M354,159.3l0.26,0.56M154.4,373.7l-0.77,1.4M272.9,672.6l-0.7,-0.3l-1.3,-0.8l-1.0,-0.5" stroke="#1d3a30" stroke-width="3.6"/>
<path d="M364.3,107.8l2.81,0.53M162.1,602.2l0.01,0M198.4,397.5l0.01,0M354,159.3l0.26,0.56M154.4,373.7l-0.77,1.4M272.9,672.6l-0.7,-0.3l-1.3,-0.8l-1.0,-0.5" stroke="#58b094" stroke-width="2.7"/>
<path d="M250.9,510.1l1.78,0.3M179.7,644l2.63,1.65M330.5,559.5l0.81,0.5M372.2,495.3l0.01,0M286.9,218.8l1.07,1.05M76.5,484.7l-1.06,2.3M323.3,259.4l-1.3,-0.2l-1.0,1.2M265.4,565.4l-0.5,-1.5l-1.1,-0.1M371.1,468.7l0.01,0M140.2,555.6l0.1,-0.7l-1.4,-0.6l-0.5,-0.6l-0.2,-1.1M363.8,300.6l0.01,0" stroke="#243c3c" stroke-width="3.6"/>
<path d="M250.9,510.1l1.78,0.3M179.7,644l2.63,1.65M330.5,559.5l0.81,0.5M372.2,495.3l0.01,0M286.9,218.8l1.07,1.05M76.5,484.7l-1.06,2.3M323.3,259.4l-1.3,-0.2l-1.0,1.2M265.4,565.4l-0.5,-1.5l-1.1,-0.1M371.1,468.7l0.01,0M140.2,555.6l0.1,-0.7l-1.4,-0.6l-0.5,-0.6l-0.2,-1.1M363.8,300.6l0.01,0" stroke="#70b8b8" stroke-width="2.7"/>
<path d="M375.8,444.3l0.9,-1.2l0.7,-0.4l0.4,-1.3M222.8,597.6l0.9,0.0l0.8,-0.6M252.6,601.1l0.3,-0.8l-0.2,-0.9l-1.2,-0.1l-1.1,-0.0M261.9,202.8l-3.03,0.4M273.5,717.1l3,1.18" stroke="#431111" stroke-width="3.6"/>
<path d="M375.8,444.3l0.9,-1.2l0.7,-0.4l0.4,-1.3M222.8,597.6l0.9,0.0l0.8,-0.6M252.6,601.1l0.3,-0.8l-0.2,-0.9l-1.2,-0.1l-1.1,-0.0M261.9,202.8l-3.03,0.4M273.5,717.1l3,1.18" stroke="#cc3434" stroke-width="2.7"/>
<path d="M170.6,622.7l-0.01,0.74M166,98.3l-0.7,0.5l-1.0,-0.2M308.2,450.1l-0.6,-0.7l0.2,-0.8l-1.0,-1.0M211.1,506.5l-0.7,-0.6l-1.1,-0.2M212.7,543.9l2.59,0.09M168.9,581l0.96,2.94M189.8,591l-1.1,-0.3l-1.0,-0.8l-0.8,-1.1l-0.0,-1.4M293.3,452.7l-0.7,-0.2l0.0,-1.6l1.3,-0.2l0.3,0.5M235.1,589.4l-0.2,-1.1l-1.0,-1.2l-1.5,0.3M231.1,255l0.7,-0.4l0.9,0.2l0.2,1.3M118.2,367.3l0.1,1.2l1.2,0.8l0.5,0.4" stroke="#401940" stroke-width="3.6"/>
<path d="M170.6,622.7l-0.01,0.74M166,98.3l-0.7,0.5l-1.0,-0.2M308.2,450.1l-0.6,-0.7l0.2,-0.8l-1.0,-1.0M211.1,506.5l-0.7,-0.6l-1.1,-0.2M212.7,543.9l2.59,0.09M168.9,581l0.96,2.94M189.8,591l-1.1,-0.3l-1.0,-0.8l-0.8,-1.1l-0.0,-1.4M293.3,452.7l-0.7,-0.2l0.0,-1.6l1.3,-0.2l0.3,0.5M235.1,589.4l-0.2,-1.1l-1.0,-1.2l-1.5,0.3M231.1,255l0.7,-0.4l0.9,0.2l0.2,1.3M118.2,367.3l0.1,1.2l1.2,0.8l0.5,0.4" stroke="#c44cc4" stroke-width="2.7"/>
<path d="M227.7,337.3l1.2,-0.2l1.0,0.4l1.3,-0.9M234.2,460.1l-0.7,-0.3l-0.7,-0.5M232.6,547.9l0.01,0M285.7,598.1l0.01,0M248.7,239.9l0.01,0" stroke="#182b44" stroke-width="3.6"/>
<path d="M227.7,337.3l1.2,-0.2l1.0,0.4l1.3,-0.9M234.2,460.1l-0.7,-0.3l-0.7,-0.5M232.6,547.9l0.01,0M285.7,598.1l0.01,0M248.7,239.9l0.01,0" stroke="#4a84d0" stroke-width="2.7"/>
<path d="M318.1,477.4l0.7,1.3l0.6,0.2l1.3,-0.0M149.6,220.7l4.02,0.56M266.5,632l0.93,0.83M286.4,555.1l1.3,0.7l0.8,-0.6M123.3,631.2l1.1,0.4l0.3,1.1l1.4,-0.0l0.4,-0.7M172.3,349.5l0.56,1.3M288,527l0.6,-1.3l1.5,-0.1M154.6,317.8l0.01,0" stroke="#483f28" stroke-width="3.6"/>
<path d="M318.1,477.4l0.7,1.3l0.6,0.2l1.3,-0.0M149.6,220.7l4.02,0.56M266.5,632l0.93,0.83M286.4,555.1l1.3,0.7l0.8,-0.6M123.3,631.2l1.1,0.4l0.3,1.1l1.4,-0.0l0.4,-0.7M172.3,349.5l0.56,1.3M288,527l0.6,-1.3l1.5,-0.1M154.6,317.8l0.01,0" stroke="#dcc07a" stroke-width="2.7"/>
<path d="M330.2,632l0.86,1.14M270.9,384.4l0.12,0.99M74.1,187.3l-1.66,2.18" stroke="#47242f" stroke-width="3.6"/>
<path d="M330.2,632l0.86,1.14M270.9,384.4l0.12,0.99M74.1,187.3l-1.66,2.18" stroke="#d87090" stroke-width="2.7"/>
<path d="M72.1,213.3l0.01,0M206.2,375.2l0.8,-0.9l1.2,-0.2l0.9,0.6M149.1,586.4l0.6,-0.5l1.3,-0.6M223.2,155.7l0.01,0M236.3,507.6l0.01,0" stroke="#48471d" stroke-width="3.6"/>
<path d="M72.1,213.3l0.01,0M206.2,375.2l0.8,-0.9l1.2,-0.2l0.9,0.6M149.1,586.4l0.6,-0.5l1.3,-0.6M223.2,155.7l0.01,0M236.3,507.6l0.01,0" stroke="#dcd858" stroke-width="2.7"/>
<path d="M137.7,440l0.01,0M193.2,245.7l0.97,0.27M231.1,119.1l-1.4,-0.5l0.2,-1.2l0.6,-0.5M224.3,397.3l1.72,1.25" stroke="#492f15" stroke-width="3.6"/>
<path d="M137.7,440l0.01,0M193.2,245.7l0.97,0.27M231.1,119.1l-1.4,-0.5l0.2,-1.2l0.6,-0.5M224.3,397.3l1.72,1.25" stroke="#e09040" stroke-width="2.7"/>
<path d="M228.6,148l-0.6,-0.9l-0.1,-1.2l-0.2,-1.1M245.8,245.2l-0.5,1.1l-1.1,-0.1M192.2,569.5l-0.47,0.85M216.7,495l0.01,0M197.6,524.2l-1.3,0.6l-0.1,0.8l0.6,1.2l0.0,1.0M184.1,326.8l0.3,1.3l1.2,0.9l0.3,0.6M205.9,372.8l-1.01,0.69M214.6,653.9l1.0,-0.5l1.4,0.1l0.7,-1.2l0.9,-0.8" stroke="#0a0a32" stroke-width="3.6"/>
<path d="M228.6,148l-0.6,-0.9l-0.1,-1.2l-0.2,-1.1M245.8,245.2l-0.5,1.1l-1.1,-0.1M192.2,569.5l-0.47,0.85M216.7,495l0.01,0M197.6,524.2l-1.3,0.6l-0.1,0.8l0.6,1.2l0.0,1.0M184.1,326.8l0.3,1.3l1.2,0.9l0.3,0.6M205.9,372.8l-1.01,0.69M214.6,653.9l1.0,-0.5l1.4,0.1l0.7,-1.2l0.9,-0.8" stroke="#20209a" stroke-width="2.7"/>
<path d="M237,335.4l-0.4,1.4l0.9,0.6M197.8,300.7l-0.8,0.4l-1.0,1.0l-1.4,0.4M335.7,537.2l2.32,0.11" stroke="#1e4248" stroke-width="3.6"/>
<path d="M237,335.4l-0.4,1.4l0.9,0.6M197.8,300.7l-0.8,0.4l-1.0,1.0l-1.4,0.4M335.7,537.2l2.32,0.11" stroke="#5cc8dc" stroke-width="2.7"/>
<path d="M217.5,381 L224,380.5 L231,377.5 L238,374 L245,372 L253,373 L261,374.5 M258,374 L262,380 L268,384 L270,392 L271,396 M222,382 L222,390 L221,397" stroke="#541414" stroke-width="3.4"/>
<path d="M217.5,381 L224,380.5 L231,377.5 L238,374 L245,372 L253,373 L261,374.5 M258,374 L262,380 L268,384 L270,392 L271,396 M222,382 L222,390 L221,397" stroke="#d23232" stroke-width="2.7"/>
<path d="M200,367 L206,368.5 L212,372 L219,375.5" stroke="#1b581b" stroke-width="3.2"/>
<path d="M200,367 L206,368.5 L212,372 L219,375.5" stroke="#44dd44" stroke-width="2.5"/>
<path d="M250,357 L253,362 L251,368 M255,359 L257,366 L253,370" stroke="#1b581b" stroke-width="4.6"/>
<path d="M250,357 L253,362 L251,368 M255,359 L257,366 L253,370" stroke="#44dd44" stroke-width="3.9"/>
<path d="M349.5,368 L354,372 L357,376 L362,381 M356,376 L361,373" stroke="#1b581b" stroke-width="2.6"/>
<path d="M349.5,368 L354,372 L357,376 L362,381 M356,376 L361,373" stroke="#44dd44" stroke-width="1.9"/>
<path d="M184,312.5 L192,310.5 L200,310 L208,308.5" stroke="#0b0b3e" stroke-width="3"/>
<path d="M184,312.5 L192,310.5 L200,310 L208,308.5" stroke="#1c1c9c" stroke-width="2.3"/>
<path d="M214,300 L217,302" stroke="#0b0b3e" stroke-width="3.8"/>
<path d="M214,300 L217,302" stroke="#1c1c9c" stroke-width="3.1"/>
<path d="M208,306 L210,305.5 M215,317.5 L221,319.5 L226,320 L229,323" stroke="#22555c" stroke-width="3"/>
<path d="M208,306 L210,305.5 M215,317.5 L221,319.5 L226,320 L229,323" stroke="#55d6e6" stroke-width="2.3"/>
<path d="M219.5,272 L222,275 L221,281 L222,287" stroke="#511b51" stroke-width="3.2"/>
<path d="M219.5,272 L222,275 L221,281 L222,287" stroke="#cc44cc" stroke-width="2.5"/>
<path d="M85.5,310.5 L91,311 L96,315 L99,319" stroke="#5c3c18" stroke-width="3"/>
<path d="M85.5,310.5 L91,311 L96,315 L99,319" stroke="#e8963c" stroke-width="2.3"/>
<path d="M299,312 L298,316 L296.5,319" stroke="#541414" stroke-width="2.7"/>
<path d="M299,312 L298,316 L296.5,319" stroke="#d23232" stroke-width="2"/>
<path d="M246,420.5 L252,419.5 L257,418 L259.5,414" stroke="#5c3c18" stroke-width="3"/>
<path d="M246,420.5 L252,419.5 L257,418 L259.5,414" stroke="#e8963c" stroke-width="2.3"/>
<path d="M321,381 L323,386 L329,388.5" stroke="#511b51" stroke-width="3"/>
<path d="M321,381 L323,386 L329,388.5" stroke="#cc44cc" stroke-width="2.3"/>
<path d="M378,292.5 L383,293 L388.5,295" stroke="#5c5920" stroke-width="2.6"/>
<path d="M378,292.5 L383,293 L388.5,295" stroke="#e6e050" stroke-width="1.9"/>
<path d="M112,165.5 L119,164 L126,165 L131,165" stroke="#511b51" stroke-width="2.9"/>
<path d="M112,165.5 L119,164 L126,165 L131,165" stroke="#cc44cc" stroke-width="2.2"/>
<path d="M104,168.5 L110,166.5" stroke="#5c3c18" stroke-width="2.9"/>
<path d="M104,168.5 L110,166.5" stroke="#e8963c" stroke-width="2.2"/>
<path d="M151,105 L152.5,110 L155,115" stroke="#5c5030" stroke-width="2.4"/>
<path d="M151,105 L152.5,110 L155,115" stroke="#e6c878" stroke-width="1.7"/>
<path d="M320,128 L322,133 L325,137" stroke="#22555c" stroke-width="3"/>
<path d="M320,128 L322,133 L325,137" stroke="#55d6e6" stroke-width="2.3"/>
<path d="M277,128 L282,125.5" stroke="#22555c" stroke-width="2.9"/>
<path d="M277,128 L282,125.5" stroke="#55d6e6" stroke-width="2.2"/>
<path d="M239,125 L243,126" stroke="#1b581b" stroke-width="3.4"/>
<path d="M239,125 L243,126" stroke="#44dd44" stroke-width="2.7"/>
<path d="M243,213 L245,217 L248,219" stroke="#5c5920" stroke-width="2.7"/>
<path d="M243,213 L245,217 L248,219" stroke="#e6e050" stroke-width="2"/>
<path d="M282,228 L285,224 L287,220" stroke="#541414" stroke-width="2.7"/>
<path d="M282,228 L285,224 L287,220" stroke="#d23232" stroke-width="2"/>
<path d="M95,131 L99,136" stroke="#511b51" stroke-width="2.6"/>
<path d="M95,131 L99,136" stroke="#cc44cc" stroke-width="1.9"/>
<path d="M103,137 L107,141" stroke="#5c3c18" stroke-width="2.4"/>
<path d="M103,137 L107,141" stroke="#e8963c" stroke-width="1.7"/>
<path d="M59.5,227 L60.5,233" stroke="#1b3658" stroke-width="3"/>
<path d="M59.5,227 L60.5,233" stroke="#4488dd" stroke-width="2.3"/>
<path d="M93,94 L93.5,98" stroke="#0b0b3e" stroke-width="2.7"/>
<path d="M93,94 L93.5,98" stroke="#1c1c9c" stroke-width="2"/>
<path d="M386,237 L388,243 L390,246" stroke="#5c5030" stroke-width="2.4"/>
<path d="M386,237 L388,243 L390,246" stroke="#e6c878" stroke-width="1.7"/>
<path d="M165,433 L171,430 L178,426 L182,432" stroke="#5c3c18" stroke-width="2.6"/>
<path d="M165,433 L171,430 L178,426 L182,432" stroke="#e8963c" stroke-width="1.9"/>
<path d="M146,432 L150,433 L155,434" stroke="#22555c" stroke-width="2.7"/>
<path d="M146,432 L150,433 L155,434" stroke="#55d6e6" stroke-width="2"/>
<path d="M190,427 L196,425 L200,422" stroke="#0b0b3e" stroke-width="2.9"/>
<path d="M190,427 L196,425 L200,422" stroke="#1c1c9c" stroke-width="2.2"/>
<path d="M90,421 L93,425 L96,428" stroke="#541414" stroke-width="2.7"/>
<path d="M90,421 L93,425 L96,428" stroke="#d23232" stroke-width="2"/>
<path d="M211,459 L215,465 L221,468 L225,466" stroke="#511b51" stroke-width="3"/>
<path d="M211,459 L215,465 L221,468 L225,466" stroke="#cc44cc" stroke-width="2.3"/>
<path d="M245,459 L247,465 L249,470" stroke="#1b581b" stroke-width="2.7"/>
<path d="M245,459 L247,465 L249,470" stroke="#44dd44" stroke-width="2"/>
<path d="M227,486 L229,492 L228,498" stroke="#5c3c18" stroke-width="3.5"/>
<path d="M227,486 L229,492 L228,498" stroke="#e8963c" stroke-width="2.8"/>
<path d="M272,525 L275,530 L277,535" stroke="#5c5920" stroke-width="2.7"/>
<path d="M272,525 L275,530 L277,535" stroke="#e6e050" stroke-width="2"/>
<path d="M309,527 L312,532 L330,544 L332,549" stroke="#1b581b" stroke-width="2.7"/>
<path d="M309,527 L312,532 L330,544 L332,549" stroke="#44dd44" stroke-width="2"/>
<path d="M306,527 L311,526" stroke="#0b0b3e" stroke-width="3.4"/>
<path d="M306,527 L311,526" stroke="#1c1c9c" stroke-width="2.7"/>
<path d="M308,511 L311,513" stroke="#541414" stroke-width="3"/>
<path d="M308,511 L311,513" stroke="#d23232" stroke-width="2.3"/>
<path d="M258,586 L264,589 L270,591 L274,586" stroke="#1b3658" stroke-width="3"/>
<path d="M258,586 L264,589 L270,591 L274,586" stroke="#4488dd" stroke-width="2.3"/>
<path d="M223,604 L228,606 L234,608 L236,614" stroke="#5c5920" stroke-width="2.6"/>
<path d="M223,604 L228,606 L234,608 L236,614" stroke="#e6e050" stroke-width="1.9"/>
<path d="M92,619 L96,616 L98,621 L94,625" stroke="#1b3658" stroke-width="3.2"/>
<path d="M92,619 L96,616 L98,621 L94,625" stroke="#4488dd" stroke-width="2.5"/>
<path d="M86,680 L88,686 L91,682 M87,687 L86,692" stroke="#22555c" stroke-width="2.9"/>
<path d="M86,680 L88,686 L91,682 M87,687 L86,692" stroke="#55d6e6" stroke-width="2.2"/>
<path d="M158,727 L163,731 L170,733" stroke="#511b51" stroke-width="3"/>
<path d="M158,727 L163,731 L170,733" stroke="#cc44cc" stroke-width="2.3"/>
<path d="M155,733 L160,735" stroke="#5c3c18" stroke-width="3"/>
<path d="M155,733 L160,735" stroke="#e8963c" stroke-width="2.3"/>
<path d="M268,712 L273,715 L275,710 M272,716 L268,722" stroke="#1b581b" stroke-width="2.7"/>
<path d="M268,712 L273,715 L275,710 M272,716 L268,722" stroke="#44dd44" stroke-width="2"/>
<path d="M232,550 L235,555 L238,553" stroke="#5c5920" stroke-width="2.4"/>
<path d="M232,550 L235,555 L238,553" stroke="#e6e050" stroke-width="1.7"/>
<path d="M192,559 L198,557 L203,562" stroke="#22555c" stroke-width="2.6"/>
<path d="M192,559 L198,557 L203,562" stroke="#55d6e6" stroke-width="1.9"/>
<path d="M295,600 L299,596" stroke="#5c3c18" stroke-width="2.7"/>
<path d="M295,600 L299,596" stroke="#e8963c" stroke-width="2"/>
<path d="M183,672 L187,675" stroke="#0b0b3e" stroke-width="2.6"/>
<path d="M183,672 L187,675" stroke="#1c1c9c" stroke-width="1.9"/>
<path d="M296,609 L300,613 L306,616" stroke="#1b581b" stroke-width="2.6"/>
<path d="M296,609 L300,613 L306,616" stroke="#44dd44" stroke-width="1.9"/>
<path d="M153,619 l3,2 l-1,3" stroke="#22555c" stroke-width="3.4"/>
<path d="M153,619 l3,2 l-1,3" stroke="#55d6e6" stroke-width="2.7"/>
<path d="M214,608 l1,4" stroke="#5c5920" stroke-width="2.7"/>
<path d="M214,608 l1,4" stroke="#e6e050" stroke-width="2"/>
<path d="M198,615 l2,4" stroke="#541414" stroke-width="2.9"/>
<path d="M198,615 l2,4" stroke="#d23232" stroke-width="2.2"/>
<path d="M222,614 l2,3" stroke="#511b51" stroke-width="2.7"/>
<path d="M222,614 l2,3" stroke="#cc44cc" stroke-width="2"/>
<path d="M255,601 l3,2" stroke="#22555c" stroke-width="3"/>
<path d="M255,601 l3,2" stroke="#55d6e6" stroke-width="2.3"/>
<path d="M273,601 l4,1" stroke="#5c3c18" stroke-width="3"/>
<path d="M273,601 l4,1" stroke="#e8963c" stroke-width="2.3"/>
<path d="M202.5,639 l3,1 l2.5,3" stroke="#22555c" stroke-width="3"/>
<path d="M202.5,639 l3,1 l2.5,3" stroke="#55d6e6" stroke-width="2.3"/>
<path d="M249,656 l1,3" stroke="#0b0b3e" stroke-width="3.2"/>
<path d="M249,656 l1,3" stroke="#1c1c9c" stroke-width="2.5"/>
<path d="M272,666 l1,5" stroke="#1b3658" stroke-width="2.7"/>
<path d="M272,666 l1,5" stroke="#4488dd" stroke-width="2"/>
<path d="M264,677 l3,2" stroke="#5c3c18" stroke-width="3.2"/>
<path d="M264,677 l3,2" stroke="#e8963c" stroke-width="2.5"/>
<path d="M256,684 l3,1" stroke="#1b581b" stroke-width="3"/>
<path d="M256,684 l3,1" stroke="#44dd44" stroke-width="2.3"/>
<path d="M216,689 l5,-1" stroke="#5c3c18" stroke-width="2.6"/>
<path d="M216,689 l5,-1" stroke="#e8963c" stroke-width="1.9"/>
<path d="M235,710 l3,2 l1,-3" stroke="#5c5920" stroke-width="2.7"/>
<path d="M235,710 l3,2 l1,-3" stroke="#e6e050" stroke-width="2"/>
<path d="M202,730 l3,1" stroke="#511b51" stroke-width="2.6"/>
<path d="M202,730 l3,1" stroke="#cc44cc" stroke-width="1.9"/>
<path d="M184,759.5 l5,2.5" stroke="#0b0b3e" stroke-width="2.3"/>
<path d="M184,759.5 l5,2.5" stroke="#1c1c9c" stroke-width="1.6"/>
<path d="M256,749 l2,1" stroke="#22555c" stroke-width="2.6"/>
<path d="M256,749 l2,1" stroke="#55d6e6" stroke-width="1.9"/>
<path d="M331,136 l2,2" stroke="#5c5920" stroke-width="2.7"/>
<path d="M331,136 l2,2" stroke="#e6e050" stroke-width="2"/>
<path d="M367,126 l2,1" stroke="#0b0b3e" stroke-width="3"/>
<path d="M367,126 l2,1" stroke="#1c1c9c" stroke-width="2.3"/>
<path d="M306,103 l2,3" stroke="#5c5920" stroke-width="2.6"/>
<path d="M306,103 l2,3" stroke="#e6e050" stroke-width="1.9"/>
<path d="M181.5,113 l.5,4" stroke="#541414" stroke-width="2.7"/>
<path d="M181.5,113 l.5,4" stroke="#d23232" stroke-width="2"/>
<path d="M199.5,115 l1,3" stroke="#541414" stroke-width="2.7"/>
<path d="M199.5,115 l1,3" stroke="#d23232" stroke-width="2"/>
<path d="M141.5,106 l.5,3" stroke="#1b581b" stroke-width="2.7"/>
<path d="M141.5,106 l.5,3" stroke="#44dd44" stroke-width="2"/>
<path d="M41.7,178 l.01,0" stroke="#22555c" stroke-width="2.7"/>
<path d="M41.7,178 l.01,0" stroke="#55d6e6" stroke-width="2"/>
<path d="M72.5,185 l1,1" stroke="#0b0b3e" stroke-width="2.9"/>
<path d="M72.5,185 l1,1" stroke="#1c1c9c" stroke-width="2.2"/>
<path d="M180.5,163 l.5,3" stroke="#511b51" stroke-width="3"/>
<path d="M180.5,163 l.5,3" stroke="#cc44cc" stroke-width="2.3"/>
<path d="M266,174 l2,2" stroke="#511b51" stroke-width="3"/>
<path d="M266,174 l2,2" stroke="#cc44cc" stroke-width="2.3"/>
<path d="M216,181 l3,1" stroke="#0b0b3e" stroke-width="3"/>
<path d="M216,181 l3,1" stroke="#1c1c9c" stroke-width="2.3"/>
<path d="M238.5,193 l1,5" stroke="#22555c" stroke-width="2.9"/>
<path d="M238.5,193 l1,5" stroke="#55d6e6" stroke-width="2.2"/>
<path d="M281,211 l2,1" stroke="#0b0b3e" stroke-width="3"/>
<path d="M281,211 l2,1" stroke="#1c1c9c" stroke-width="2.3"/>
<path d="M331,200 l3,2" stroke="#541414" stroke-width="2.9"/>
<path d="M331,200 l3,2" stroke="#d23232" stroke-width="2.2"/>
<path d="M340,199 l3,-1" stroke="#5c5030" stroke-width="2.6"/>
<path d="M340,199 l3,-1" stroke="#e6c878" stroke-width="1.9"/>
<path d="M373,187 l4,1" stroke="#1b581b" stroke-width="2.9"/>
<path d="M373,187 l4,1" stroke="#44dd44" stroke-width="2.2"/>
<path d="M143,222 l3,-2" stroke="#22555c" stroke-width="2.9"/>
<path d="M143,222 l3,-2" stroke="#55d6e6" stroke-width="2.2"/>
<path d="M156,219 l6,1" stroke="#0b0b3e" stroke-width="2.9"/>
<path d="M156,219 l6,1" stroke="#1c1c9c" stroke-width="2.2"/>
<path d="M188,231 l1,4" stroke="#1b581b" stroke-width="2.9"/>
<path d="M188,231 l1,4" stroke="#44dd44" stroke-width="2.2"/>
<path d="M248,230 l1,4" stroke="#541414" stroke-width="2.9"/>
<path d="M248,230 l1,4" stroke="#d23232" stroke-width="2.2"/>
<path d="M72,289 l2,-3" stroke="#1b581b" stroke-width="2.9"/>
<path d="M72,289 l2,-3" stroke="#44dd44" stroke-width="2.2"/>
<path d="M130,361 l3,-1" stroke="#5c5920" stroke-width="2.7"/>
<path d="M130,361 l3,-1" stroke="#e6e050" stroke-width="2"/>
<path d="M57,343 l3,-3" stroke="#22555c" stroke-width="2.7"/>
<path d="M57,343 l3,-3" stroke="#55d6e6" stroke-width="2"/>
<path d="M177,271 l3,-2" stroke="#541414" stroke-width="2.6"/>
<path d="M177,271 l3,-2" stroke="#d23232" stroke-width="1.9"/>
<path d="M163,301 l4,2" stroke="#511b51" stroke-width="2.7"/>
<path d="M163,301 l4,2" stroke="#cc44cc" stroke-width="2"/>
<path d="M288,343 l5,1" stroke="#1b3658" stroke-width="2.7"/>
<path d="M288,343 l5,1" stroke="#4488dd" stroke-width="2"/>
<path d="M298,342 l2,-3" stroke="#22555c" stroke-width="2.7"/>
<path d="M298,342 l2,-3" stroke="#55d6e6" stroke-width="2"/>
<path d="M296,352 l3,2" stroke="#0b0b3e" stroke-width="2.7"/>
<path d="M296,352 l3,2" stroke="#1c1c9c" stroke-width="2"/>
<path d="M311,433 l4,2" stroke="#1b581b" stroke-width="2.7"/>
<path d="M311,433 l4,2" stroke="#44dd44" stroke-width="2"/>
<path d="M330,411 l4,-2 l2,3" stroke="#22555c" stroke-width="2.7"/>
<path d="M330,411 l4,-2 l2,3" stroke="#55d6e6" stroke-width="2"/>
<path d="M354,410 l.01,0" stroke="#541414" stroke-width="2.7"/>
<path d="M354,410 l.01,0" stroke="#d23232" stroke-width="2"/>
<path d="M274,404 l3,1" stroke="#541414" stroke-width="2.6"/>
<path d="M274,404 l3,1" stroke="#d23232" stroke-width="1.9"/>
<path d="M150,455 l4,2" stroke="#22555c" stroke-width="2.7"/>
<path d="M150,455 l4,2" stroke="#55d6e6" stroke-width="2"/>
<path d="M142,481 l3,4" stroke="#5c3c18" stroke-width="2.9"/>
<path d="M142,481 l3,4" stroke="#e8963c" stroke-width="2.2"/>
<path d="M160,460 l2,4" stroke="#541414" stroke-width="2.9"/>
<path d="M160,460 l2,4" stroke="#d23232" stroke-width="2.2"/>
<path d="M146,498 l3,-3" stroke="#0b0b3e" stroke-width="2.9"/>
<path d="M146,498 l3,-3" stroke="#1c1c9c" stroke-width="2.2"/>
<path d="M133,533 l2,5" stroke="#0b0b3e" stroke-width="3"/>
<path d="M133,533 l2,5" stroke="#1c1c9c" stroke-width="2.3"/>
<path d="M78,563 l1,4" stroke="#541414" stroke-width="2.9"/>
<path d="M78,563 l1,4" stroke="#d23232" stroke-width="2.2"/>
<path d="M79,580 l2,4" stroke="#511b51" stroke-width="2.7"/>
<path d="M79,580 l2,4" stroke="#cc44cc" stroke-width="2"/>
<path d="M76,590 l3,1" stroke="#22555c" stroke-width="2.7"/>
<path d="M76,590 l3,1" stroke="#55d6e6" stroke-width="2"/>
<path d="M197,512 l5,1 l4,-2" stroke="#22555c" stroke-width="2.7"/>
<path d="M197,512 l5,1 l4,-2" stroke="#55d6e6" stroke-width="2"/>
<path d="M190,506 l3,2" stroke="#5c3c18" stroke-width="2.7"/>
<path d="M190,506 l3,2" stroke="#e8963c" stroke-width="2"/>
<path d="M229,467 l.01,0" stroke="#541414" stroke-width="3"/>
<path d="M229,467 l.01,0" stroke="#d23232" stroke-width="2.3"/>
<path d="M219,478 l4,1" stroke="#22555c" stroke-width="2.6"/>
<path d="M219,478 l4,1" stroke="#55d6e6" stroke-width="1.9"/>
<path d="M321,458 l2,3" stroke="#5c5920" stroke-width="2.6"/>
<path d="M321,458 l2,3" stroke="#e6e050" stroke-width="1.9"/>
<path d="M340,500 l2,4" stroke="#22555c" stroke-width="2.6"/>
<path d="M340,500 l2,4" stroke="#55d6e6" stroke-width="1.9"/>
<path d="M316,488 l1,3" stroke="#541414" stroke-width="2.7"/>
<path d="M316,488 l1,3" stroke="#d23232" stroke-width="2"/>
<path d="M275,565 l3,-3" stroke="#511b51" stroke-width="2.7"/>
<path d="M275,565 l3,-3" stroke="#cc44cc" stroke-width="2"/>
<path d="M245,579 l5,2" stroke="#22555c" stroke-width="2.7"/>
<path d="M245,579 l5,2" stroke="#55d6e6" stroke-width="2"/>
<path d="M250,587 l2,1" stroke="#541414" stroke-width="2.7"/>
<path d="M250,587 l2,1" stroke="#d23232" stroke-width="2"/>
<path d="M272,597 l2,-4" stroke="#5c3c18" stroke-width="2.9"/>
<path d="M272,597 l2,-4" stroke="#e8963c" stroke-width="2.2"/>
<path d="M284,573 l2,3" stroke="#1b581b" stroke-width="2.7"/>
<path d="M284,573 l2,3" stroke="#44dd44" stroke-width="2"/>
<path d="M476.7,410.7l0.01,0M512,622.2l0.01,0M506.2,334.9l0.01,0M559.7,491.6l0.01,0M644.1,282.6l0.01,0M679.5,118.4l0.01,0M626,340.1l0.01,0M472.4,489.8l0.01,0M541.2,451.5l0.01,0M690.4,234.8l0.01,0M657.6,352.6l0.01,0M553,280.1l0.01,0M610.4,128.1l0.01,0M648.8,216l0.01,0M631,742.8l0.01,0M559.3,584.9l0.01,0M520.9,469l0.01,0M603.2,338.1l0.01,0M578.6,505.2l0.01,0M541.4,556.3l0.01,0" stroke="#20209a" stroke-width="1"/>
<path d="M603,292.2l0.01,0M597.8,259.7l0.01,0M637.8,678.6l0.46,0.32M624.2,117.6l0.01,0M505.8,445.2l0.01,0M562.5,217.3l0.01,0M669.3,485.7l0.01,0M547.6,401.3l0.01,0M581,671.9l0.01,0M734.8,379.6l0.01,0M674.9,696.2l0.01,0M548.8,494.3l0.01,0M499,560.2l0.01,0M522,557.2l0.01,0M660.1,210.1l0.01,0M542.3,527.4l0.01,0M568.1,699.6l0.01,0M506.1,609.4l0.01,0M554.7,303.9l0.01,0M737.8,225l0.01,0M640.1,452.9l0.01,0M638.2,326.6l0.01,0M495,459.8l0.01,0M618.3,404.3l0.01,0M526.9,363.1l0.01,0M683.5,629.1l0.01,0M494.2,272.2l0.01,0M479.4,191.5l0.01,0M580.7,670.7l0.01,0" stroke="#dcc07a" stroke-width="1"/>
<path d="M485.6,406.1l0.01,0M679.5,458.2l0.01,0M623.9,290.1l0.11,0.22M698.8,409.7l0.01,0M704.7,511.9l0.01,0M489.6,537l0.01,0M682.9,544.1l0.01,0M559.4,462.9l0.01,0M606.4,405.1l0.01,0M612.9,725.3l0.01,0M621.9,648l0.01,0M586,269.5l0.01,0M679.6,508.3l0.01,0M627.7,305.8l0.01,0M691.5,362.2l0.01,0M626.1,636.4l0.01,0M644,247.8l0.01,0M464.8,324.8l0.01,0" stroke="#e09040" stroke-width="1"/>
<path d="M499.6,390.4l0.01,0M652.5,716.3l0.01,0M662.9,256l0.01,0M704.6,236.9l0.01,0M645.3,611.6l0.01,0M661.6,187.8l0.01,0M661.7,481.6l0.01,0M525.3,687.3l0.01,0M663.2,601l0.01,0M560.1,275.5l0.54,0.31M692.9,710.2l0.01,0M666.5,429.2l0.01,0M609.8,422l0.01,0M720.1,532.6l0.01,0M692.3,457.4l0.01,0M595.3,627.5l0.01,0M488.2,345.9l0.01,0M562.9,311.1l0.01,0" stroke="#c44cc4" stroke-width="1"/>
<path d="M499,535.6l0.01,0M583.3,452l0.01,0M603.5,554.6l0.01,0M539.6,505.3l0.01,0M585.6,566l0.01,0M558.2,618.8l0.01,0M518.4,452.9l0.01,0M640.5,533.8l0.01,0M495.7,559.8l0.01,0M500,158.3l0.01,0M585.5,342.7l0.01,0M598,419l0.01,0M646.8,487.3l0.01,0M601.5,524.3l0.01,0M503.6,369l0.01,0M571.3,534.6l0.01,0M554.1,375l0.01,0M538.2,365.5l0.01,0M575.5,676.8l0.01,0M587.7,610.6l0.01,0M670.8,469.4l0.01,0M652.7,543l0.01,0M680.8,379.5l0.01,0" stroke="#d87090" stroke-width="1"/>
<path d="M640.3,335.8l0.01,0M605.8,537.3l0.01,0M523.8,295l0.01,0M644.1,757.6l0.01,0M633.5,320l0.01,0M657.4,589.1l0.01,0M522,645.4l0.01,0M544.7,328l0.01,0M663.7,613.5l0.01,0M710.7,365.4l0.01,0M560.3,715l0.01,0M609.1,605.8l0.01,0M572.9,551.5l0.01,0M702.3,521.8l0.01,0M685.9,175.2l0.01,0M527.9,382.5l0.01,0M694.3,453l0.01,0M671.8,368.3l0.01,0M462.8,507.6l0.01,0M692.9,228.6l0.01,0M608.4,621.5l0.01,0M459.6,304.5l0.01,0M628,384.7l0.01,0" stroke="#dcd858" stroke-width="1"/>
<path d="M558.3,541.1l0.01,0M685.5,309.5l0.01,0M680.8,603.4l0.01,0M721.9,555.1l0.01,0M490.8,650.3l0.01,0M606.8,201.6l0.01,0M574.1,575l0.01,0M668.4,475.6l0.01,0M528.9,515.8l0.01,0M567.5,470.8l0.01,0M722.8,477.6l0.01,0M635.3,610.2l0.01,0M469.5,376.8l0.01,0M486.2,551.1l0.01,0M553.2,133.2l0.01,0M589.6,229.7l0.01,0M633.6,194.2l0.01,0M661.9,235.8l0.01,0M544.3,654.2l0.01,0" stroke="#58b094" stroke-width="1"/>
<path d="M594.6,185.8l0.01,0M700.1,414.7l0.01,0M581.3,210.8l0.01,0M616,468.6l0.01,0M529.6,427.8l0.01,0M528.7,391l0.01,0M591.5,590.6l0.01,0M563.4,453.7l0.01,0M597.3,560.1l0.01,0M523.2,420.5l0.01,0M567.3,227.2l0.01,0M522.4,429.4l0.01,0M599.5,627.7l0.01,0M578,342.9l0.01,0M682.2,619.1l0.01,0M548.2,505.2l0.01,0M650.1,375.5l0.01,0M634.5,398.7l0.01,0M651.4,350.1l0.01,0" stroke="#c8a0d8" stroke-width="1"/>
<path d="M632.9,632.5l0.01,0M631.4,492.4l0.01,0M503.1,648.5l0.01,0M701.2,207.5l0.01,0M643.9,154l0.01,0M564.3,592.9l0.01,0M637.8,265.9l0.01,0M633.7,242.7l0.01,0M664.5,599.5l0.01,0M599.2,645.1l0.01,0M602,446.2l0.01,0M468.2,247.4l0.01,0M670,548.2l0.01,0M578.9,421.2l0.01,0M618.9,260.9l-0.06,0.9M594.7,322l0.01,1.09M590.6,435.9l0.01,0M460.5,481.5l0.01,0" stroke="#70b8b8" stroke-width="1"/>
<path d="M614.3,290.4l0.01,0M737.1,464.3l0.01,0M676.1,379.8l0.01,0M558.3,447.3l0.01,0M585.8,426.7l0.01,0M673.3,341.1l0.01,0M629.1,544.7l0.01,0M670.9,463.8l0.01,0M707.4,400l0.01,0M542.9,488.4l0.01,0M672.7,249.2l0.01,0M675.6,334.5l0.01,0M703.8,380.1l-0.1,0.18M657.2,460.7l0.01,0M630.7,480.9l0.01,0M536.7,448.5l0.01,0M547.3,614.8l0.01,0M681.6,437.2l0.01,0M651.3,188.3l0.01,0" stroke="#48d048" stroke-width="1"/>
<path d="M550.6,293.8l0.01,0M534.8,564.1l0.01,0M543.6,474.9l0.01,0M602.6,675.2l0.01,0M615.2,567.4l0.01,0M713.2,419.7l0.32,0.08M567.6,669.4l0.01,0M597.1,465l0.01,0M557.8,503.2l0.01,0M481.2,470.6l0.01,0M648,323.6l0.01,0M610.3,196.8l0.01,0M522.2,141.1l0.01,0M715.8,602.2l0.01,0M705.6,442.3l0.01,0M661.7,530.3l0.01,0M604.5,149.6l0.01,0M563.2,630.3l0.01,0M648.9,146.6l0.01,0M659.6,526.5l0.01,0" stroke="#b0b0e0" stroke-width="1"/>
<path d="M533.5,733.2l0.01,0M624.4,292.7l0.01,0M657.9,551.6l0.01,0M488.1,193.2l0.01,0M608.7,140.8l0.01,0M670.1,253.5l0.01,0M543.5,177.8l0.01,0M650.1,599.6l0.01,0M595.3,495.8l0.01,0M657.8,352.6l0.01,0M563.6,268.2l0.2,0.65M613.8,626.6l0.01,0M576.8,452.9l-0.23,0.85M499.2,657l0.01,0M526.5,544.7l0.01,0M673.2,306.5l0.01,0M557.7,565.3l0.01,0M553.5,593.7l0.01,0M506.6,467.1l0.01,0M587.3,306.9l0.01,0M651.6,134.1l0.01,0" stroke="#cc3434" stroke-width="1"/>
<path d="M564.6,686.8l0.01,0M613.2,596.1l0.01,0M593.5,443l0.01,0M485.8,296.4l0.01,0M570.4,253.2l0.01,0M698.3,221.2l0.01,0M486.9,438.7l0.01,0M565.5,573.2l0.01,0M565,538.8l0.01,0M564.9,453.6l0.01,0M714.4,235.6l0.01,0M647.4,170.1l0.01,0M606.6,214.6l0.01,0M531.6,593.6l0.01,0M534.3,363.1l0.01,0M639.2,300.2l0.01,0M635.8,218.3l0.01,0M683.3,396.4l0.01,0M574.3,263l0.01,0M598.4,700.3l0.01,0M576.7,162.5l0.01,0M728.7,448.2l0.01,0" stroke="#5cc8dc" stroke-width="1"/>
<path d="M668.4,503.1l0.01,0M680,134.3l0.01,0M611.9,608.8l0.01,0M671.1,211.4l0.01,0M620.3,557.4l0.01,0M514.1,501.8l0.01,0M667.1,562.5l0.01,0M611.8,726.8l0.01,0M655.8,689.7l0.01,0M581.2,580.1l0.01,0M592.4,166.2l0.01,0M485.2,127.5l0.01,0" stroke="#4a84d0" stroke-width="1"/>
<path d="M629.3,240.1l0.01,0M610,687.6l0.01,0M525.5,447l0.01,0M641.3,531.8l0.01,0M698.7,236.1l0.01,0M657.2,692.6l0.01,0M467.6,373.5l0.01,0M614.5,625.1l0.01,0M621.6,572.2l0.01,0M617.5,324.3l0.01,0M545,383.6l0.01,0M648.8,671.7l0.01,0M622.1,606.1l0.35,0.6M661.9,726.1l-1.26,0.8M464.8,508.8l0.01,0M641.6,501.9l0.01,0M635.7,387.1l0.01,0M484,638.3l0.01,0M594.2,667.1l0.01,0M573.3,502.2l0.01,0" stroke="#1e4248" stroke-width="2.1"/>
<path d="M629.3,240.1l0.01,0M610,687.6l0.01,0M525.5,447l0.01,0M641.3,531.8l0.01,0M698.7,236.1l0.01,0M657.2,692.6l0.01,0M467.6,373.5l0.01,0M614.5,625.1l0.01,0M621.6,572.2l0.01,0M617.5,324.3l0.01,0M545,383.6l0.01,0M648.8,671.7l0.01,0M622.1,606.1l0.35,0.6M661.9,726.1l-1.26,0.8M464.8,508.8l0.01,0M641.6,501.9l0.01,0M635.7,387.1l0.01,0M484,638.3l0.01,0M594.2,667.1l0.01,0M573.3,502.2l0.01,0" stroke="#5cc8dc" stroke-width="1.3"/>
<path d="M596.7,638.8l0.01,0M677,667.5l0.01,0M607.3,453.6l-1,0.94M636.5,695.7l0.01,0M571.3,598.2l0.01,0M620,645l0.01,0M581.9,465.3l0.01,0M599,145.4l-1.39,2.54M523.3,294.8l0.01,0M607.3,524.9l0.01,0M676.7,267.8l0.01,0M661.3,304.9l0.01,0M622.4,191.8l0.01,0M514.1,279.2l0.23,0.14M551.7,660.7l0.01,0M679.2,364.1l-1.38,0.38M650.6,398.4l0.01,0M599.9,221.1l1.2,0M635.6,543l0.01,0M701.3,613.4l0.01,0M557.8,204.5l0.01,0" stroke="#47242f" stroke-width="2.1"/>
<path d="M596.7,638.8l0.01,0M677,667.5l0.01,0M607.3,453.6l-1,0.94M636.5,695.7l0.01,0M571.3,598.2l0.01,0M620,645l0.01,0M581.9,465.3l0.01,0M599,145.4l-1.39,2.54M523.3,294.8l0.01,0M607.3,524.9l0.01,0M676.7,267.8l0.01,0M661.3,304.9l0.01,0M622.4,191.8l0.01,0M514.1,279.2l0.23,0.14M551.7,660.7l0.01,0M679.2,364.1l-1.38,0.38M650.6,398.4l0.01,0M599.9,221.1l1.2,0M635.6,543l0.01,0M701.3,613.4l0.01,0M557.8,204.5l0.01,0" stroke="#d87090" stroke-width="1.3"/>
<path d="M723.6,360l0.01,0M473.8,320.4l0.01,0M730.2,429l-0.59,0.37M705.2,420.8l0.01,0M538.2,409.1l0.01,0M559.6,595.5l0.01,0M506,573.9l0.01,0M657.9,511.8l0.01,0M516,331.6l0.01,0M524.2,672.9l0.01,0M735.2,187.3l0.01,0M606.8,670.5l0.01,0M588.7,325.7l0.01,0M571.9,369.8l0.01,0M646.2,188.3l0.01,0M517.4,571.3l0.01,0M584.2,456.1l0.01,0M605.4,707.7l0.47,1.07M637.8,557.6l-1.34,0.63M530.5,419.5l0.01,0M588.4,234.3l0.01,0M691.9,466.4l0.01,0M635.4,628.3l0.01,0M551.7,216.8l0.01,0" stroke="#483f28" stroke-width="2.1"/>
<path d="M723.6,360l0.01,0M473.8,320.4l0.01,0M730.2,429l-0.59,0.37M705.2,420.8l0.01,0M538.2,409.1l0.01,0M559.6,595.5l0.01,0M506,573.9l0.01,0M657.9,511.8l0.01,0M516,331.6l0.01,0M524.2,672.9l0.01,0M735.2,187.3l0.01,0M606.8,670.5l0.01,0M588.7,325.7l0.01,0M571.9,369.8l0.01,0M646.2,188.3l0.01,0M517.4,571.3l0.01,0M584.2,456.1l0.01,0M605.4,707.7l0.47,1.07M637.8,557.6l-1.34,0.63M530.5,419.5l0.01,0M588.4,234.3l0.01,0M691.9,466.4l0.01,0M635.4,628.3l0.01,0M551.7,216.8l0.01,0" stroke="#dcc07a" stroke-width="1.3"/>
<path d="M603.1,319.8l0.01,0M600.7,608.8l-0.52,0.62M533.2,373.2l-1.07,0.83M535.2,369.4l0.01,0M690.4,595.5l0.01,0M562.4,646l0.01,0M664.7,330.8l0.01,0M554.4,636.9l0.01,0M604.5,642.3l0.01,0M629,295.5l0.01,0M465.8,505.5l0.01,0M626.1,597.4l0.01,0M532.4,257.1l0.01,0M603.9,373.9l0.01,0M634.3,754.1l0.01,0M696.4,270.5l0.01,0" stroke="#1d3a30" stroke-width="2.1"/>
<path d="M603.1,319.8l0.01,0M600.7,608.8l-0.52,0.62M533.2,373.2l-1.07,0.83M535.2,369.4l0.01,0M690.4,595.5l0.01,0M562.4,646l0.01,0M664.7,330.8l0.01,0M554.4,636.9l0.01,0M604.5,642.3l0.01,0M629,295.5l0.01,0M465.8,505.5l0.01,0M626.1,597.4l0.01,0M532.4,257.1l0.01,0M603.9,373.9l0.01,0M634.3,754.1l0.01,0M696.4,270.5l0.01,0" stroke="#58b094" stroke-width="1.3"/>
<path d="M658.2,542.3l0.01,0M539.1,487.1l0.01,0M636.2,219.2l0.61,0.59M554.8,622.1l0.01,0M584.8,736.2l0.01,0M515.2,173.2l0.01,0M595.6,682l-0.59,0.65M561.9,608.7l0.01,0M589.1,664.5l0.01,0M536.3,593.8l0.01,0M685,581.2l0.01,0M637.9,425.7l0.01,0M483.6,229.3l0.01,0M607,497.1l0.01,0M616,250.4l0.07,2.05M725.9,258.1l0.01,0M536.7,337.3l0.01,0M534.4,601.1l0.01,0M692.9,419.5l0.01,0M513.8,286.6l0.01,0M636.2,489.3l0.01,0M617.2,397.2l0.01,0M575.9,234.4l0.01,0" stroke="#0a0a32" stroke-width="2.1"/>
<path d="M658.2,542.3l0.01,0M539.1,487.1l0.01,0M636.2,219.2l0.61,0.59M554.8,622.1l0.01,0M584.8,736.2l0.01,0M515.2,173.2l0.01,0M595.6,682l-0.59,0.65M561.9,608.7l0.01,0M589.1,664.5l0.01,0M536.3,593.8l0.01,0M685,581.2l0.01,0M637.9,425.7l0.01,0M483.6,229.3l0.01,0M607,497.1l0.01,0M616,250.4l0.07,2.05M725.9,258.1l0.01,0M536.7,337.3l0.01,0M534.4,601.1l0.01,0M692.9,419.5l0.01,0M513.8,286.6l0.01,0M636.2,489.3l0.01,0M617.2,397.2l0.01,0M575.9,234.4l0.01,0" stroke="#20209a" stroke-width="1.3"/>
<path d="M538.2,588.8l0.01,0M527.8,478.6l-0.35,1.22M697.2,702.6l0.01,0M709.2,225.6l0.82,0.78M648.3,525.2l0.01,0M592.9,586.8l0.01,0M628.3,514.4l0.01,0M649.6,347.5l0.01,0M475.2,259.9l0.01,0M675.7,415.4l0.01,0M691.9,386.1l0.87,1.81M668.3,559.3l0.01,0M638.6,580.7l0.01,0M690.1,235.2l0.01,0M604.2,600.9l0.01,0M612.8,372.8l0.01,0M657.6,403.2l0.01,0M508,291.6l0.01,0M661,570.5l0.01,0" stroke="#174417" stroke-width="2.1"/>
<path d="M538.2,588.8l0.01,0M527.8,478.6l-0.35,1.22M697.2,702.6l0.01,0M709.2,225.6l0.82,0.78M648.3,525.2l0.01,0M592.9,586.8l0.01,0M628.3,514.4l0.01,0M649.6,347.5l0.01,0M475.2,259.9l0.01,0M675.7,415.4l0.01,0M691.9,386.1l0.87,1.81M668.3,559.3l0.01,0M638.6,580.7l0.01,0M690.1,235.2l0.01,0M604.2,600.9l0.01,0M612.8,372.8l0.01,0M657.6,403.2l0.01,0M508,291.6l0.01,0M661,570.5l0.01,0" stroke="#48d048" stroke-width="1.3"/>
<path d="M552.2,211.2l0.01,0M676,561.3l-0.88,0.57M631.9,715l0.01,0M571.1,624.4l-1.15,0.94M560.2,453.6l0.01,0M593.9,731.8l-0.65,0.47M617.8,659.6l0.01,0M676.9,236.7l0.01,0M690.6,516.2l0.01,0M632.5,649.7l0.01,0M611.6,744.8l0.01,0M658.6,306.2l0.13,0.48M699,222.2l0.01,0M523.8,293.6l0.01,0M724.7,352.9l0.01,0M462.6,554.8l0.01,0M482.8,555l1.15,0.39M565.2,650.1l0.01,0M473.7,457l-0.66,1.35M665.4,312.7l0.01,0M580.4,185.4l0.01,0M693.7,595.8l0.01,0M651.2,367l0.01,0M673.1,587.1l0.01,0" stroke="#243c3c" stroke-width="2.1"/>
<path d="M552.2,211.2l0.01,0M676,561.3l-0.88,0.57M631.9,715l0.01,0M571.1,624.4l-1.15,0.94M560.2,453.6l0.01,0M593.9,731.8l-0.65,0.47M617.8,659.6l0.01,0M676.9,236.7l0.01,0M690.6,516.2l0.01,0M632.5,649.7l0.01,0M611.6,744.8l0.01,0M658.6,306.2l0.13,0.48M699,222.2l0.01,0M523.8,293.6l0.01,0M724.7,352.9l0.01,0M462.6,554.8l0.01,0M482.8,555l1.15,0.39M565.2,650.1l0.01,0M473.7,457l-0.66,1.35M665.4,312.7l0.01,0M580.4,185.4l0.01,0M693.7,595.8l0.01,0M651.2,367l0.01,0M673.1,587.1l0.01,0" stroke="#70b8b8" stroke-width="1.3"/>
<path d="M721.8,593.9l0.01,0M606.4,315.9l0.01,0M632.4,505.2l-0.65,2.93M459.5,488l0.01,0M518.9,542.8l0.01,0M560.3,717l0.01,0M543.2,474.7l0.01,0M526.7,504.5l0.01,0M636.6,543.1l0.01,0M560.8,277.5l0.01,0M598.4,414.8l0.01,0M618.7,364.7l0.01,0M607.2,280.3l0.01,0M586.4,125.8l0.01,0M689,364.1l0.36,0.84M502.8,192.7l0.01,0M626.6,355.8l0.01,0M503.9,696.2l0.01,0M633.8,587.1l-0.14,0.78M530,489.6l0.01,0M490.7,308.2l0.01,0M526.1,306.1l0.01,0" stroke="#401940" stroke-width="2.1"/>
<path d="M721.8,593.9l0.01,0M606.4,315.9l0.01,0M632.4,505.2l-0.65,2.93M459.5,488l0.01,0M518.9,542.8l0.01,0M560.3,717l0.01,0M543.2,474.7l0.01,0M526.7,504.5l0.01,0M636.6,543.1l0.01,0M560.8,277.5l0.01,0M598.4,414.8l0.01,0M618.7,364.7l0.01,0M607.2,280.3l0.01,0M586.4,125.8l0.01,0M689,364.1l0.36,0.84M502.8,192.7l0.01,0M626.6,355.8l0.01,0M503.9,696.2l0.01,0M633.8,587.1l-0.14,0.78M530,489.6l0.01,0M490.7,308.2l0.01,0M526.1,306.1l0.01,0" stroke="#c44cc4" stroke-width="1.3"/>
<path d="M606.4,453.3l0.01,0M555,389.3l-0.66,1.36M674.4,528.9l0.01,0M657.9,286.5l0.01,0M551.4,557.2l0.01,0M609.9,621.6l0.01,0M660.3,436l0.01,0M604.6,354.3l0.01,0M728.6,545.9l0.01,0M662.6,463.3l0.01,0M595.2,210.7l0.01,0M728.5,294.5l0.01,0M581.1,610.2l0.01,0M662.8,542.3l-0.42,0.17M668.2,350.1l0.01,0M637.1,551.9l0.01,0M684,341.3l0.01,0M710.9,511.9l0.01,0M564.7,432.3l0.01,0M594.3,468.1l0.01,0M608.1,282l0.01,0M597,702.1l0.01,0" stroke="#492f15" stroke-width="2.1"/>
<path d="M606.4,453.3l0.01,0M555,389.3l-0.66,1.36M674.4,528.9l0.01,0M657.9,286.5l0.01,0M551.4,557.2l0.01,0M609.9,621.6l0.01,0M660.3,436l0.01,0M604.6,354.3l0.01,0M728.6,545.9l0.01,0M662.6,463.3l0.01,0M595.2,210.7l0.01,0M728.5,294.5l0.01,0M581.1,610.2l0.01,0M662.8,542.3l-0.42,0.17M668.2,350.1l0.01,0M637.1,551.9l0.01,0M684,341.3l0.01,0M710.9,511.9l0.01,0M564.7,432.3l0.01,0M594.3,468.1l0.01,0M608.1,282l0.01,0M597,702.1l0.01,0" stroke="#e09040" stroke-width="1.3"/>
<path d="M653.1,449.5l0.01,0M532.1,593.5l0.01,0M677.2,320.6l0.01,0M686.3,567.9l0.01,0M471.1,597l0.01,0M521,377.3l0.01,0M589.2,365.1l0.01,0M516.5,139.1l0.01,0M569.7,531.6l0.01,0M606.6,652.5l0.01,0M580.2,205.2l0.01,0M554.6,385.2l-0.34,0.23M701.1,400.4l0.01,0M723.3,565.5l0.01,0M646.8,529.8l0.01,0M464.2,497.1l0.01,0M727.1,457.8l0.01,0M556.6,473.5l0.01,0M472.2,227.6l0.01,0M543,666.8l0.01,0M554.6,557.3l0.01,0M562.8,474.3l0.01,0M617.9,668.4l0.01,0M541.4,376.7l0.01,0M612.8,725.9l0.01,0M532,340.7l0.01,0" stroke="#182b44" stroke-width="2.1"/>
<path d="M653.1,449.5l0.01,0M532.1,593.5l0.01,0M677.2,320.6l0.01,0M686.3,567.9l0.01,0M471.1,597l0.01,0M521,377.3l0.01,0M589.2,365.1l0.01,0M516.5,139.1l0.01,0M569.7,531.6l0.01,0M606.6,652.5l0.01,0M580.2,205.2l0.01,0M554.6,385.2l-0.34,0.23M701.1,400.4l0.01,0M723.3,565.5l0.01,0M646.8,529.8l0.01,0M464.2,497.1l0.01,0M727.1,457.8l0.01,0M556.6,473.5l0.01,0M472.2,227.6l0.01,0M543,666.8l0.01,0M554.6,557.3l0.01,0M562.8,474.3l0.01,0M617.9,668.4l0.01,0M541.4,376.7l0.01,0M612.8,725.9l0.01,0M532,340.7l0.01,0" stroke="#4a84d0" stroke-width="1.3"/>
<path d="M604.6,228.7l0.01,0M687.5,500l0.01,0M469.1,397.5l0.01,0M497.8,334.8l0.01,0M675.4,274.8l0.01,0M698,394.1l0.01,0M546.1,303.6l1.25,0.27M688,288.9l0.01,0M665.4,348.4l0.01,0M541.3,226.2l0.01,0M667.5,122.4l0.01,0M588.1,464.6l0.73,0.57M596.5,319.6l0.01,0M580.5,488.2l0.01,0M629.1,447.3l0.01,0M660.2,528.1l0.01,0" stroke="#48471d" stroke-width="2.1"/>
<path d="M604.6,228.7l0.01,0M687.5,500l0.01,0M469.1,397.5l0.01,0M497.8,334.8l0.01,0M675.4,274.8l0.01,0M698,394.1l0.01,0M546.1,303.6l1.25,0.27M688,288.9l0.01,0M665.4,348.4l0.01,0M541.3,226.2l0.01,0M667.5,122.4l0.01,0M588.1,464.6l0.73,0.57M596.5,319.6l0.01,0M580.5,488.2l0.01,0M629.1,447.3l0.01,0M660.2,528.1l0.01,0" stroke="#dcd858" stroke-width="1.3"/>
<path d="M654.9,291.5l0.01,0M624.1,346.7l0.01,0M671.1,250.1l0.01,0M647.4,211.9l0.01,0M665.4,315.1l0.01,0M578.6,584.3l0.01,0M589,639.6l0.01,0M604.5,285.4l0.01,0M599.5,501.7l1.07,0.86M677.4,481.3l0.01,0M559.8,250.8l0.11,0.48M665,557l0.01,0M544.2,324.1l0.01,0M498.9,612.9l0.01,0M626.6,293.1l0.01,0M543.1,242.9l0.34,0.06M631.4,246.3l0.01,0M522.7,168.1l0.76,0.07M511.2,179.7l0.01,0M454,338l1.13,0.33M528.6,473.6l0.01,0M586.3,327.5l0.01,0M650.5,409.9l0.01,0M601.4,672.5l0.01,0" stroke="#431111" stroke-width="2.1"/>
<path d="M654.9,291.5l0.01,0M624.1,346.7l0.01,0M671.1,250.1l0.01,0M647.4,211.9l0.01,0M665.4,315.1l0.01,0M578.6,584.3l0.01,0M589,639.6l0.01,0M604.5,285.4l0.01,0M599.5,501.7l1.07,0.86M677.4,481.3l0.01,0M559.8,250.8l0.11,0.48M665,557l0.01,0M544.2,324.1l0.01,0M498.9,612.9l0.01,0M626.6,293.1l0.01,0M543.1,242.9l0.34,0.06M631.4,246.3l0.01,0M522.7,168.1l0.76,0.07M511.2,179.7l0.01,0M454,338l1.13,0.33M528.6,473.6l0.01,0M586.3,327.5l0.01,0M650.5,409.9l0.01,0M601.4,672.5l0.01,0" stroke="#cc3434" stroke-width="1.3"/>
<path d="M655.6,553.3l0.01,0M467.7,185.8l0.01,0M502.5,329.7l0.61,1.39M495.7,605.6l0.01,0M661.8,665.1l0.01,0M542.4,339.4l0.01,0M609.1,306.1l0.01,0M538,676.1l0.01,0M449.9,185.7l0.01,0M624.1,585.2l0.01,0M484.3,338.9l0.01,0M554.9,130.8l-1.21,1.09M549.9,299l0.01,0M634.3,595.6l0.01,0M705.5,245.4l0.01,0" stroke="#174417" stroke-width="2.5"/>
<path d="M655.6,553.3l0.01,0M467.7,185.8l0.01,0M502.5,329.7l0.61,1.39M495.7,605.6l0.01,0M661.8,665.1l0.01,0M542.4,339.4l0.01,0M609.1,306.1l0.01,0M538,676.1l0.01,0M449.9,185.7l0.01,0M624.1,585.2l0.01,0M484.3,338.9l0.01,0M554.9,130.8l-1.21,1.09M549.9,299l0.01,0M634.3,595.6l0.01,0M705.5,245.4l0.01,0" stroke="#48d048" stroke-width="1.7"/>
<path d="M551,416.4l0.01,0M627.9,480l0.01,0M504.8,549.1l0.01,0M698.8,244.6l0.01,0M570,494.5l0.01,0M498.6,276.7l0.01,0M638.4,539.9l0.01,0M600.8,477.1l0.01,0M591.6,625.6l0.01,0M570.5,676.9l0.01,0M554.3,638.2l0.01,0M671,222.5l0.01,0M674.2,209.6l0.01,0" stroke="#182b44" stroke-width="2.5"/>
<path d="M551,416.4l0.01,0M627.9,480l0.01,0M504.8,549.1l0.01,0M698.8,244.6l0.01,0M570,494.5l0.01,0M498.6,276.7l0.01,0M638.4,539.9l0.01,0M600.8,477.1l0.01,0M591.6,625.6l0.01,0M570.5,676.9l0.01,0M554.3,638.2l0.01,0M671,222.5l0.01,0M674.2,209.6l0.01,0" stroke="#4a84d0" stroke-width="1.7"/>
<path d="M552.7,506.3l0.01,0M531.2,634.4l0.03,1.17M484.3,204.3l0.01,0M707.9,496.9l0.01,0M474.9,190.1l0.01,0M715.5,175l-0.85,1.39M704.1,405.1l0.01,0M480.4,615.1l0.01,0M558.8,277.6l0.01,0M576.5,690.3l0.01,0M583.8,375.7l0.01,0" stroke="#492f15" stroke-width="2.5"/>
<path d="M552.7,506.3l0.01,0M531.2,634.4l0.03,1.17M484.3,204.3l0.01,0M707.9,496.9l0.01,0M474.9,190.1l0.01,0M715.5,175l-0.85,1.39M704.1,405.1l0.01,0M480.4,615.1l0.01,0M558.8,277.6l0.01,0M576.5,690.3l0.01,0M583.8,375.7l0.01,0" stroke="#e09040" stroke-width="1.7"/>
<path d="M737.2,235.8l0.01,0M582,688l0.01,0M479.4,558.3l0.01,0M576.6,195.5l0.01,0M534.6,308.5l0.01,0M743.8,368.1l0.01,0M589.9,597l0.01,0M544.5,431.8l0.65,0.61M642.9,374.6l0.01,0M717.7,308l0.25,0.9M614.8,236.2l0.01,0M614.5,744.6l0.01,0M660.3,540.9l0.01,0M584.2,576.4l0.01,0" stroke="#1e4248" stroke-width="2.5"/>
<path d="M737.2,235.8l0.01,0M582,688l0.01,0M479.4,558.3l0.01,0M576.6,195.5l0.01,0M534.6,308.5l0.01,0M743.8,368.1l0.01,0M589.9,597l0.01,0M544.5,431.8l0.65,0.61M642.9,374.6l0.01,0M717.7,308l0.25,0.9M614.8,236.2l0.01,0M614.5,744.6l0.01,0M660.3,540.9l0.01,0M584.2,576.4l0.01,0" stroke="#5cc8dc" stroke-width="1.7"/>
<path d="M679,544.9l0.01,0M717.5,585.4l0.01,0M465.5,466.9l0.01,0M741.3,449.6l0.01,0M665.5,311.4l0.01,0M516.7,156.6l0.01,0M697,508.3l0.01,0M602.6,325.4l0.01,0M659.5,342.1l0.01,0M695.4,244.3l0.01,0M468.5,265.6l0.01,0" stroke="#47242f" stroke-width="2.5"/>
<path d="M679,544.9l0.01,0M717.5,585.4l0.01,0M465.5,466.9l0.01,0M741.3,449.6l0.01,0M665.5,311.4l0.01,0M516.7,156.6l0.01,0M697,508.3l0.01,0M602.6,325.4l0.01,0M659.5,342.1l0.01,0M695.4,244.3l0.01,0M468.5,265.6l0.01,0" stroke="#d87090" stroke-width="1.7"/>
<path d="M720.5,372.2l0.01,0M487.4,311.7l0.01,0M635.6,481.2l0.01,0M504.4,405.6l0.01,0M606.5,278.7l0.01,0M521.9,533.3l0.01,0M515.2,633.9l0.01,0" stroke="#243c3c" stroke-width="2.5"/>
<path d="M720.5,372.2l0.01,0M487.4,311.7l0.01,0M635.6,481.2l0.01,0M504.4,405.6l0.01,0M606.5,278.7l0.01,0M521.9,533.3l0.01,0M515.2,633.9l0.01,0" stroke="#70b8b8" stroke-width="1.7"/>
<path d="M710.8,460.5l0.01,0M591.4,169.7l0.01,0M634.3,357.2l0.01,0M651.3,299.6l0.01,0M548.5,233.8l0.01,0M512.3,584.3l1.41,3.94M642.6,201.4l0.01,0M500.9,508.4l0.01,0M579.7,323.4l0.01,0" stroke="#0a0a32" stroke-width="2.5"/>
<path d="M710.8,460.5l0.01,0M591.4,169.7l0.01,0M634.3,357.2l0.01,0M651.3,299.6l0.01,0M548.5,233.8l0.01,0M512.3,584.3l1.41,3.94M642.6,201.4l0.01,0M500.9,508.4l0.01,0M579.7,323.4l0.01,0" stroke="#20209a" stroke-width="1.7"/>
<path d="M459,392.2l0.01,0M516.3,208.7l0.01,0M659.1,252l0.01,0M675.2,392.5l0.01,0M658.8,313.2l1.51,1.05M717.9,454.9l0.01,0M507.7,564.9l0.01,0M500.5,665.8l0.01,0M529.1,507.4l0.01,0M613.8,500.3l0.01,0M685.1,536.7l0.01,0M722.6,421.1l0.65,0.99M684.2,529.4l0.01,0M567.8,596.6l0.01,0M605.9,722.8l0.01,0" stroke="#1d3a30" stroke-width="2.5"/>
<path d="M459,392.2l0.01,0M516.3,208.7l0.01,0M659.1,252l0.01,0M675.2,392.5l0.01,0M658.8,313.2l1.51,1.05M717.9,454.9l0.01,0M507.7,564.9l0.01,0M500.5,665.8l0.01,0M529.1,507.4l0.01,0M613.8,500.3l0.01,0M685.1,536.7l0.01,0M722.6,421.1l0.65,0.99M684.2,529.4l0.01,0M567.8,596.6l0.01,0M605.9,722.8l0.01,0" stroke="#58b094" stroke-width="1.7"/>
<path d="M568,555.4l-2.5,2.1M574,486.6l0.01,0M626.2,248.2l0.01,0M508.7,241.3l0.01,0M717.7,332.9l-0.42,0.17M540.5,315.9l0.01,0M727.1,266.6l0.01,0M682.9,536.5l0.01,0M658.2,548.5l0.01,0" stroke="#401940" stroke-width="2.5"/>
<path d="M568,555.4l-2.5,2.1M574,486.6l0.01,0M626.2,248.2l0.01,0M508.7,241.3l0.01,0M717.7,332.9l-0.42,0.17M540.5,315.9l0.01,0M727.1,266.6l0.01,0M682.9,536.5l0.01,0M658.2,548.5l0.01,0" stroke="#c44cc4" stroke-width="1.7"/>
<path d="M692,356.9l-1.11,1.47M659.1,245.2l0.01,0M617.4,129.9l0.01,0M639.2,285l0.01,0M646.8,410.1l0.01,0M559.3,570.5l0.01,1.49M607,533.8l-0.4,4.23M525,426.3l0.01,0" stroke="#483f28" stroke-width="2.5"/>
<path d="M692,356.9l-1.11,1.47M659.1,245.2l0.01,0M617.4,129.9l0.01,0M639.2,285l0.01,0M646.8,410.1l0.01,0M559.3,570.5l0.01,1.49M607,533.8l-0.4,4.23M525,426.3l0.01,0" stroke="#dcc07a" stroke-width="1.7"/>
<path d="M627,540.5l0.01,0M640.6,397.9l0.01,0M648.6,251.1l0.01,0M694,568.9l0.01,0M626,736.6l0.33,0.71M703.7,560.7l0.01,0M568.1,228.7l0.52,1.53M489.2,333l0.01,0" stroke="#431111" stroke-width="2.5"/>
<path d="M627,540.5l0.01,0M640.6,397.9l0.01,0M648.6,251.1l0.01,0M694,568.9l0.01,0M626,736.6l0.33,0.71M703.7,560.7l0.01,0M568.1,228.7l0.52,1.53M489.2,333l0.01,0" stroke="#cc3434" stroke-width="1.7"/>
<path d="M601.2,542.7l0.01,0M698.4,457.6l0.01,0M697.8,440.7l0.01,0M615.7,570.1l0.01,0M576,323.4l0.01,0M703.3,374.2l0.01,0M576.3,712.9l0.01,0" stroke="#48471d" stroke-width="2.5"/>
<path d="M601.2,542.7l0.01,0M698.4,457.6l0.01,0M697.8,440.7l0.01,0M615.7,570.1l0.01,0M576,323.4l0.01,0M703.3,374.2l0.01,0M576.3,712.9l0.01,0" stroke="#dcd858" stroke-width="1.7"/>
<path d="M606.1,605.1l0.01,0M697.7,147.4l0.01,0M613.5,636.1l0.01,0M538.4,369.7l0.01,0M698.3,303.9l0.01,0M579.3,397.9l0.01,0M678,256.9l0.01,0" stroke="#401940" stroke-width="3.1"/>
<path d="M606.1,605.1l0.01,0M697.7,147.4l0.01,0M613.5,636.1l0.01,0M538.4,369.7l0.01,0M698.3,303.9l0.01,0M579.3,397.9l0.01,0M678,256.9l0.01,0" stroke="#c44cc4" stroke-width="2.2"/>
<path d="M685.6,552.8l0.01,0M720.9,248.6l0.01,0M534,331.4l0.01,0M603.1,547.6l0.01,0" stroke="#47242f" stroke-width="3.1"/>
<path d="M685.6,552.8l0.01,0M720.9,248.6l0.01,0M534,331.4l0.01,0M603.1,547.6l0.01,0" stroke="#d87090" stroke-width="2.2"/>
<path d="M625.6,272.5l0.01,0M638.3,529.2l0.46,0.42M641.3,653.1l0.01,0M660.1,680.9l0.01,0M623.8,497l0.01,0M587.1,638.5l0.01,0M598.3,638.9l0.01,0M611.5,228.1l0.01,0" stroke="#1e4248" stroke-width="3.1"/>
<path d="M625.6,272.5l0.01,0M638.3,529.2l0.46,0.42M641.3,653.1l0.01,0M660.1,680.9l0.01,0M623.8,497l0.01,0M587.1,638.5l0.01,0M598.3,638.9l0.01,0M611.5,228.1l0.01,0" stroke="#5cc8dc" stroke-width="2.2"/>
<path d="M526.6,418.3l0.17,0.94M683.1,452.1l0.01,0M565.7,632.9l0.01,0M520.9,361.6l-0.59,0.09M609,495.9l0.01,0" stroke="#48471d" stroke-width="3.1"/>
<path d="M526.6,418.3l0.17,0.94M683.1,452.1l0.01,0M565.7,632.9l0.01,0M520.9,361.6l-0.59,0.09M609,495.9l0.01,0" stroke="#dcd858" stroke-width="2.2"/>
<path d="M597,388.2l0.01,0M660,694.8l0.22,2.5M597.8,391.2l0.93,1.41" stroke="#483f28" stroke-width="3.1"/>
<path d="M597,388.2l0.01,0M660,694.8l0.22,2.5M597.8,391.2l0.93,1.41" stroke="#dcc07a" stroke-width="2.2"/>
<path d="M692.3,569.7l0.01,0M531.5,587.8l0.01,0M675,283.2l0.01,0" stroke="#174417" stroke-width="3.1"/>
<path d="M692.3,569.7l0.01,0M531.5,587.8l0.01,0M675,283.2l0.01,0" stroke="#48d048" stroke-width="2.2"/>
<path d="M661.8,649.6l0.01,0M654,568.9l0.01,0M718.7,433.5l-2.11,0.99M589.3,240l0.01,0M584.4,284.3l0.01,0M606.7,535.3l0.01,0M534.3,597.9l0.01,0" stroke="#243c3c" stroke-width="3.1"/>
<path d="M661.8,649.6l0.01,0M654,568.9l0.01,0M718.7,433.5l-2.11,0.99M589.3,240l0.01,0M584.4,284.3l0.01,0M606.7,535.3l0.01,0M534.3,597.9l0.01,0" stroke="#70b8b8" stroke-width="2.2"/>
<path d="M496,424.9l0.01,0M456.5,461.1l1.65,1.68M585.4,149.8l-1.24,0.17M528.3,424.2l0.01,0" stroke="#431111" stroke-width="3.1"/>
<path d="M496,424.9l0.01,0M456.5,461.1l1.65,1.68M585.4,149.8l-1.24,0.17M528.3,424.2l0.01,0" stroke="#cc3434" stroke-width="2.2"/>
<path d="M620,423.2l-0.65,0.38M692.1,277.6l0.01,0M577.9,358.5l0.01,0M739.6,390.6l0.01,0M553.9,467.9l0.01,0" stroke="#0a0a32" stroke-width="3.1"/>
<path d="M620,423.2l-0.65,0.38M692.1,277.6l0.01,0M577.9,358.5l0.01,0M739.6,390.6l0.01,0M553.9,467.9l0.01,0" stroke="#20209a" stroke-width="2.2"/>
<path d="M541.8,477.3l0.01,0M573.3,178.8l0.01,0M682.2,431.7l0.01,0M526.6,508.4l0.01,0M453.8,479.8l0.01,0" stroke="#492f15" stroke-width="3.1"/>
<path d="M541.8,477.3l0.01,0M573.3,178.8l0.01,0M682.2,431.7l0.01,0M526.6,508.4l0.01,0M453.8,479.8l0.01,0" stroke="#e09040" stroke-width="2.2"/>
<path d="M594.2,153.4l0.01,0M590.6,169l0.01,0M629.6,638.9l0.01,0" stroke="#182b44" stroke-width="3.1"/>
<path d="M594.2,153.4l0.01,0M590.6,169l0.01,0M629.6,638.9l0.01,0" stroke="#4a84d0" stroke-width="2.2"/>
<path d="M596.9,336.9l0.01,0" stroke="#1d3a30" stroke-width="3.1"/>
<path d="M596.9,336.9l0.01,0" stroke="#58b094" stroke-width="2.2"/>
<path d="M606,145 l.01,0" stroke="#662266" stroke-width="3.2"/>
<path d="M606,145 l.01,0" stroke="#cc44cc" stroke-width="2.6"/>
<path d="M565,219 l.01,0" stroke="#0e0e4e" stroke-width="3.2"/>
<path d="M565,219 l.01,0" stroke="#1c1c9c" stroke-width="2.6"/>
<path d="M501,256 l.01,0" stroke="#22446e" stroke-width="3.2"/>
<path d="M501,256 l.01,0" stroke="#4488dd" stroke-width="2.6"/>
<path d="M512,257 l1.5,-2" stroke="#737028" stroke-width="3"/>
<path d="M512,257 l1.5,-2" stroke="#e6e050" stroke-width="2.4"/>
<path d="M668,273 l3,-2" stroke="#691919" stroke-width="3.2"/>
<path d="M668,273 l3,-2" stroke="#d23232" stroke-width="2.6"/>
<path d="M629,278 l.01,0" stroke="#691919" stroke-width="2.8"/>
<path d="M629,278 l.01,0" stroke="#d23232" stroke-width="2.2"/>
<path d="M600,277 l.01,0" stroke="#662266" stroke-width="2.8"/>
<path d="M600,277 l.01,0" stroke="#cc44cc" stroke-width="2.2"/>
<path d="M517,421 l1,3" stroke="#226e22" stroke-width="3"/>
<path d="M517,421 l1,3" stroke="#44dd44" stroke-width="2.4"/>
<path d="M678,415 l3,1" stroke="#226e22" stroke-width="3"/>
<path d="M678,415 l3,1" stroke="#44dd44" stroke-width="2.4"/>
<path d="M582,132 l3,0" stroke="#0e0e4e" stroke-width="2.8"/>
<path d="M582,132 l3,0" stroke="#1c1c9c" stroke-width="2.2"/>
<path d="M578,329 l.01,0" stroke="#2a6b73" stroke-width="2.8"/>
<path d="M578,329 l.01,0" stroke="#55d6e6" stroke-width="2.2"/>
<path d="M590,342 l0,2" stroke="#22446e" stroke-width="2.8"/>
<path d="M590,342 l0,2" stroke="#4488dd" stroke-width="2.2"/>
<path d="M601,510 l2,-3" stroke="#662266" stroke-width="3"/>
<path d="M601,510 l2,-3" stroke="#cc44cc" stroke-width="2.4"/>
<path d="M607,506 l1,-2" stroke="#0e0e4e" stroke-width="3"/>
<path d="M607,506 l1,-2" stroke="#1c1c9c" stroke-width="2.4"/>
<path d="M707,560 l3,1" stroke="#662266" stroke-width="2.8"/>
<path d="M707,560 l3,1" stroke="#cc44cc" stroke-width="2.2"/>
<path d="M520,120 l.01,0" stroke="#691919" stroke-width="2.6"/>
<path d="M520,120 l.01,0" stroke="#d23232" stroke-width="2"/>
<path d="M495,335 l.01,0" stroke="#691919" stroke-width="2.6"/>
<path d="M495,335 l.01,0" stroke="#d23232" stroke-width="2"/>
<path d="M570,603 l2,2" stroke="#0e0e4e" stroke-width="2.8"/>
<path d="M570,603 l2,2" stroke="#1c1c9c" stroke-width="2.2"/>
<path d="M590,608 l.01,0" stroke="#226e22" stroke-width="2.6"/>
<path d="M590,608 l.01,0" stroke="#44dd44" stroke-width="2"/>
<path d="M620,543 l2,1" stroke="#22446e" stroke-width="2.8"/>
<path d="M620,543 l2,1" stroke="#4488dd" stroke-width="2.2"/>
<path d="M633,495 l.01,0" stroke="#737028" stroke-width="2.6"/>
<path d="M633,495 l.01,0" stroke="#e6e050" stroke-width="2"/>
</g>
<rect x="37.3" y="28" width="365.8" height="813.3" fill="none" stroke="#000" stroke-width="2.6"/>
<rect x="418.2" y="28" width="365.8" height="813.3" fill="none" stroke="#000" stroke-width="2.6"/>
<text x="48.5" y="79" font-size="53">(a)</text>
<text x="427.6" y="81.3" font-size="53">(b)</text>
<text x="256.3" y="808.8" font-size="52">1mm</text>
<rect x="266.1" y="823.8" width="96" height="7.2" fill="#000"/>
<text x="636.3" y="806" font-size="52">1mm</text>
<rect x="646.1" y="821.2" width="96" height="7.4" fill="#000"/>
<rect x="947.0" y="61.0" width="782.3" height="631.0" fill="url(#bg)"/>
<line x1="1220.5" y1="673.1" x2="1455.2" y2="598.0" stroke="#000" stroke-width="2.9"/>
<line x1="1220.5" y1="490.7" x2="1455.2" y2="375.2" stroke="#000" stroke-width="2.9"/>
<line x1="1220.5" y1="293.2" x2="1455.2" y2="190.4" stroke="#000" stroke-width="2.9"/>
<line x1="1220.5" y1="164.5" x2="1455.2" y2="98.5" stroke="#000" stroke-width="2.9"/>
<line x1="1220.5" y1="103.3" x2="1455.2" y2="71.1" stroke="#000" stroke-width="2.9"/>
<line x1="1220.5" y1="82.5" x2="1455.2" y2="63.4" stroke="#000" stroke-width="2.9"/>
<line x1="1220.5" y1="72.3" x2="1455.2" y2="62.6" stroke="#000" stroke-width="2.9"/>
<line x1="1220.5" y1="69.3" x2="1455.2" y2="61.8" stroke="#000" stroke-width="2.9"/>
<rect x="1064.1" y="673.07" width="156.3" height="18.93" fill="url(#g0)"/>
<rect x="1064.1" y="673.07" width="156.3" height="18.93" fill="url(#pdot_0)" stroke="#000" stroke-width="2.3"/>
<rect x="1064.1" y="490.71" width="156.3" height="182.36" fill="url(#g1)"/>
<rect x="1064.1" y="490.71" width="156.3" height="182.36" fill="url(#pfw_1)" stroke="#000" stroke-width="2.3"/>
<rect x="1064.1" y="293.21" width="156.3" height="197.50" fill="url(#g2)"/>
<rect x="1064.1" y="293.21" width="156.3" height="197.50" fill="url(#pbk_2)" stroke="#000" stroke-width="2.3"/>
<rect x="1064.1" y="164.48" width="156.3" height="128.72" fill="url(#g3)"/>
<rect x="1064.1" y="164.48" width="156.3" height="128.72" fill="url(#pxx_3)" stroke="#000" stroke-width="2.3"/>
<rect x="1064.1" y="103.28" width="156.3" height="61.21" fill="url(#g4)"/>
<rect x="1064.1" y="103.28" width="156.3" height="61.21" fill="url(#pfine)" stroke="#000" stroke-width="2.3"/>
<rect x="1064.1" y="82.45" width="156.3" height="20.82" fill="url(#g5)"/>
<rect x="1064.1" y="82.45" width="156.3" height="20.82" fill="url(#pfine)" stroke="#000" stroke-width="2.3"/>
<rect x="1064.1" y="72.29" width="156.3" height="10.16" fill="url(#g6)"/>
<rect x="1064.1" y="72.29" width="156.3" height="10.16" fill="url(#pfine)" stroke="#000" stroke-width="2.3"/>
<rect x="1064.1" y="69.27" width="156.3" height="3.03" fill="#000" stroke="#000" stroke-width="2.3"/>
<rect x="1064.1" y="61.00" width="156.3" height="8.27" fill="url(#g8)"/>
<rect x="1064.1" y="61.00" width="156.3" height="8.27" fill="url(#pfine)" stroke="#000" stroke-width="2.3"/>
<rect x="1455.2" y="597.98" width="156.4" height="94.02" fill="url(#g0)"/>
<rect x="1455.2" y="597.98" width="156.4" height="94.02" fill="url(#pdot_4)" stroke="#000" stroke-width="2.3"/>
<rect x="1455.2" y="375.24" width="156.4" height="222.74" fill="url(#g1)"/>
<rect x="1455.2" y="375.24" width="156.4" height="222.74" fill="url(#pfw_5)" stroke="#000" stroke-width="2.3"/>
<rect x="1455.2" y="190.35" width="156.4" height="184.88" fill="url(#g2)"/>
<rect x="1455.2" y="190.35" width="156.4" height="184.88" fill="url(#pbk_6)" stroke="#000" stroke-width="2.3"/>
<rect x="1455.2" y="98.54" width="156.4" height="91.81" fill="url(#g3)"/>
<rect x="1455.2" y="98.54" width="156.4" height="91.81" fill="url(#pxx_7)" stroke="#000" stroke-width="2.3"/>
<rect x="1455.2" y="71.10" width="156.4" height="27.45" fill="url(#g4)"/>
<rect x="1455.2" y="71.10" width="156.4" height="27.45" fill="url(#pfine)" stroke="#000" stroke-width="2.3"/>
<rect x="1455.2" y="63.40" width="156.4" height="7.70" fill="url(#g5)"/>
<rect x="1455.2" y="63.40" width="156.4" height="7.70" fill="url(#pfine)" stroke="#000" stroke-width="2.3"/>
<rect x="1455.2" y="62.58" width="156.4" height="0.82" fill="#000" stroke="#000" stroke-width="2.3"/>
<rect x="1455.2" y="61.76" width="156.4" height="0.82" fill="#000" stroke="#000" stroke-width="2.3"/>
<rect x="1455.2" y="61.00" width="156.4" height="0.76" fill="#000" stroke="#000" stroke-width="2.3"/>
<rect x="947.0" y="61.0" width="782.3" height="631.0" fill="none" stroke="#000" stroke-width="2.3"/>
<line x1="934.5" y1="692.0" x2="947.0" y2="692.0" stroke="#000" stroke-width="2.3"/>
<line x1="941.5" y1="628.9" x2="947.0" y2="628.9" stroke="#000" stroke-width="2.3"/>
<line x1="934.5" y1="565.8" x2="947.0" y2="565.8" stroke="#000" stroke-width="2.3"/>
<line x1="941.5" y1="502.7" x2="947.0" y2="502.7" stroke="#000" stroke-width="2.3"/>
<line x1="934.5" y1="439.6" x2="947.0" y2="439.6" stroke="#000" stroke-width="2.3"/>
<line x1="941.5" y1="376.5" x2="947.0" y2="376.5" stroke="#000" stroke-width="2.3"/>
<line x1="934.5" y1="313.4" x2="947.0" y2="313.4" stroke="#000" stroke-width="2.3"/>
<line x1="941.5" y1="250.3" x2="947.0" y2="250.3" stroke="#000" stroke-width="2.3"/>
<line x1="934.5" y1="187.2" x2="947.0" y2="187.2" stroke="#000" stroke-width="2.3"/>
<line x1="941.5" y1="124.1" x2="947.0" y2="124.1" stroke="#000" stroke-width="2.3"/>
<line x1="934.5" y1="61.0" x2="947.0" y2="61.0" stroke="#000" stroke-width="2.3"/>
<line x1="1142.3" y1="692.0" x2="1142.3" y2="703.5" stroke="#000" stroke-width="2.3"/>
<line x1="1533.5" y1="692.0" x2="1533.5" y2="703.5" stroke="#000" stroke-width="2.3"/>
<text x="925.9" y="707.9" text-anchor="end" font-size="55">0.0</text>
<text x="925.9" y="581.7" text-anchor="end" font-size="55">0.2</text>
<text x="925.9" y="455.5" text-anchor="end" font-size="55">0.4</text>
<text x="925.9" y="329.3" text-anchor="end" font-size="55">0.6</text>
<text x="925.9" y="203.1" text-anchor="end" font-size="55">0.8</text>
<text x="925.9" y="76.9" text-anchor="end" font-size="55">1.0</text>
<text x="1142.8" y="749.8" text-anchor="middle" font-size="54">0RE</text>
<text x="1544.7" y="749.8" text-anchor="middle" font-size="54">0.06RE</text>
<text x="1348.8" y="826" text-anchor="middle" font-size="53.8">Sample number</text>
<text transform="translate(841.2,375.4) rotate(-90)" text-anchor="middle" font-size="54">Frequency</text>
<text x="966" y="115.5" font-size="53">(c)</text>
<rect x="1744.7" y="64.7" width="81" height="39.9" fill="url(#l8)"/>
<rect x="1744.7" y="64.7" width="81" height="39.9" fill="url(#pfine)" stroke="#000" stroke-width="3" stroke-linejoin="round"/>
<path d="M1853.6,72.8L1884.6,84.7L1853.6,96.6" fill="none" stroke="#000" stroke-width="2.8" stroke-linejoin="miter"/>
<text x="1889.3" y="99.8" font-size="41.7">40 µm</text>
<rect x="1744.7" y="116.9" width="81" height="39.9" fill="url(#l7)"/>
<rect x="1744.7" y="116.9" width="81" height="39.9" fill="url(#pfine)" stroke="#000" stroke-width="3" stroke-linejoin="round"/>
<text x="1846.8" y="152.0" font-size="41.7">35-40 µm</text>
<rect x="1744.7" y="169.1" width="81" height="39.9" fill="url(#l6)"/>
<rect x="1744.7" y="169.1" width="81" height="39.9" fill="url(#pfine)" stroke="#000" stroke-width="3" stroke-linejoin="round"/>
<text x="1846.8" y="204.2" font-size="41.7">30-35 µm</text>
<rect x="1744.7" y="221.3" width="81" height="39.9" fill="url(#l5)"/>
<rect x="1744.7" y="221.3" width="81" height="39.9" fill="url(#pfine)" stroke="#000" stroke-width="3" stroke-linejoin="round"/>
<text x="1846.8" y="256.4" font-size="41.7">25-30 µm</text>
<rect x="1744.7" y="273.5" width="81" height="39.9" fill="url(#l4)"/>
<rect x="1744.7" y="273.5" width="81" height="39.9" fill="url(#pfine)" stroke="#000" stroke-width="3" stroke-linejoin="round"/>
<text x="1846.8" y="308.6" font-size="41.7">20-25 µm</text>
<rect x="1744.7" y="325.7" width="81" height="39.9" fill="url(#l3)"/>
<rect x="1744.7" y="325.7" width="81" height="39.9" fill="url(#pxx_8)" stroke="#000" stroke-width="3" stroke-linejoin="round"/>
<text x="1846.8" y="360.8" font-size="41.7">15-20 µm</text>
<rect x="1744.7" y="377.9" width="81" height="39.9" fill="url(#l2)"/>
<rect x="1744.7" y="377.9" width="81" height="39.9" fill="url(#pbk_9)" stroke="#000" stroke-width="3" stroke-linejoin="round"/>
<text x="1846.8" y="413.0" font-size="41.7">10-15 µm</text>
<rect x="1744.7" y="430.1" width="81" height="39.9" fill="url(#l1)"/>
<rect x="1744.7" y="430.1" width="81" height="39.9" fill="url(#pfw_10)" stroke="#000" stroke-width="3" stroke-linejoin="round"/>
<text x="1846.8" y="465.2" font-size="41.7">5-10 µm</text>
<rect x="1744.7" y="482.3" width="81" height="39.9" fill="url(#l0)"/>
<rect x="1744.7" y="482.3" width="81" height="39.9" fill="url(#pdot_11)" stroke="#000" stroke-width="3" stroke-linejoin="round"/>
<text x="1846.8" y="517.4" font-size="41.7">0-5 µm</text>
</svg>
</body></html>
